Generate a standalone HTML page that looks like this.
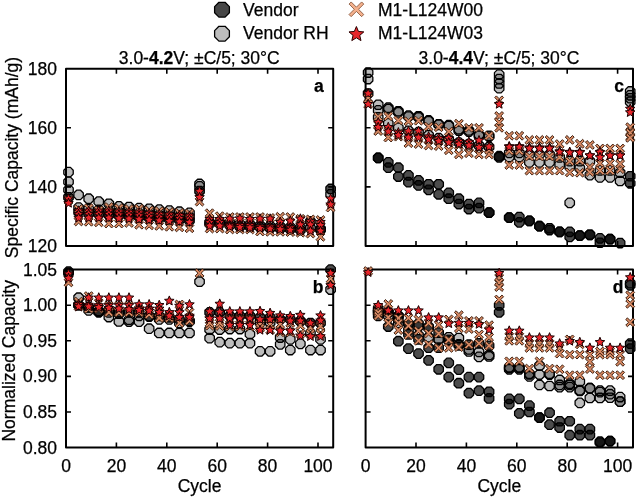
<!DOCTYPE html><html><head><meta charset="utf-8"><style>html,body{margin:0;padding:0;background:#fff;overflow:hidden;width:637px;height:497px;}svg{display:block;filter:blur(0.5px);}</style></head><body>
<svg width="637" height="497" viewBox="0 0 637 497" font-family='"Liberation Sans", sans-serif'>
<rect width="637" height="497" fill="#fff"/>
<rect x="66.00" y="68.70" width="267.20" height="177.30" fill="none" stroke="#000" stroke-width="2" stroke-linejoin="round"/>
<path d="M116.40 68.70V73.70M116.40 246.00V241.00" stroke="#000" stroke-width="1.6"/>
<path d="M166.80 68.70V73.70M166.80 246.00V241.00" stroke="#000" stroke-width="1.6"/>
<path d="M217.20 68.70V73.70M217.20 246.00V241.00" stroke="#000" stroke-width="1.6"/>
<path d="M267.60 68.70V73.70M267.60 246.00V241.00" stroke="#000" stroke-width="1.6"/>
<path d="M318.00 68.70V73.70M318.00 246.00V241.00" stroke="#000" stroke-width="1.6"/>
<path d="M66.00 186.90H71.00M333.20 186.90H328.20" stroke="#000" stroke-width="1.6"/>
<path d="M66.00 127.80H71.00M333.20 127.80H328.20" stroke="#000" stroke-width="1.6"/>
<rect x="365.60" y="68.70" width="267.40" height="177.30" fill="none" stroke="#000" stroke-width="2" stroke-linejoin="round"/>
<path d="M416.00 68.70V73.70M416.00 246.00V241.00" stroke="#000" stroke-width="1.6"/>
<path d="M466.40 68.70V73.70M466.40 246.00V241.00" stroke="#000" stroke-width="1.6"/>
<path d="M516.80 68.70V73.70M516.80 246.00V241.00" stroke="#000" stroke-width="1.6"/>
<path d="M567.20 68.70V73.70M567.20 246.00V241.00" stroke="#000" stroke-width="1.6"/>
<path d="M617.60 68.70V73.70M617.60 246.00V241.00" stroke="#000" stroke-width="1.6"/>
<path d="M365.60 186.90H370.60M633.00 186.90H628.00" stroke="#000" stroke-width="1.6"/>
<path d="M365.60 127.80H370.60M633.00 127.80H628.00" stroke="#000" stroke-width="1.6"/>
<rect x="66.00" y="269.60" width="267.20" height="178.00" fill="none" stroke="#000" stroke-width="2" stroke-linejoin="round"/>
<path d="M116.40 269.60V274.60M116.40 447.60V442.60" stroke="#000" stroke-width="1.6"/>
<path d="M166.80 269.60V274.60M166.80 447.60V442.60" stroke="#000" stroke-width="1.6"/>
<path d="M217.20 269.60V274.60M217.20 447.60V442.60" stroke="#000" stroke-width="1.6"/>
<path d="M267.60 269.60V274.60M267.60 447.60V442.60" stroke="#000" stroke-width="1.6"/>
<path d="M318.00 269.60V274.60M318.00 447.60V442.60" stroke="#000" stroke-width="1.6"/>
<path d="M66.00 412.00H71.00M333.20 412.00H328.20" stroke="#000" stroke-width="1.6"/>
<path d="M66.00 376.40H71.00M333.20 376.40H328.20" stroke="#000" stroke-width="1.6"/>
<path d="M66.00 340.80H71.00M333.20 340.80H328.20" stroke="#000" stroke-width="1.6"/>
<path d="M66.00 305.20H71.00M333.20 305.20H328.20" stroke="#000" stroke-width="1.6"/>
<rect x="365.60" y="269.60" width="267.40" height="178.00" fill="none" stroke="#000" stroke-width="2" stroke-linejoin="round"/>
<path d="M416.00 269.60V274.60M416.00 447.60V442.60" stroke="#000" stroke-width="1.6"/>
<path d="M466.40 269.60V274.60M466.40 447.60V442.60" stroke="#000" stroke-width="1.6"/>
<path d="M516.80 269.60V274.60M516.80 447.60V442.60" stroke="#000" stroke-width="1.6"/>
<path d="M567.20 269.60V274.60M567.20 447.60V442.60" stroke="#000" stroke-width="1.6"/>
<path d="M617.60 269.60V274.60M617.60 447.60V442.60" stroke="#000" stroke-width="1.6"/>
<path d="M365.60 412.00H370.60M633.00 412.00H628.00" stroke="#000" stroke-width="1.6"/>
<path d="M365.60 376.40H370.60M633.00 376.40H628.00" stroke="#000" stroke-width="1.6"/>
<path d="M365.60 340.80H370.60M633.00 340.80H628.00" stroke="#000" stroke-width="1.6"/>
<path d="M365.60 305.20H370.60M633.00 305.20H628.00" stroke="#000" stroke-width="1.6"/>
<polygon points="83.31,196.83 80.55,199.59 76.65,199.59 73.89,196.83 73.89,192.93 76.65,190.17 80.55,190.17 83.31,192.93" fill="rgba(0,0,0,0.26)" stroke="#000" stroke-width="1.30" stroke-linejoin="round"/>
<polygon points="93.39,200.67 90.63,203.43 86.73,203.43 83.97,200.67 83.97,196.77 86.73,194.01 90.63,194.01 93.39,196.77" fill="rgba(0,0,0,0.26)" stroke="#000" stroke-width="1.30" stroke-linejoin="round"/>
<polygon points="103.47,203.63 100.71,206.39 96.81,206.39 94.05,203.63 94.05,199.72 96.81,196.96 100.71,196.96 103.47,199.72" fill="rgba(0,0,0,0.26)" stroke="#000" stroke-width="1.30" stroke-linejoin="round"/>
<polygon points="113.55,205.70 110.79,208.46 106.89,208.46 104.13,205.70 104.13,201.79 106.89,199.03 110.79,199.03 113.55,201.79" fill="rgba(0,0,0,0.26)" stroke="#000" stroke-width="1.30" stroke-linejoin="round"/>
<polygon points="123.63,208.35 120.87,211.11 116.97,211.11 114.21,208.35 114.21,204.45 116.97,201.69 120.87,201.69 123.63,204.45" fill="rgba(0,0,0,0.26)" stroke="#000" stroke-width="1.30" stroke-linejoin="round"/>
<polygon points="133.71,208.95 130.95,211.71 127.05,211.71 124.29,208.95 124.29,205.04 127.05,202.28 130.95,202.28 133.71,205.04" fill="rgba(0,0,0,0.26)" stroke="#000" stroke-width="1.30" stroke-linejoin="round"/>
<polygon points="143.79,210.13 141.03,212.89 137.13,212.89 134.37,210.13 134.37,206.22 137.13,203.46 141.03,203.46 143.79,206.22" fill="rgba(0,0,0,0.26)" stroke="#000" stroke-width="1.30" stroke-linejoin="round"/>
<polygon points="153.87,210.72 151.11,213.48 147.21,213.48 144.45,210.72 144.45,206.82 147.21,204.06 151.11,204.06 153.87,206.82" fill="rgba(0,0,0,0.26)" stroke="#000" stroke-width="1.30" stroke-linejoin="round"/>
<polygon points="163.95,211.61 161.19,214.37 157.29,214.37 154.53,211.61 154.53,207.70 157.29,204.94 161.19,204.94 163.95,207.70" fill="rgba(0,0,0,0.26)" stroke="#000" stroke-width="1.30" stroke-linejoin="round"/>
<polygon points="174.03,212.49 171.27,215.25 167.37,215.25 164.61,212.49 164.61,208.59 167.37,205.83 171.27,205.83 174.03,208.59" fill="rgba(0,0,0,0.26)" stroke="#000" stroke-width="1.30" stroke-linejoin="round"/>
<polygon points="184.11,213.67 181.35,216.43 177.45,216.43 174.69,213.67 174.69,209.77 177.45,207.01 181.35,207.01 184.11,209.77" fill="rgba(0,0,0,0.26)" stroke="#000" stroke-width="1.30" stroke-linejoin="round"/>
<polygon points="194.19,214.86 191.43,217.62 187.53,217.62 184.77,214.86 184.77,210.95 187.53,208.19 191.43,208.19 194.19,210.95" fill="rgba(0,0,0,0.26)" stroke="#000" stroke-width="1.30" stroke-linejoin="round"/>
<polygon points="83.31,209.54 80.55,212.30 76.65,212.30 73.89,209.54 73.89,205.63 76.65,202.87 80.55,202.87 83.31,205.63" fill="rgba(0,0,0,0.26)" stroke="#000" stroke-width="1.30" stroke-linejoin="round"/>
<polygon points="93.39,211.01 90.63,213.77 86.73,213.77 83.97,211.01 83.97,207.11 86.73,204.35 90.63,204.35 93.39,207.11" fill="rgba(0,0,0,0.26)" stroke="#000" stroke-width="1.30" stroke-linejoin="round"/>
<polygon points="103.47,211.90 100.71,214.66 96.81,214.66 94.05,211.90 94.05,208.00 96.81,205.24 100.71,205.24 103.47,208.00" fill="rgba(0,0,0,0.26)" stroke="#000" stroke-width="1.30" stroke-linejoin="round"/>
<polygon points="113.55,213.08 110.79,215.84 106.89,215.84 104.13,213.08 104.13,209.18 106.89,206.42 110.79,206.42 113.55,209.18" fill="rgba(0,0,0,0.26)" stroke="#000" stroke-width="1.30" stroke-linejoin="round"/>
<polygon points="123.63,213.97 120.87,216.73 116.97,216.73 114.21,213.97 114.21,210.07 116.97,207.31 120.87,207.31 123.63,210.07" fill="rgba(0,0,0,0.26)" stroke="#000" stroke-width="1.30" stroke-linejoin="round"/>
<polygon points="133.71,214.56 130.95,217.32 127.05,217.32 124.29,214.56 124.29,210.66 127.05,207.90 130.95,207.90 133.71,210.66" fill="rgba(0,0,0,0.26)" stroke="#000" stroke-width="1.30" stroke-linejoin="round"/>
<polygon points="143.79,215.45 141.03,218.21 137.13,218.21 134.37,215.45 134.37,211.54 137.13,208.78 141.03,208.78 143.79,211.54" fill="rgba(0,0,0,0.26)" stroke="#000" stroke-width="1.30" stroke-linejoin="round"/>
<polygon points="153.87,216.04 151.11,218.80 147.21,218.80 144.45,216.04 144.45,212.13 147.21,209.37 151.11,209.37 153.87,212.13" fill="rgba(0,0,0,0.26)" stroke="#000" stroke-width="1.30" stroke-linejoin="round"/>
<polygon points="163.95,216.92 161.19,219.68 157.29,219.68 154.53,216.92 154.53,213.02 157.29,210.26 161.19,210.26 163.95,213.02" fill="rgba(0,0,0,0.26)" stroke="#000" stroke-width="1.30" stroke-linejoin="round"/>
<polygon points="174.03,217.52 171.27,220.28 167.37,220.28 164.61,217.52 164.61,213.61 167.37,210.85 171.27,210.85 174.03,213.61" fill="rgba(0,0,0,0.26)" stroke="#000" stroke-width="1.30" stroke-linejoin="round"/>
<polygon points="184.11,218.40 181.35,221.16 177.45,221.16 174.69,218.40 174.69,214.50 177.45,211.74 181.35,211.74 184.11,214.50" fill="rgba(0,0,0,0.26)" stroke="#000" stroke-width="1.30" stroke-linejoin="round"/>
<polygon points="194.19,218.99 191.43,221.75 187.53,221.75 184.77,218.99 184.77,215.09 187.53,212.33 191.43,212.33 194.19,215.09" fill="rgba(0,0,0,0.26)" stroke="#000" stroke-width="1.30" stroke-linejoin="round"/>
<polygon points="214.35,224.31 211.59,227.07 207.69,227.07 204.93,224.31 204.93,220.41 207.69,217.65 211.59,217.65 214.35,220.41" fill="rgba(0,0,0,0.26)" stroke="#000" stroke-width="1.30" stroke-linejoin="round"/>
<polygon points="224.43,224.31 221.67,227.07 217.77,227.07 215.01,224.31 215.01,220.41 217.77,217.65 221.67,217.65 224.43,220.41" fill="rgba(0,0,0,0.26)" stroke="#000" stroke-width="1.30" stroke-linejoin="round"/>
<polygon points="234.51,224.90 231.75,227.66 227.85,227.66 225.09,224.90 225.09,221.00 227.85,218.24 231.75,218.24 234.51,221.00" fill="rgba(0,0,0,0.26)" stroke="#000" stroke-width="1.30" stroke-linejoin="round"/>
<polygon points="244.59,225.79 241.83,228.55 237.93,228.55 235.17,225.79 235.17,221.89 237.93,219.13 241.83,219.13 244.59,221.89" fill="rgba(0,0,0,0.26)" stroke="#000" stroke-width="1.30" stroke-linejoin="round"/>
<polygon points="254.67,226.38 251.91,229.14 248.01,229.14 245.25,226.38 245.25,222.48 248.01,219.72 251.91,219.72 254.67,222.48" fill="rgba(0,0,0,0.26)" stroke="#000" stroke-width="1.30" stroke-linejoin="round"/>
<polygon points="264.75,227.27 261.99,230.03 258.09,230.03 255.33,227.27 255.33,223.36 258.09,220.60 261.99,220.60 264.75,223.36" fill="rgba(0,0,0,0.26)" stroke="#000" stroke-width="1.30" stroke-linejoin="round"/>
<polygon points="274.83,227.86 272.07,230.62 268.17,230.62 265.41,227.86 265.41,223.95 268.17,221.19 272.07,221.19 274.83,223.95" fill="rgba(0,0,0,0.26)" stroke="#000" stroke-width="1.30" stroke-linejoin="round"/>
<polygon points="284.91,228.45 282.15,231.21 278.25,231.21 275.49,228.45 275.49,224.55 278.25,221.79 282.15,221.79 284.91,224.55" fill="rgba(0,0,0,0.26)" stroke="#000" stroke-width="1.30" stroke-linejoin="round"/>
<polygon points="294.99,229.04 292.23,231.80 288.33,231.80 285.57,229.04 285.57,225.14 288.33,222.38 292.23,222.38 294.99,225.14" fill="rgba(0,0,0,0.26)" stroke="#000" stroke-width="1.30" stroke-linejoin="round"/>
<polygon points="305.07,229.63 302.31,232.39 298.41,232.39 295.65,229.63 295.65,225.73 298.41,222.97 302.31,222.97 305.07,225.73" fill="rgba(0,0,0,0.26)" stroke="#000" stroke-width="1.30" stroke-linejoin="round"/>
<polygon points="315.15,230.22 312.39,232.98 308.49,232.98 305.73,230.22 305.73,226.32 308.49,223.56 312.39,223.56 315.15,226.32" fill="rgba(0,0,0,0.26)" stroke="#000" stroke-width="1.30" stroke-linejoin="round"/>
<polygon points="325.23,230.81 322.47,233.57 318.57,233.57 315.81,230.81 315.81,226.91 318.57,224.15 322.47,224.15 325.23,226.91" fill="rgba(0,0,0,0.26)" stroke="#000" stroke-width="1.30" stroke-linejoin="round"/>
<polygon points="73.23,174.08 70.47,176.84 66.57,176.84 63.81,174.08 63.81,170.17 66.57,167.41 70.47,167.41 73.23,170.17" fill="rgba(0,0,0,0.26)" stroke="#000" stroke-width="1.30" stroke-linejoin="round"/>
<polygon points="73.23,183.83 70.47,186.59 66.57,186.59 63.81,183.83 63.81,179.92 66.57,177.16 70.47,177.16 73.23,179.92" fill="rgba(0,0,0,0.26)" stroke="#000" stroke-width="1.30" stroke-linejoin="round"/>
<polygon points="73.23,191.81 70.47,194.57 66.57,194.57 63.81,191.81 63.81,187.90 66.57,185.14 70.47,185.14 73.23,187.90" fill="rgba(0,0,0,0.26)" stroke="#000" stroke-width="1.30" stroke-linejoin="round"/>
<polygon points="204.27,185.90 201.51,188.66 197.61,188.66 194.85,185.90 194.85,181.99 197.61,179.23 201.51,179.23 204.27,181.99" fill="rgba(0,0,0,0.26)" stroke="#000" stroke-width="1.30" stroke-linejoin="round"/>
<polygon points="204.27,188.26 201.51,191.02 197.61,191.02 194.85,188.26 194.85,184.36 197.61,181.60 201.51,181.60 204.27,184.36" fill="rgba(0,0,0,0.26)" stroke="#000" stroke-width="1.30" stroke-linejoin="round"/>
<polygon points="335.31,196.24 332.55,199.00 328.65,199.00 325.89,196.24 325.89,192.34 328.65,189.58 332.55,189.58 335.31,192.34" fill="rgba(0,0,0,0.26)" stroke="#000" stroke-width="1.30" stroke-linejoin="round"/>
<polygon points="83.31,213.97 80.55,216.73 76.65,216.73 73.89,213.97 73.89,210.07 76.65,207.31 80.55,207.31 83.31,210.07" fill="rgba(0,0,0,0.70)" stroke="#000" stroke-width="1.30" stroke-linejoin="round"/>
<polygon points="93.39,215.45 90.63,218.21 86.73,218.21 83.97,215.45 83.97,211.54 86.73,208.78 90.63,208.78 93.39,211.54" fill="rgba(0,0,0,0.70)" stroke="#000" stroke-width="1.30" stroke-linejoin="round"/>
<polygon points="103.47,216.04 100.71,218.80 96.81,218.80 94.05,216.04 94.05,212.13 96.81,209.37 100.71,209.37 103.47,212.13" fill="rgba(0,0,0,0.70)" stroke="#000" stroke-width="1.30" stroke-linejoin="round"/>
<polygon points="113.55,216.92 110.79,219.68 106.89,219.68 104.13,216.92 104.13,213.02 106.89,210.26 110.79,210.26 113.55,213.02" fill="rgba(0,0,0,0.70)" stroke="#000" stroke-width="1.30" stroke-linejoin="round"/>
<polygon points="123.63,217.52 120.87,220.28 116.97,220.28 114.21,217.52 114.21,213.61 116.97,210.85 120.87,210.85 123.63,213.61" fill="rgba(0,0,0,0.70)" stroke="#000" stroke-width="1.30" stroke-linejoin="round"/>
<polygon points="133.71,218.40 130.95,221.16 127.05,221.16 124.29,218.40 124.29,214.50 127.05,211.74 130.95,211.74 133.71,214.50" fill="rgba(0,0,0,0.70)" stroke="#000" stroke-width="1.30" stroke-linejoin="round"/>
<polygon points="143.79,218.99 141.03,221.75 137.13,221.75 134.37,218.99 134.37,215.09 137.13,212.33 141.03,212.33 143.79,215.09" fill="rgba(0,0,0,0.70)" stroke="#000" stroke-width="1.30" stroke-linejoin="round"/>
<polygon points="153.87,219.88 151.11,222.64 147.21,222.64 144.45,219.88 144.45,215.98 147.21,213.22 151.11,213.22 153.87,215.98" fill="rgba(0,0,0,0.70)" stroke="#000" stroke-width="1.30" stroke-linejoin="round"/>
<polygon points="163.95,220.47 161.19,223.23 157.29,223.23 154.53,220.47 154.53,216.57 157.29,213.81 161.19,213.81 163.95,216.57" fill="rgba(0,0,0,0.70)" stroke="#000" stroke-width="1.30" stroke-linejoin="round"/>
<polygon points="174.03,221.36 171.27,224.12 167.37,224.12 164.61,221.36 164.61,217.45 167.37,214.69 171.27,214.69 174.03,217.45" fill="rgba(0,0,0,0.70)" stroke="#000" stroke-width="1.30" stroke-linejoin="round"/>
<polygon points="184.11,221.95 181.35,224.71 177.45,224.71 174.69,221.95 174.69,218.04 177.45,215.28 181.35,215.28 184.11,218.04" fill="rgba(0,0,0,0.70)" stroke="#000" stroke-width="1.30" stroke-linejoin="round"/>
<polygon points="194.19,222.54 191.43,225.30 187.53,225.30 184.77,222.54 184.77,218.64 187.53,215.88 191.43,215.88 194.19,218.64" fill="rgba(0,0,0,0.70)" stroke="#000" stroke-width="1.30" stroke-linejoin="round"/>
<polygon points="214.35,225.79 211.59,228.55 207.69,228.55 204.93,225.79 204.93,221.89 207.69,219.13 211.59,219.13 214.35,221.89" fill="rgba(0,0,0,0.70)" stroke="#000" stroke-width="1.30" stroke-linejoin="round"/>
<polygon points="224.43,225.79 221.67,228.55 217.77,228.55 215.01,225.79 215.01,221.89 217.77,219.13 221.67,219.13 224.43,221.89" fill="rgba(0,0,0,0.70)" stroke="#000" stroke-width="1.30" stroke-linejoin="round"/>
<polygon points="234.51,227.27 231.75,230.03 227.85,230.03 225.09,227.27 225.09,223.36 227.85,220.60 231.75,220.60 234.51,223.36" fill="rgba(0,0,0,0.70)" stroke="#000" stroke-width="1.30" stroke-linejoin="round"/>
<polygon points="244.59,228.74 241.83,231.50 237.93,231.50 235.17,228.74 235.17,224.84 237.93,222.08 241.83,222.08 244.59,224.84" fill="rgba(0,0,0,0.70)" stroke="#000" stroke-width="1.30" stroke-linejoin="round"/>
<polygon points="254.67,228.74 251.91,231.50 248.01,231.50 245.25,228.74 245.25,224.84 248.01,222.08 251.91,222.08 254.67,224.84" fill="rgba(0,0,0,0.70)" stroke="#000" stroke-width="1.30" stroke-linejoin="round"/>
<polygon points="264.75,229.34 261.99,232.10 258.09,232.10 255.33,229.34 255.33,225.43 258.09,222.67 261.99,222.67 264.75,225.43" fill="rgba(0,0,0,0.70)" stroke="#000" stroke-width="1.30" stroke-linejoin="round"/>
<polygon points="274.83,230.22 272.07,232.98 268.17,232.98 265.41,230.22 265.41,226.32 268.17,223.56 272.07,223.56 274.83,226.32" fill="rgba(0,0,0,0.70)" stroke="#000" stroke-width="1.30" stroke-linejoin="round"/>
<polygon points="284.91,230.81 282.15,233.57 278.25,233.57 275.49,230.81 275.49,226.91 278.25,224.15 282.15,224.15 284.91,226.91" fill="rgba(0,0,0,0.70)" stroke="#000" stroke-width="1.30" stroke-linejoin="round"/>
<polygon points="294.99,231.40 292.23,234.16 288.33,234.16 285.57,231.40 285.57,227.50 288.33,224.74 292.23,224.74 294.99,227.50" fill="rgba(0,0,0,0.70)" stroke="#000" stroke-width="1.30" stroke-linejoin="round"/>
<polygon points="305.07,231.99 302.31,234.75 298.41,234.75 295.65,231.99 295.65,228.09 298.41,225.33 302.31,225.33 305.07,228.09" fill="rgba(0,0,0,0.70)" stroke="#000" stroke-width="1.30" stroke-linejoin="round"/>
<polygon points="315.15,223.43 312.39,226.19 308.49,226.19 305.73,223.43 305.73,219.52 308.49,216.76 312.39,216.76 315.15,219.52" fill="rgba(0,0,0,0.70)" stroke="#000" stroke-width="1.30" stroke-linejoin="round"/>
<polygon points="325.23,231.70 322.47,234.46 318.57,234.46 315.81,231.70 315.81,227.80 318.57,225.04 322.47,225.04 325.23,227.80" fill="rgba(0,0,0,0.70)" stroke="#000" stroke-width="1.30" stroke-linejoin="round"/>
<polygon points="73.23,199.19 70.47,201.95 66.57,201.95 63.81,199.19 63.81,195.29 66.57,192.53 70.47,192.53 73.23,195.29" fill="rgba(0,0,0,0.70)" stroke="#000" stroke-width="1.30" stroke-linejoin="round"/>
<polygon points="204.27,192.99 201.51,195.75 197.61,195.75 194.85,192.99 194.85,189.09 197.61,186.33 201.51,186.33 204.27,189.09" fill="rgba(0,0,0,0.70)" stroke="#000" stroke-width="1.30" stroke-linejoin="round"/>
<polygon points="335.31,190.92 332.55,193.68 328.65,193.68 325.89,190.92 325.89,187.02 328.65,184.26 332.55,184.26 335.31,187.02" fill="rgba(0,0,0,0.70)" stroke="#000" stroke-width="1.30" stroke-linejoin="round"/>
<polygon points="78.60,210.69 81.39,213.48 83.02,211.86 80.23,209.06 83.02,206.27 81.39,204.64 78.60,207.44 75.81,204.64 74.18,206.27 76.97,209.06 74.18,211.86 75.81,213.48" fill="#d98a64" stroke="#3f2212" stroke-width="1.00" stroke-linejoin="round"/>
<polygon points="88.68,209.80 91.47,212.60 93.10,210.97 90.31,208.18 93.10,205.38 91.47,203.76 88.68,206.55 85.89,203.76 84.26,205.38 87.05,208.18 84.26,210.97 85.89,212.60" fill="#d98a64" stroke="#3f2212" stroke-width="1.00" stroke-linejoin="round"/>
<polygon points="98.76,212.17 101.55,214.96 103.18,213.33 100.39,210.54 103.18,207.75 101.55,206.12 98.76,208.91 95.97,206.12 94.34,207.75 97.13,210.54 94.34,213.33 95.97,214.96" fill="#d98a64" stroke="#3f2212" stroke-width="1.00" stroke-linejoin="round"/>
<polygon points="108.84,208.62 111.63,211.41 113.26,209.79 110.47,206.99 113.26,204.20 111.63,202.57 108.84,205.37 106.05,202.57 104.42,204.20 107.21,206.99 104.42,209.79 106.05,211.41" fill="#d98a64" stroke="#3f2212" stroke-width="1.00" stroke-linejoin="round"/>
<polygon points="118.92,209.80 121.71,212.60 123.34,210.97 120.55,208.18 123.34,205.38 121.71,203.76 118.92,206.55 116.13,203.76 114.50,205.38 117.29,208.18 114.50,210.97 116.13,212.60" fill="#d98a64" stroke="#3f2212" stroke-width="1.00" stroke-linejoin="round"/>
<polygon points="129.00,210.69 131.79,213.48 133.42,211.86 130.63,209.06 133.42,206.27 131.79,204.64 129.00,207.44 126.21,204.64 124.58,206.27 127.37,209.06 124.58,211.86 126.21,213.48" fill="#d98a64" stroke="#3f2212" stroke-width="1.00" stroke-linejoin="round"/>
<polygon points="139.08,210.39 141.87,213.19 143.50,211.56 140.71,208.77 143.50,205.97 141.87,204.35 139.08,207.14 136.29,204.35 134.66,205.97 137.45,208.77 134.66,211.56 136.29,213.19" fill="#d98a64" stroke="#3f2212" stroke-width="1.00" stroke-linejoin="round"/>
<polygon points="149.16,212.17 151.95,214.96 153.58,213.33 150.79,210.54 153.58,207.75 151.95,206.12 149.16,208.91 146.37,206.12 144.74,207.75 147.53,210.54 144.74,213.33 146.37,214.96" fill="#d98a64" stroke="#3f2212" stroke-width="1.00" stroke-linejoin="round"/>
<polygon points="159.24,212.76 162.03,215.55 163.66,213.92 160.87,211.13 163.66,208.34 162.03,206.71 159.24,209.50 156.45,206.71 154.82,208.34 157.61,211.13 154.82,213.92 156.45,215.55" fill="#d98a64" stroke="#3f2212" stroke-width="1.00" stroke-linejoin="round"/>
<polygon points="169.32,213.64 172.11,216.44 173.74,214.81 170.95,212.02 173.74,209.22 172.11,207.60 169.32,210.39 166.53,207.60 164.90,209.22 167.69,212.02 164.90,214.81 166.53,216.44" fill="#d98a64" stroke="#3f2212" stroke-width="1.00" stroke-linejoin="round"/>
<polygon points="179.40,214.53 182.19,217.32 183.82,215.70 181.03,212.90 183.82,210.11 182.19,208.48 179.40,211.28 176.61,208.48 174.98,210.11 177.77,212.90 174.98,215.70 176.61,217.32" fill="#d98a64" stroke="#3f2212" stroke-width="1.00" stroke-linejoin="round"/>
<polygon points="189.48,215.12 192.27,217.91 193.90,216.29 191.11,213.50 193.90,210.70 192.27,209.08 189.48,211.87 186.69,209.08 185.06,210.70 187.85,213.50 185.06,216.29 186.69,217.91" fill="#d98a64" stroke="#3f2212" stroke-width="1.00" stroke-linejoin="round"/>
<polygon points="78.60,223.10 81.39,225.89 83.02,224.27 80.23,221.47 83.02,218.68 81.39,217.05 78.60,219.85 75.81,217.05 74.18,218.68 76.97,221.47 74.18,224.27 75.81,225.89" fill="#d98a64" stroke="#3f2212" stroke-width="1.00" stroke-linejoin="round"/>
<polygon points="88.68,223.40 91.47,226.19 93.10,224.56 90.31,221.77 93.10,218.98 91.47,217.35 88.68,220.14 85.89,217.35 84.26,218.98 87.05,221.77 84.26,224.56 85.89,226.19" fill="#d98a64" stroke="#3f2212" stroke-width="1.00" stroke-linejoin="round"/>
<polygon points="98.76,223.99 101.55,226.78 103.18,225.15 100.39,222.36 103.18,219.57 101.55,217.94 98.76,220.73 95.97,217.94 94.34,219.57 97.13,222.36 94.34,225.15 95.97,226.78" fill="#d98a64" stroke="#3f2212" stroke-width="1.00" stroke-linejoin="round"/>
<polygon points="108.84,225.17 111.63,227.96 113.26,226.34 110.47,223.54 113.26,220.75 111.63,219.12 108.84,221.92 106.05,219.12 104.42,220.75 107.21,223.54 104.42,226.34 106.05,227.96" fill="#d98a64" stroke="#3f2212" stroke-width="1.00" stroke-linejoin="round"/>
<polygon points="118.92,225.17 121.71,227.96 123.34,226.34 120.55,223.54 123.34,220.75 121.71,219.12 118.92,221.92 116.13,219.12 114.50,220.75 117.29,223.54 114.50,226.34 116.13,227.96" fill="#d98a64" stroke="#3f2212" stroke-width="1.00" stroke-linejoin="round"/>
<polygon points="129.00,224.58 131.79,227.37 133.42,225.74 130.63,222.95 133.42,220.16 131.79,218.53 129.00,221.32 126.21,218.53 124.58,220.16 127.37,222.95 124.58,225.74 126.21,227.37" fill="#d98a64" stroke="#3f2212" stroke-width="1.00" stroke-linejoin="round"/>
<polygon points="139.08,226.35 141.87,229.14 143.50,227.52 140.71,224.72 143.50,221.93 141.87,220.30 139.08,223.10 136.29,220.30 134.66,221.93 137.45,224.72 134.66,227.52 136.29,229.14" fill="#d98a64" stroke="#3f2212" stroke-width="1.00" stroke-linejoin="round"/>
<polygon points="149.16,226.94 151.95,229.73 153.58,228.11 150.79,225.31 153.58,222.52 151.95,220.90 149.16,223.69 146.37,220.90 144.74,222.52 147.53,225.31 144.74,228.11 146.37,229.73" fill="#d98a64" stroke="#3f2212" stroke-width="1.00" stroke-linejoin="round"/>
<polygon points="159.24,227.53 162.03,230.33 163.66,228.70 160.87,225.91 163.66,223.11 162.03,221.49 159.24,224.28 156.45,221.49 154.82,223.11 157.61,225.91 154.82,228.70 156.45,230.33" fill="#d98a64" stroke="#3f2212" stroke-width="1.00" stroke-linejoin="round"/>
<polygon points="169.32,228.42 172.11,231.21 173.74,229.59 170.95,226.79 173.74,224.00 172.11,222.37 169.32,225.17 166.53,222.37 164.90,224.00 167.69,226.79 164.90,229.59 166.53,231.21" fill="#d98a64" stroke="#3f2212" stroke-width="1.00" stroke-linejoin="round"/>
<polygon points="179.40,229.01 182.19,231.80 183.82,230.18 181.03,227.38 183.82,224.59 182.19,222.96 179.40,225.76 176.61,222.96 174.98,224.59 177.77,227.38 174.98,230.18 176.61,231.80" fill="#d98a64" stroke="#3f2212" stroke-width="1.00" stroke-linejoin="round"/>
<polygon points="189.48,229.90 192.27,232.69 193.90,231.06 191.11,228.27 193.90,225.48 192.27,223.85 189.48,226.64 186.69,223.85 185.06,225.48 187.85,228.27 185.06,231.06 186.69,232.69" fill="#d98a64" stroke="#3f2212" stroke-width="1.00" stroke-linejoin="round"/>
<polygon points="209.64,214.83 212.43,217.62 214.06,215.99 211.27,213.20 214.06,210.41 212.43,208.78 209.64,211.57 206.85,208.78 205.22,210.41 208.01,213.20 205.22,215.99 206.85,217.62" fill="#d98a64" stroke="#3f2212" stroke-width="1.00" stroke-linejoin="round"/>
<polygon points="219.72,217.78 222.51,220.57 224.14,218.95 221.35,216.15 224.14,213.36 222.51,211.74 219.72,214.53 216.93,211.74 215.30,213.36 218.09,216.15 215.30,218.95 216.93,220.57" fill="#d98a64" stroke="#3f2212" stroke-width="1.00" stroke-linejoin="round"/>
<polygon points="229.80,218.67 232.59,221.46 234.22,219.83 231.43,217.04 234.22,214.25 232.59,212.62 229.80,215.41 227.01,212.62 225.38,214.25 228.17,217.04 225.38,219.83 227.01,221.46" fill="#d98a64" stroke="#3f2212" stroke-width="1.00" stroke-linejoin="round"/>
<polygon points="239.88,218.67 242.67,221.46 244.30,219.83 241.51,217.04 244.30,214.25 242.67,212.62 239.88,215.41 237.09,212.62 235.46,214.25 238.25,217.04 235.46,219.83 237.09,221.46" fill="#d98a64" stroke="#3f2212" stroke-width="1.00" stroke-linejoin="round"/>
<polygon points="249.96,218.67 252.75,221.46 254.38,219.83 251.59,217.04 254.38,214.25 252.75,212.62 249.96,215.41 247.17,212.62 245.54,214.25 248.33,217.04 245.54,219.83 247.17,221.46" fill="#d98a64" stroke="#3f2212" stroke-width="1.00" stroke-linejoin="round"/>
<polygon points="260.04,218.67 262.83,221.46 264.46,219.83 261.67,217.04 264.46,214.25 262.83,212.62 260.04,215.41 257.25,212.62 255.62,214.25 258.41,217.04 255.62,219.83 257.25,221.46" fill="#d98a64" stroke="#3f2212" stroke-width="1.00" stroke-linejoin="round"/>
<polygon points="270.12,219.55 272.91,222.35 274.54,220.72 271.75,217.93 274.54,215.13 272.91,213.51 270.12,216.30 267.33,213.51 265.70,215.13 268.49,217.93 265.70,220.72 267.33,222.35" fill="#d98a64" stroke="#3f2212" stroke-width="1.00" stroke-linejoin="round"/>
<polygon points="280.20,218.37 282.99,221.16 284.62,219.54 281.83,216.75 284.62,213.95 282.99,212.33 280.20,215.12 277.41,212.33 275.78,213.95 278.57,216.75 275.78,219.54 277.41,221.16" fill="#d98a64" stroke="#3f2212" stroke-width="1.00" stroke-linejoin="round"/>
<polygon points="290.28,218.67 293.07,221.46 294.70,219.83 291.91,217.04 294.70,214.25 293.07,212.62 290.28,215.41 287.49,212.62 285.86,214.25 288.65,217.04 285.86,219.83 287.49,221.46" fill="#d98a64" stroke="#3f2212" stroke-width="1.00" stroke-linejoin="round"/>
<polygon points="300.36,220.44 303.15,223.23 304.78,221.61 301.99,218.81 304.78,216.02 303.15,214.39 300.36,217.19 297.57,214.39 295.94,216.02 298.73,218.81 295.94,221.61 297.57,223.23" fill="#d98a64" stroke="#3f2212" stroke-width="1.00" stroke-linejoin="round"/>
<polygon points="310.44,221.03 313.23,223.82 314.86,222.20 312.07,219.41 314.86,216.61 313.23,214.99 310.44,217.78 307.65,214.99 306.02,216.61 308.81,219.41 306.02,222.20 307.65,223.82" fill="#d98a64" stroke="#3f2212" stroke-width="1.00" stroke-linejoin="round"/>
<polygon points="320.52,221.62 323.31,224.42 324.94,222.79 322.15,220.00 324.94,217.20 323.31,215.58 320.52,218.37 317.73,215.58 316.10,217.20 318.89,220.00 316.10,222.79 317.73,224.42" fill="#d98a64" stroke="#3f2212" stroke-width="1.00" stroke-linejoin="round"/>
<polygon points="209.64,230.19 212.43,232.98 214.06,231.36 211.27,228.57 214.06,225.77 212.43,224.15 209.64,226.94 206.85,224.15 205.22,225.77 208.01,228.57 205.22,231.36 206.85,232.98" fill="#d98a64" stroke="#3f2212" stroke-width="1.00" stroke-linejoin="round"/>
<polygon points="219.72,230.19 222.51,232.98 224.14,231.36 221.35,228.57 224.14,225.77 222.51,224.15 219.72,226.94 216.93,224.15 215.30,225.77 218.09,228.57 215.30,231.36 216.93,232.98" fill="#d98a64" stroke="#3f2212" stroke-width="1.00" stroke-linejoin="round"/>
<polygon points="229.80,231.08 232.59,233.87 234.22,232.25 231.43,229.45 234.22,226.66 232.59,225.03 229.80,227.83 227.01,225.03 225.38,226.66 228.17,229.45 225.38,232.25 227.01,233.87" fill="#d98a64" stroke="#3f2212" stroke-width="1.00" stroke-linejoin="round"/>
<polygon points="239.88,231.08 242.67,233.87 244.30,232.25 241.51,229.45 244.30,226.66 242.67,225.03 239.88,227.83 237.09,225.03 235.46,226.66 238.25,229.45 235.46,232.25 237.09,233.87" fill="#d98a64" stroke="#3f2212" stroke-width="1.00" stroke-linejoin="round"/>
<polygon points="249.96,231.08 252.75,233.87 254.38,232.25 251.59,229.45 254.38,226.66 252.75,225.03 249.96,227.83 247.17,225.03 245.54,226.66 248.33,229.45 245.54,232.25 247.17,233.87" fill="#d98a64" stroke="#3f2212" stroke-width="1.00" stroke-linejoin="round"/>
<polygon points="260.04,233.15 262.83,235.94 264.46,234.31 261.67,231.52 264.46,228.73 262.83,227.10 260.04,229.89 257.25,227.10 255.62,228.73 258.41,231.52 255.62,234.31 257.25,235.94" fill="#d98a64" stroke="#3f2212" stroke-width="1.00" stroke-linejoin="round"/>
<polygon points="270.12,233.44 272.91,236.24 274.54,234.61 271.75,231.82 274.54,229.02 272.91,227.40 270.12,230.19 267.33,227.40 265.70,229.02 268.49,231.82 265.70,234.61 267.33,236.24" fill="#d98a64" stroke="#3f2212" stroke-width="1.00" stroke-linejoin="round"/>
<polygon points="280.20,233.44 282.99,236.24 284.62,234.61 281.83,231.82 284.62,229.02 282.99,227.40 280.20,230.19 277.41,227.40 275.78,229.02 278.57,231.82 275.78,234.61 277.41,236.24" fill="#d98a64" stroke="#3f2212" stroke-width="1.00" stroke-linejoin="round"/>
<polygon points="290.28,233.74 293.07,236.53 294.70,234.90 291.91,232.11 294.70,229.32 293.07,227.69 290.28,230.49 287.49,227.69 285.86,229.32 288.65,232.11 285.86,234.90 287.49,236.53" fill="#d98a64" stroke="#3f2212" stroke-width="1.00" stroke-linejoin="round"/>
<polygon points="300.36,234.33 303.15,237.12 304.78,235.50 301.99,232.70 304.78,229.91 303.15,228.28 300.36,231.08 297.57,228.28 295.94,229.91 298.73,232.70 295.94,235.50 297.57,237.12" fill="#d98a64" stroke="#3f2212" stroke-width="1.00" stroke-linejoin="round"/>
<polygon points="310.44,235.22 313.23,238.01 314.86,236.38 312.07,233.59 314.86,230.80 313.23,229.17 310.44,231.96 307.65,229.17 306.02,230.80 308.81,233.59 306.02,236.38 307.65,238.01" fill="#d98a64" stroke="#3f2212" stroke-width="1.00" stroke-linejoin="round"/>
<polygon points="320.52,238.47 323.31,241.26 324.94,239.63 322.15,236.84 324.94,234.05 323.31,232.42 320.52,235.21 317.73,232.42 316.10,234.05 318.89,236.84 316.10,239.63 317.73,241.26" fill="#d98a64" stroke="#3f2212" stroke-width="1.00" stroke-linejoin="round"/>
<polygon points="68.52,201.82 71.31,204.62 72.94,202.99 70.15,200.20 72.94,197.40 71.31,195.78 68.52,198.57 65.73,195.78 64.10,197.40 66.89,200.20 64.10,202.99 65.73,204.62" fill="#d98a64" stroke="#3f2212" stroke-width="1.00" stroke-linejoin="round"/>
<polygon points="199.56,203.30 202.35,206.09 203.98,204.47 201.19,201.68 203.98,198.88 202.35,197.26 199.56,200.05 196.77,197.26 195.14,198.88 197.93,201.68 195.14,204.47 196.77,206.09" fill="#d98a64" stroke="#3f2212" stroke-width="1.00" stroke-linejoin="round"/>
<polygon points="330.60,209.21 333.39,212.00 335.02,210.38 332.23,207.58 335.02,204.79 333.39,203.17 330.60,205.96 327.81,203.17 326.18,204.79 328.97,207.58 326.18,210.38 327.81,212.00" fill="#d98a64" stroke="#3f2212" stroke-width="1.00" stroke-linejoin="round"/>
<polygon points="78.60,205.84 79.92,209.02 83.36,209.29 80.74,211.53 81.54,214.88 78.60,213.09 75.66,214.88 76.46,211.53 73.84,209.29 77.28,209.02" fill="#e8262b" stroke="#1a0000" stroke-width="1.00" stroke-linejoin="miter"/>
<polygon points="88.68,205.84 90.00,209.02 93.44,209.29 90.82,211.53 91.62,214.88 88.68,213.09 85.74,214.88 86.54,211.53 83.92,209.29 87.36,209.02" fill="#e8262b" stroke="#1a0000" stroke-width="1.00" stroke-linejoin="miter"/>
<polygon points="98.76,205.84 100.08,209.02 103.52,209.29 100.90,211.53 101.70,214.88 98.76,213.09 95.82,214.88 96.62,211.53 94.00,209.29 97.44,209.02" fill="#e8262b" stroke="#1a0000" stroke-width="1.00" stroke-linejoin="miter"/>
<polygon points="108.84,205.84 110.16,209.02 113.60,209.29 110.98,211.53 111.78,214.88 108.84,213.09 105.90,214.88 106.70,211.53 104.08,209.29 107.52,209.02" fill="#e8262b" stroke="#1a0000" stroke-width="1.00" stroke-linejoin="miter"/>
<polygon points="118.92,206.72 120.24,209.90 123.68,210.18 121.06,212.42 121.86,215.77 118.92,213.97 115.98,215.77 116.78,212.42 114.16,210.18 117.60,209.90" fill="#e8262b" stroke="#1a0000" stroke-width="1.00" stroke-linejoin="miter"/>
<polygon points="129.00,207.02 130.32,210.20 133.76,210.47 131.14,212.71 131.94,216.06 129.00,214.27 126.06,216.06 126.86,212.71 124.24,210.47 127.68,210.20" fill="#e8262b" stroke="#1a0000" stroke-width="1.00" stroke-linejoin="miter"/>
<polygon points="139.08,207.61 140.40,210.79 143.84,211.06 141.22,213.30 142.02,216.65 139.08,214.86 136.14,216.65 136.94,213.30 134.32,211.06 137.76,210.79" fill="#e8262b" stroke="#1a0000" stroke-width="1.00" stroke-linejoin="miter"/>
<polygon points="149.16,208.50 150.48,211.67 153.92,211.95 151.30,214.19 152.10,217.54 149.16,215.75 146.22,217.54 147.02,214.19 144.40,211.95 147.84,211.67" fill="#e8262b" stroke="#1a0000" stroke-width="1.00" stroke-linejoin="miter"/>
<polygon points="159.24,209.09 160.56,212.27 164.00,212.54 161.38,214.78 162.18,218.13 159.24,216.34 156.30,218.13 157.10,214.78 154.48,212.54 157.92,212.27" fill="#e8262b" stroke="#1a0000" stroke-width="1.00" stroke-linejoin="miter"/>
<polygon points="169.32,209.68 170.64,212.86 174.08,213.13 171.46,215.37 172.26,218.72 169.32,216.93 166.38,218.72 167.18,215.37 164.56,213.13 168.00,212.86" fill="#e8262b" stroke="#1a0000" stroke-width="1.00" stroke-linejoin="miter"/>
<polygon points="179.40,210.27 180.72,213.45 184.16,213.72 181.54,215.96 182.34,219.31 179.40,217.52 176.46,219.31 177.26,215.96 174.64,213.72 178.08,213.45" fill="#e8262b" stroke="#1a0000" stroke-width="1.00" stroke-linejoin="miter"/>
<polygon points="189.48,210.86 190.80,214.04 194.24,214.31 191.62,216.55 192.42,219.90 189.48,218.11 186.54,219.90 187.34,216.55 184.72,214.31 188.16,214.04" fill="#e8262b" stroke="#1a0000" stroke-width="1.00" stroke-linejoin="miter"/>
<polygon points="78.60,209.09 79.92,212.27 83.36,212.54 80.74,214.78 81.54,218.13 78.60,216.34 75.66,218.13 76.46,214.78 73.84,212.54 77.28,212.27" fill="#e8262b" stroke="#1a0000" stroke-width="1.00" stroke-linejoin="miter"/>
<polygon points="88.68,209.09 90.00,212.27 93.44,212.54 90.82,214.78 91.62,218.13 88.68,216.34 85.74,218.13 86.54,214.78 83.92,212.54 87.36,212.27" fill="#e8262b" stroke="#1a0000" stroke-width="1.00" stroke-linejoin="miter"/>
<polygon points="98.76,209.09 100.08,212.27 103.52,212.54 100.90,214.78 101.70,218.13 98.76,216.34 95.82,218.13 96.62,214.78 94.00,212.54 97.44,212.27" fill="#e8262b" stroke="#1a0000" stroke-width="1.00" stroke-linejoin="miter"/>
<polygon points="108.84,209.09 110.16,212.27 113.60,212.54 110.98,214.78 111.78,218.13 108.84,216.34 105.90,218.13 106.70,214.78 104.08,212.54 107.52,212.27" fill="#e8262b" stroke="#1a0000" stroke-width="1.00" stroke-linejoin="miter"/>
<polygon points="118.92,209.68 120.24,212.86 123.68,213.13 121.06,215.37 121.86,218.72 118.92,216.93 115.98,218.72 116.78,215.37 114.16,213.13 117.60,212.86" fill="#e8262b" stroke="#1a0000" stroke-width="1.00" stroke-linejoin="miter"/>
<polygon points="129.00,209.97 130.32,213.15 133.76,213.43 131.14,215.67 131.94,219.02 129.00,217.22 126.06,219.02 126.86,215.67 124.24,213.43 127.68,213.15" fill="#e8262b" stroke="#1a0000" stroke-width="1.00" stroke-linejoin="miter"/>
<polygon points="139.08,210.56 140.40,213.74 143.84,214.02 141.22,216.26 142.02,219.61 139.08,217.81 136.14,219.61 136.94,216.26 134.32,214.02 137.76,213.74" fill="#e8262b" stroke="#1a0000" stroke-width="1.00" stroke-linejoin="miter"/>
<polygon points="149.16,211.45 150.48,214.63 153.92,214.90 151.30,217.15 152.10,220.50 149.16,218.70 146.22,220.50 147.02,217.15 144.40,214.90 147.84,214.63" fill="#e8262b" stroke="#1a0000" stroke-width="1.00" stroke-linejoin="miter"/>
<polygon points="159.24,212.04 160.56,215.22 164.00,215.50 161.38,217.74 162.18,221.09 159.24,219.29 156.30,221.09 157.10,217.74 154.48,215.50 157.92,215.22" fill="#e8262b" stroke="#1a0000" stroke-width="1.00" stroke-linejoin="miter"/>
<polygon points="169.32,212.63 170.64,215.81 174.08,216.09 171.46,218.33 172.26,221.68 169.32,219.88 166.38,221.68 167.18,218.33 164.56,216.09 168.00,215.81" fill="#e8262b" stroke="#1a0000" stroke-width="1.00" stroke-linejoin="miter"/>
<polygon points="179.40,213.22 180.72,216.40 184.16,216.68 181.54,218.92 182.34,222.27 179.40,220.47 176.46,222.27 177.26,218.92 174.64,216.68 178.08,216.40" fill="#e8262b" stroke="#1a0000" stroke-width="1.00" stroke-linejoin="miter"/>
<polygon points="189.48,213.81 190.80,216.99 194.24,217.27 191.62,219.51 192.42,222.86 189.48,221.06 186.54,222.86 187.34,219.51 184.72,217.27 188.16,216.99" fill="#e8262b" stroke="#1a0000" stroke-width="1.00" stroke-linejoin="miter"/>
<polygon points="78.60,212.93 79.92,216.11 83.36,216.38 80.74,218.62 81.54,221.97 78.60,220.18 75.66,221.97 76.46,218.62 73.84,216.38 77.28,216.11" fill="#e8262b" stroke="#1a0000" stroke-width="1.00" stroke-linejoin="miter"/>
<polygon points="88.68,212.93 90.00,216.11 93.44,216.38 90.82,218.62 91.62,221.97 88.68,220.18 85.74,221.97 86.54,218.62 83.92,216.38 87.36,216.11" fill="#e8262b" stroke="#1a0000" stroke-width="1.00" stroke-linejoin="miter"/>
<polygon points="98.76,212.93 100.08,216.11 103.52,216.38 100.90,218.62 101.70,221.97 98.76,220.18 95.82,221.97 96.62,218.62 94.00,216.38 97.44,216.11" fill="#e8262b" stroke="#1a0000" stroke-width="1.00" stroke-linejoin="miter"/>
<polygon points="108.84,212.93 110.16,216.11 113.60,216.38 110.98,218.62 111.78,221.97 108.84,220.18 105.90,221.97 106.70,218.62 104.08,216.38 107.52,216.11" fill="#e8262b" stroke="#1a0000" stroke-width="1.00" stroke-linejoin="miter"/>
<polygon points="118.92,213.52 120.24,216.70 123.68,216.97 121.06,219.21 121.86,222.56 118.92,220.77 115.98,222.56 116.78,219.21 114.16,216.97 117.60,216.70" fill="#e8262b" stroke="#1a0000" stroke-width="1.00" stroke-linejoin="miter"/>
<polygon points="129.00,213.81 130.32,216.99 133.76,217.27 131.14,219.51 131.94,222.86 129.00,221.06 126.06,222.86 126.86,219.51 124.24,217.27 127.68,216.99" fill="#e8262b" stroke="#1a0000" stroke-width="1.00" stroke-linejoin="miter"/>
<polygon points="139.08,214.41 140.40,217.58 143.84,217.86 141.22,220.10 142.02,223.45 139.08,221.66 136.14,223.45 136.94,220.10 134.32,217.86 137.76,217.58" fill="#e8262b" stroke="#1a0000" stroke-width="1.00" stroke-linejoin="miter"/>
<polygon points="149.16,215.00 150.48,218.18 153.92,218.45 151.30,220.69 152.10,224.04 149.16,222.25 146.22,224.04 147.02,220.69 144.40,218.45 147.84,218.18" fill="#e8262b" stroke="#1a0000" stroke-width="1.00" stroke-linejoin="miter"/>
<polygon points="159.24,215.59 160.56,218.77 164.00,219.04 161.38,221.28 162.18,224.63 159.24,222.84 156.30,224.63 157.10,221.28 154.48,219.04 157.92,218.77" fill="#e8262b" stroke="#1a0000" stroke-width="1.00" stroke-linejoin="miter"/>
<polygon points="169.32,216.18 170.64,219.36 174.08,219.63 171.46,221.87 172.26,225.22 169.32,223.43 166.38,225.22 167.18,221.87 164.56,219.63 168.00,219.36" fill="#e8262b" stroke="#1a0000" stroke-width="1.00" stroke-linejoin="miter"/>
<polygon points="179.40,216.77 180.72,219.95 184.16,220.22 181.54,222.46 182.34,225.81 179.40,224.02 176.46,225.81 177.26,222.46 174.64,220.22 178.08,219.95" fill="#e8262b" stroke="#1a0000" stroke-width="1.00" stroke-linejoin="miter"/>
<polygon points="189.48,217.36 190.80,220.54 194.24,220.81 191.62,223.06 192.42,226.41 189.48,224.61 186.54,226.41 187.34,223.06 184.72,220.81 188.16,220.54" fill="#e8262b" stroke="#1a0000" stroke-width="1.00" stroke-linejoin="miter"/>
<polygon points="209.64,214.11 210.96,217.29 214.40,217.56 211.78,219.80 212.58,223.15 209.64,221.36 206.70,223.15 207.50,219.80 204.88,217.56 208.32,217.29" fill="#e8262b" stroke="#1a0000" stroke-width="1.00" stroke-linejoin="miter"/>
<polygon points="219.72,214.11 221.04,217.29 224.48,217.56 221.86,219.80 222.66,223.15 219.72,221.36 216.78,223.15 217.58,219.80 214.96,217.56 218.40,217.29" fill="#e8262b" stroke="#1a0000" stroke-width="1.00" stroke-linejoin="miter"/>
<polygon points="229.80,213.81 231.12,216.99 234.56,217.27 231.94,219.51 232.74,222.86 229.80,221.06 226.86,222.86 227.66,219.51 225.04,217.27 228.48,216.99" fill="#e8262b" stroke="#1a0000" stroke-width="1.00" stroke-linejoin="miter"/>
<polygon points="239.88,213.52 241.20,216.70 244.64,216.97 242.02,219.21 242.82,222.56 239.88,220.77 236.94,222.56 237.74,219.21 235.12,216.97 238.56,216.70" fill="#e8262b" stroke="#1a0000" stroke-width="1.00" stroke-linejoin="miter"/>
<polygon points="249.96,214.11 251.28,217.29 254.72,217.56 252.10,219.80 252.90,223.15 249.96,221.36 247.02,223.15 247.82,219.80 245.20,217.56 248.64,217.29" fill="#e8262b" stroke="#1a0000" stroke-width="1.00" stroke-linejoin="miter"/>
<polygon points="260.04,213.81 261.36,216.99 264.80,217.27 262.18,219.51 262.98,222.86 260.04,221.06 257.10,222.86 257.90,219.51 255.28,217.27 258.72,216.99" fill="#e8262b" stroke="#1a0000" stroke-width="1.00" stroke-linejoin="miter"/>
<polygon points="270.12,213.81 271.44,216.99 274.88,217.27 272.26,219.51 273.06,222.86 270.12,221.06 267.18,222.86 267.98,219.51 265.36,217.27 268.80,216.99" fill="#e8262b" stroke="#1a0000" stroke-width="1.00" stroke-linejoin="miter"/>
<polygon points="280.20,217.06 281.52,220.24 284.96,220.52 282.34,222.76 283.14,226.11 280.20,224.31 277.26,226.11 278.06,222.76 275.44,220.52 278.88,220.24" fill="#e8262b" stroke="#1a0000" stroke-width="1.00" stroke-linejoin="miter"/>
<polygon points="290.28,215.88 291.60,219.06 295.04,219.34 292.42,221.58 293.22,224.93 290.28,223.13 287.34,224.93 288.14,221.58 285.52,219.34 288.96,219.06" fill="#e8262b" stroke="#1a0000" stroke-width="1.00" stroke-linejoin="miter"/>
<polygon points="300.36,213.81 301.68,216.99 305.12,217.27 302.50,219.51 303.30,222.86 300.36,221.06 297.42,222.86 298.22,219.51 295.60,217.27 299.04,216.99" fill="#e8262b" stroke="#1a0000" stroke-width="1.00" stroke-linejoin="miter"/>
<polygon points="310.44,216.47 311.76,219.65 315.20,219.93 312.58,222.17 313.38,225.52 310.44,223.72 307.50,225.52 308.30,222.17 305.68,219.93 309.12,219.65" fill="#e8262b" stroke="#1a0000" stroke-width="1.00" stroke-linejoin="miter"/>
<polygon points="320.52,217.06 321.84,220.24 325.28,220.52 322.66,222.76 323.46,226.11 320.52,224.31 317.58,226.11 318.38,222.76 315.76,220.52 319.20,220.24" fill="#e8262b" stroke="#1a0000" stroke-width="1.00" stroke-linejoin="miter"/>
<polygon points="209.64,217.36 210.96,220.54 214.40,220.81 211.78,223.06 212.58,226.41 209.64,224.61 206.70,226.41 207.50,223.06 204.88,220.81 208.32,220.54" fill="#e8262b" stroke="#1a0000" stroke-width="1.00" stroke-linejoin="miter"/>
<polygon points="219.72,217.36 221.04,220.54 224.48,220.81 221.86,223.06 222.66,226.41 219.72,224.61 216.78,226.41 217.58,223.06 214.96,220.81 218.40,220.54" fill="#e8262b" stroke="#1a0000" stroke-width="1.00" stroke-linejoin="miter"/>
<polygon points="229.80,220.31 231.12,223.49 234.56,223.77 231.94,226.01 232.74,229.36 229.80,227.56 226.86,229.36 227.66,226.01 225.04,223.77 228.48,223.49" fill="#e8262b" stroke="#1a0000" stroke-width="1.00" stroke-linejoin="miter"/>
<polygon points="239.88,220.31 241.20,223.49 244.64,223.77 242.02,226.01 242.82,229.36 239.88,227.56 236.94,229.36 237.74,226.01 235.12,223.77 238.56,223.49" fill="#e8262b" stroke="#1a0000" stroke-width="1.00" stroke-linejoin="miter"/>
<polygon points="249.96,220.31 251.28,223.49 254.72,223.77 252.10,226.01 252.90,229.36 249.96,227.56 247.02,229.36 247.82,226.01 245.20,223.77 248.64,223.49" fill="#e8262b" stroke="#1a0000" stroke-width="1.00" stroke-linejoin="miter"/>
<polygon points="260.04,221.79 261.36,224.97 264.80,225.25 262.18,227.49 262.98,230.84 260.04,229.04 257.10,230.84 257.90,227.49 255.28,225.25 258.72,224.97" fill="#e8262b" stroke="#1a0000" stroke-width="1.00" stroke-linejoin="miter"/>
<polygon points="270.12,221.79 271.44,224.97 274.88,225.25 272.26,227.49 273.06,230.84 270.12,229.04 267.18,230.84 267.98,227.49 265.36,225.25 268.80,224.97" fill="#e8262b" stroke="#1a0000" stroke-width="1.00" stroke-linejoin="miter"/>
<polygon points="280.20,221.79 281.52,224.97 284.96,225.25 282.34,227.49 283.14,230.84 280.20,229.04 277.26,230.84 278.06,227.49 275.44,225.25 278.88,224.97" fill="#e8262b" stroke="#1a0000" stroke-width="1.00" stroke-linejoin="miter"/>
<polygon points="290.28,222.68 291.60,225.86 295.04,226.13 292.42,228.37 293.22,231.72 290.28,229.93 287.34,231.72 288.14,228.37 285.52,226.13 288.96,225.86" fill="#e8262b" stroke="#1a0000" stroke-width="1.00" stroke-linejoin="miter"/>
<polygon points="300.36,219.72 301.68,222.90 305.12,223.18 302.50,225.42 303.30,228.77 300.36,226.97 297.42,228.77 298.22,225.42 295.60,223.18 299.04,222.90" fill="#e8262b" stroke="#1a0000" stroke-width="1.00" stroke-linejoin="miter"/>
<polygon points="310.44,219.72 311.76,222.90 315.20,223.18 312.58,225.42 313.38,228.77 310.44,226.97 307.50,228.77 308.30,225.42 305.68,223.18 309.12,222.90" fill="#e8262b" stroke="#1a0000" stroke-width="1.00" stroke-linejoin="miter"/>
<polygon points="320.52,220.31 321.84,223.49 325.28,223.77 322.66,226.01 323.46,229.36 320.52,227.56 317.58,229.36 318.38,226.01 315.76,223.77 319.20,223.49" fill="#e8262b" stroke="#1a0000" stroke-width="1.00" stroke-linejoin="miter"/>
<polygon points="209.64,220.91 210.96,224.09 214.40,224.36 211.78,226.60 212.58,229.95 209.64,228.16 206.70,229.95 207.50,226.60 204.88,224.36 208.32,224.09" fill="#e8262b" stroke="#1a0000" stroke-width="1.00" stroke-linejoin="miter"/>
<polygon points="219.72,220.91 221.04,224.09 224.48,224.36 221.86,226.60 222.66,229.95 219.72,228.16 216.78,229.95 217.58,226.60 214.96,224.36 218.40,224.09" fill="#e8262b" stroke="#1a0000" stroke-width="1.00" stroke-linejoin="miter"/>
<polygon points="229.80,221.79 231.12,224.97 234.56,225.25 231.94,227.49 232.74,230.84 229.80,229.04 226.86,230.84 227.66,227.49 225.04,225.25 228.48,224.97" fill="#e8262b" stroke="#1a0000" stroke-width="1.00" stroke-linejoin="miter"/>
<polygon points="239.88,222.38 241.20,225.56 244.64,225.84 242.02,228.08 242.82,231.43 239.88,229.63 236.94,231.43 237.74,228.08 235.12,225.84 238.56,225.56" fill="#e8262b" stroke="#1a0000" stroke-width="1.00" stroke-linejoin="miter"/>
<polygon points="249.96,222.68 251.28,225.86 254.72,226.13 252.10,228.37 252.90,231.72 249.96,229.93 247.02,231.72 247.82,228.37 245.20,226.13 248.64,225.86" fill="#e8262b" stroke="#1a0000" stroke-width="1.00" stroke-linejoin="miter"/>
<polygon points="260.04,223.27 261.36,226.45 264.80,226.72 262.18,228.97 262.98,232.32 260.04,230.52 257.10,232.32 257.90,228.97 255.28,226.72 258.72,226.45" fill="#e8262b" stroke="#1a0000" stroke-width="1.00" stroke-linejoin="miter"/>
<polygon points="270.12,223.86 271.44,227.04 274.88,227.32 272.26,229.56 273.06,232.91 270.12,231.11 267.18,232.91 267.98,229.56 265.36,227.32 268.80,227.04" fill="#e8262b" stroke="#1a0000" stroke-width="1.00" stroke-linejoin="miter"/>
<polygon points="280.20,224.45 281.52,227.63 284.96,227.91 282.34,230.15 283.14,233.50 280.20,231.70 277.26,233.50 278.06,230.15 275.44,227.91 278.88,227.63" fill="#e8262b" stroke="#1a0000" stroke-width="1.00" stroke-linejoin="miter"/>
<polygon points="290.28,225.04 291.60,228.22 295.04,228.50 292.42,230.74 293.22,234.09 290.28,232.29 287.34,234.09 288.14,230.74 285.52,228.50 288.96,228.22" fill="#e8262b" stroke="#1a0000" stroke-width="1.00" stroke-linejoin="miter"/>
<polygon points="300.36,225.93 301.68,229.11 305.12,229.38 302.50,231.62 303.30,234.97 300.36,233.18 297.42,234.97 298.22,231.62 295.60,229.38 299.04,229.11" fill="#e8262b" stroke="#1a0000" stroke-width="1.00" stroke-linejoin="miter"/>
<polygon points="310.44,225.93 311.76,229.11 315.20,229.38 312.58,231.62 313.38,234.97 310.44,233.18 307.50,234.97 308.30,231.62 305.68,229.38 309.12,229.11" fill="#e8262b" stroke="#1a0000" stroke-width="1.00" stroke-linejoin="miter"/>
<polygon points="320.52,225.93 321.84,229.11 325.28,229.38 322.66,231.62 323.46,234.97 320.52,233.18 317.58,234.97 318.38,231.62 315.76,229.38 319.20,229.11" fill="#e8262b" stroke="#1a0000" stroke-width="1.00" stroke-linejoin="miter"/>
<polygon points="68.52,193.72 69.84,196.90 73.28,197.17 70.66,199.42 71.46,202.77 68.52,200.97 65.58,202.77 66.38,199.42 63.76,197.17 67.20,196.90" fill="#e8262b" stroke="#1a0000" stroke-width="1.00" stroke-linejoin="miter"/>
<polygon points="68.52,198.15 69.84,201.33 73.28,201.61 70.66,203.85 71.46,207.20 68.52,205.40 65.58,207.20 66.38,203.85 63.76,201.61 67.20,201.33" fill="#e8262b" stroke="#1a0000" stroke-width="1.00" stroke-linejoin="miter"/>
<polygon points="199.56,186.33 200.88,189.51 204.32,189.79 201.70,192.03 202.50,195.38 199.56,193.58 196.62,195.38 197.42,192.03 194.80,189.79 198.24,189.51" fill="#e8262b" stroke="#1a0000" stroke-width="1.00" stroke-linejoin="miter"/>
<polygon points="199.56,192.24 200.88,195.42 204.32,195.70 201.70,197.94 202.50,201.29 199.56,199.49 196.62,201.29 197.42,197.94 194.80,195.70 198.24,195.42" fill="#e8262b" stroke="#1a0000" stroke-width="1.00" stroke-linejoin="miter"/>
<polygon points="330.60,193.72 331.92,196.90 335.36,197.17 332.74,199.42 333.54,202.77 330.60,200.97 327.66,202.77 328.46,199.42 325.84,197.17 329.28,196.90" fill="#e8262b" stroke="#1a0000" stroke-width="1.00" stroke-linejoin="miter"/>
<polygon points="330.60,199.63 331.92,202.81 335.36,203.08 332.74,205.33 333.54,208.68 330.60,206.88 327.66,208.68 328.46,205.33 325.84,203.08 329.28,202.81" fill="#e8262b" stroke="#1a0000" stroke-width="1.00" stroke-linejoin="miter"/>
<polygon points="382.91,106.70 380.15,109.46 376.25,109.46 373.49,106.70 373.49,102.80 376.25,100.04 380.15,100.04 382.91,102.80" fill="rgba(0,0,0,0.26)" stroke="#000" stroke-width="1.30" stroke-linejoin="round"/>
<polygon points="392.99,109.66 390.23,112.42 386.33,112.42 383.57,109.66 383.57,105.75 386.33,102.99 390.23,102.99 392.99,105.75" fill="rgba(0,0,0,0.26)" stroke="#000" stroke-width="1.30" stroke-linejoin="round"/>
<polygon points="403.07,113.20 400.31,115.96 396.41,115.96 393.65,113.20 393.65,109.30 396.41,106.54 400.31,106.54 403.07,109.30" fill="rgba(0,0,0,0.26)" stroke="#000" stroke-width="1.30" stroke-linejoin="round"/>
<polygon points="413.15,117.64 410.39,120.40 406.49,120.40 403.73,117.64 403.73,113.73 406.49,110.97 410.39,110.97 413.15,113.73" fill="rgba(0,0,0,0.26)" stroke="#000" stroke-width="1.30" stroke-linejoin="round"/>
<polygon points="423.23,118.23 420.47,120.99 416.57,120.99 413.81,118.23 413.81,114.32 416.57,111.56 420.47,111.56 423.23,114.32" fill="rgba(0,0,0,0.26)" stroke="#000" stroke-width="1.30" stroke-linejoin="round"/>
<polygon points="433.31,122.36 430.55,125.12 426.65,125.12 423.89,122.36 423.89,118.46 426.65,115.70 430.55,115.70 433.31,118.46" fill="rgba(0,0,0,0.26)" stroke="#000" stroke-width="1.30" stroke-linejoin="round"/>
<polygon points="443.39,126.21 440.63,128.97 436.73,128.97 433.97,126.21 433.97,122.30 436.73,119.54 440.63,119.54 443.39,122.30" fill="rgba(0,0,0,0.26)" stroke="#000" stroke-width="1.30" stroke-linejoin="round"/>
<polygon points="453.47,127.09 450.71,129.85 446.81,129.85 444.05,127.09 444.05,123.19 446.81,120.43 450.71,120.43 453.47,123.19" fill="rgba(0,0,0,0.26)" stroke="#000" stroke-width="1.30" stroke-linejoin="round"/>
<polygon points="463.55,131.23 460.79,133.99 456.89,133.99 454.13,131.23 454.13,127.33 456.89,124.57 460.79,124.57 463.55,127.33" fill="rgba(0,0,0,0.26)" stroke="#000" stroke-width="1.30" stroke-linejoin="round"/>
<polygon points="473.63,132.41 470.87,135.17 466.97,135.17 464.21,132.41 464.21,128.51 466.97,125.75 470.87,125.75 473.63,128.51" fill="rgba(0,0,0,0.26)" stroke="#000" stroke-width="1.30" stroke-linejoin="round"/>
<polygon points="483.71,136.55 480.95,139.31 477.05,139.31 474.29,136.55 474.29,132.64 477.05,129.88 480.95,129.88 483.71,132.64" fill="rgba(0,0,0,0.26)" stroke="#000" stroke-width="1.30" stroke-linejoin="round"/>
<polygon points="493.79,137.73 491.03,140.49 487.13,140.49 484.37,137.73 484.37,133.83 487.13,131.07 491.03,131.07 493.79,133.83" fill="rgba(0,0,0,0.26)" stroke="#000" stroke-width="1.30" stroke-linejoin="round"/>
<polygon points="382.91,112.32 380.15,115.08 376.25,115.08 373.49,112.32 373.49,108.41 376.25,105.65 380.15,105.65 382.91,108.41" fill="rgba(0,0,0,0.26)" stroke="#000" stroke-width="1.30" stroke-linejoin="round"/>
<polygon points="392.99,111.14 390.23,113.90 386.33,113.90 383.57,111.14 383.57,107.23 386.33,104.47 390.23,104.47 392.99,107.23" fill="rgba(0,0,0,0.26)" stroke="#000" stroke-width="1.30" stroke-linejoin="round"/>
<polygon points="403.07,114.39 400.31,117.15 396.41,117.15 393.65,114.39 393.65,110.48 396.41,107.72 400.31,107.72 403.07,110.48" fill="rgba(0,0,0,0.26)" stroke="#000" stroke-width="1.30" stroke-linejoin="round"/>
<polygon points="413.15,118.52 410.39,121.28 406.49,121.28 403.73,118.52 403.73,114.62 406.49,111.86 410.39,111.86 413.15,114.62" fill="rgba(0,0,0,0.26)" stroke="#000" stroke-width="1.30" stroke-linejoin="round"/>
<polygon points="423.23,119.41 420.47,122.17 416.57,122.17 413.81,119.41 413.81,115.51 416.57,112.75 420.47,112.75 423.23,115.51" fill="rgba(0,0,0,0.26)" stroke="#000" stroke-width="1.30" stroke-linejoin="round"/>
<polygon points="433.31,123.25 430.55,126.01 426.65,126.01 423.89,123.25 423.89,119.35 426.65,116.59 430.55,116.59 433.31,119.35" fill="rgba(0,0,0,0.26)" stroke="#000" stroke-width="1.30" stroke-linejoin="round"/>
<polygon points="443.39,126.80 440.63,129.56 436.73,129.56 433.97,126.80 433.97,122.89 436.73,120.13 440.63,120.13 443.39,122.89" fill="rgba(0,0,0,0.26)" stroke="#000" stroke-width="1.30" stroke-linejoin="round"/>
<polygon points="453.47,127.98 450.71,130.74 446.81,130.74 444.05,127.98 444.05,124.08 446.81,121.32 450.71,121.32 453.47,124.08" fill="rgba(0,0,0,0.26)" stroke="#000" stroke-width="1.30" stroke-linejoin="round"/>
<polygon points="463.55,132.71 460.79,135.47 456.89,135.47 454.13,132.71 454.13,128.80 456.89,126.04 460.79,126.04 463.55,128.80" fill="rgba(0,0,0,0.26)" stroke="#000" stroke-width="1.30" stroke-linejoin="round"/>
<polygon points="473.63,133.59 470.87,136.35 466.97,136.35 464.21,133.59 464.21,129.69 466.97,126.93 470.87,126.93 473.63,129.69" fill="rgba(0,0,0,0.26)" stroke="#000" stroke-width="1.30" stroke-linejoin="round"/>
<polygon points="483.71,137.73 480.95,140.49 477.05,140.49 474.29,137.73 474.29,133.83 477.05,131.07 480.95,131.07 483.71,133.83" fill="rgba(0,0,0,0.26)" stroke="#000" stroke-width="1.30" stroke-linejoin="round"/>
<polygon points="493.79,138.62 491.03,141.38 487.13,141.38 484.37,138.62 484.37,134.71 487.13,131.95 491.03,131.95 493.79,134.71" fill="rgba(0,0,0,0.26)" stroke="#000" stroke-width="1.30" stroke-linejoin="round"/>
<polygon points="382.91,119.41 380.15,122.17 376.25,122.17 373.49,119.41 373.49,115.51 376.25,112.75 380.15,112.75 382.91,115.51" fill="rgba(0,0,0,0.26)" stroke="#000" stroke-width="1.30" stroke-linejoin="round"/>
<polygon points="392.99,125.32 390.23,128.08 386.33,128.08 383.57,125.32 383.57,121.42 386.33,118.66 390.23,118.66 392.99,121.42" fill="rgba(0,0,0,0.26)" stroke="#000" stroke-width="1.30" stroke-linejoin="round"/>
<polygon points="403.07,129.75 400.31,132.51 396.41,132.51 393.65,129.75 393.65,125.85 396.41,123.09 400.31,123.09 403.07,125.85" fill="rgba(0,0,0,0.26)" stroke="#000" stroke-width="1.30" stroke-linejoin="round"/>
<polygon points="413.15,132.71 410.39,135.47 406.49,135.47 403.73,132.71 403.73,128.80 406.49,126.04 410.39,126.04 413.15,128.80" fill="rgba(0,0,0,0.26)" stroke="#000" stroke-width="1.30" stroke-linejoin="round"/>
<polygon points="423.23,134.18 420.47,136.94 416.57,136.94 413.81,134.18 413.81,130.28 416.57,127.52 420.47,127.52 423.23,130.28" fill="rgba(0,0,0,0.26)" stroke="#000" stroke-width="1.30" stroke-linejoin="round"/>
<polygon points="433.31,137.14 430.55,139.90 426.65,139.90 423.89,137.14 423.89,133.24 426.65,130.48 430.55,130.48 433.31,133.24" fill="rgba(0,0,0,0.26)" stroke="#000" stroke-width="1.30" stroke-linejoin="round"/>
<polygon points="443.39,140.09 440.63,142.85 436.73,142.85 433.97,140.09 433.97,136.19 436.73,133.43 440.63,133.43 443.39,136.19" fill="rgba(0,0,0,0.26)" stroke="#000" stroke-width="1.30" stroke-linejoin="round"/>
<polygon points="453.47,141.57 450.71,144.33 446.81,144.33 444.05,141.57 444.05,137.67 446.81,134.91 450.71,134.91 453.47,137.67" fill="rgba(0,0,0,0.26)" stroke="#000" stroke-width="1.30" stroke-linejoin="round"/>
<polygon points="463.55,144.53 460.79,147.29 456.89,147.29 454.13,144.53 454.13,140.62 456.89,137.86 460.79,137.86 463.55,140.62" fill="rgba(0,0,0,0.26)" stroke="#000" stroke-width="1.30" stroke-linejoin="round"/>
<polygon points="473.63,146.00 470.87,148.76 466.97,148.76 464.21,146.00 464.21,142.10 466.97,139.34 470.87,139.34 473.63,142.10" fill="rgba(0,0,0,0.26)" stroke="#000" stroke-width="1.30" stroke-linejoin="round"/>
<polygon points="483.71,147.48 480.95,150.24 477.05,150.24 474.29,147.48 474.29,143.58 477.05,140.82 480.95,140.82 483.71,143.58" fill="rgba(0,0,0,0.26)" stroke="#000" stroke-width="1.30" stroke-linejoin="round"/>
<polygon points="493.79,148.96 491.03,151.72 487.13,151.72 484.37,148.96 484.37,145.06 487.13,142.30 491.03,142.30 493.79,145.06" fill="rgba(0,0,0,0.26)" stroke="#000" stroke-width="1.30" stroke-linejoin="round"/>
<polygon points="513.95,154.87 511.19,157.63 507.29,157.63 504.53,154.87 504.53,150.97 507.29,148.21 511.19,148.21 513.95,150.97" fill="rgba(0,0,0,0.26)" stroke="#000" stroke-width="1.30" stroke-linejoin="round"/>
<polygon points="524.03,154.87 521.27,157.63 517.37,157.63 514.61,154.87 514.61,150.97 517.37,148.21 521.27,148.21 524.03,150.97" fill="rgba(0,0,0,0.26)" stroke="#000" stroke-width="1.30" stroke-linejoin="round"/>
<polygon points="534.11,156.35 531.35,159.11 527.45,159.11 524.69,156.35 524.69,152.44 527.45,149.68 531.35,149.68 534.11,152.44" fill="rgba(0,0,0,0.26)" stroke="#000" stroke-width="1.30" stroke-linejoin="round"/>
<polygon points="544.19,156.35 541.43,159.11 537.53,159.11 534.77,156.35 534.77,152.44 537.53,149.68 541.43,149.68 544.19,152.44" fill="rgba(0,0,0,0.26)" stroke="#000" stroke-width="1.30" stroke-linejoin="round"/>
<polygon points="554.27,156.35 551.51,159.11 547.61,159.11 544.85,156.35 544.85,152.44 547.61,149.68 551.51,149.68 554.27,152.44" fill="rgba(0,0,0,0.26)" stroke="#000" stroke-width="1.30" stroke-linejoin="round"/>
<polygon points="564.35,159.30 561.59,162.06 557.69,162.06 554.93,159.30 554.93,155.40 557.69,152.64 561.59,152.64 564.35,155.40" fill="rgba(0,0,0,0.26)" stroke="#000" stroke-width="1.30" stroke-linejoin="round"/>
<polygon points="574.43,163.14 571.67,165.90 567.77,165.90 565.01,163.14 565.01,159.24 567.77,156.48 571.67,156.48 574.43,159.24" fill="rgba(0,0,0,0.26)" stroke="#000" stroke-width="1.30" stroke-linejoin="round"/>
<polygon points="584.51,163.14 581.75,165.90 577.85,165.90 575.09,163.14 575.09,159.24 577.85,156.48 581.75,156.48 584.51,159.24" fill="rgba(0,0,0,0.26)" stroke="#000" stroke-width="1.30" stroke-linejoin="round"/>
<polygon points="594.59,163.14 591.83,165.90 587.93,165.90 585.17,163.14 585.17,159.24 587.93,156.48 591.83,156.48 594.59,159.24" fill="rgba(0,0,0,0.26)" stroke="#000" stroke-width="1.30" stroke-linejoin="round"/>
<polygon points="604.67,172.30 601.91,175.06 598.01,175.06 595.25,172.30 595.25,168.40 598.01,165.64 601.91,165.64 604.67,168.40" fill="rgba(0,0,0,0.26)" stroke="#000" stroke-width="1.30" stroke-linejoin="round"/>
<polygon points="614.75,172.30 611.99,175.06 608.09,175.06 605.33,172.30 605.33,168.40 608.09,165.64 611.99,165.64 614.75,168.40" fill="rgba(0,0,0,0.26)" stroke="#000" stroke-width="1.30" stroke-linejoin="round"/>
<polygon points="624.83,174.67 622.07,177.43 618.17,177.43 615.41,174.67 615.41,170.76 618.17,168.00 622.07,168.00 624.83,170.76" fill="rgba(0,0,0,0.26)" stroke="#000" stroke-width="1.30" stroke-linejoin="round"/>
<polygon points="513.95,159.01 511.19,161.77 507.29,161.77 504.53,159.01 504.53,155.10 507.29,152.34 511.19,152.34 513.95,155.10" fill="rgba(0,0,0,0.26)" stroke="#000" stroke-width="1.30" stroke-linejoin="round"/>
<polygon points="524.03,159.01 521.27,161.77 517.37,161.77 514.61,159.01 514.61,155.10 517.37,152.34 521.27,152.34 524.03,155.10" fill="rgba(0,0,0,0.26)" stroke="#000" stroke-width="1.30" stroke-linejoin="round"/>
<polygon points="534.11,164.33 531.35,167.09 527.45,167.09 524.69,164.33 524.69,160.42 527.45,157.66 531.35,157.66 534.11,160.42" fill="rgba(0,0,0,0.26)" stroke="#000" stroke-width="1.30" stroke-linejoin="round"/>
<polygon points="544.19,164.33 541.43,167.09 537.53,167.09 534.77,164.33 534.77,160.42 537.53,157.66 541.43,157.66 544.19,160.42" fill="rgba(0,0,0,0.26)" stroke="#000" stroke-width="1.30" stroke-linejoin="round"/>
<polygon points="554.27,164.33 551.51,167.09 547.61,167.09 544.85,164.33 544.85,160.42 547.61,157.66 551.51,157.66 554.27,160.42" fill="rgba(0,0,0,0.26)" stroke="#000" stroke-width="1.30" stroke-linejoin="round"/>
<polygon points="564.35,166.69 561.59,169.45 557.69,169.45 554.93,166.69 554.93,162.79 557.69,160.03 561.59,160.03 564.35,162.79" fill="rgba(0,0,0,0.26)" stroke="#000" stroke-width="1.30" stroke-linejoin="round"/>
<polygon points="574.43,168.46 571.67,171.22 567.77,171.22 565.01,168.46 565.01,164.56 567.77,161.80 571.67,161.80 574.43,164.56" fill="rgba(0,0,0,0.26)" stroke="#000" stroke-width="1.30" stroke-linejoin="round"/>
<polygon points="584.51,170.24 581.75,173.00 577.85,173.00 575.09,170.24 575.09,166.33 577.85,163.57 581.75,163.57 584.51,166.33" fill="rgba(0,0,0,0.26)" stroke="#000" stroke-width="1.30" stroke-linejoin="round"/>
<polygon points="594.59,177.03 591.83,179.79 587.93,179.79 585.17,177.03 585.17,173.13 587.93,170.37 591.83,170.37 594.59,173.13" fill="rgba(0,0,0,0.26)" stroke="#000" stroke-width="1.30" stroke-linejoin="round"/>
<polygon points="604.67,179.40 601.91,182.16 598.01,182.16 595.25,179.40 595.25,175.49 598.01,172.73 601.91,172.73 604.67,175.49" fill="rgba(0,0,0,0.26)" stroke="#000" stroke-width="1.30" stroke-linejoin="round"/>
<polygon points="614.75,179.40 611.99,182.16 608.09,182.16 605.33,179.40 605.33,175.49 608.09,172.73 611.99,172.73 614.75,175.49" fill="rgba(0,0,0,0.26)" stroke="#000" stroke-width="1.30" stroke-linejoin="round"/>
<polygon points="624.83,182.94 622.07,185.70 618.17,185.70 615.41,182.94 615.41,179.04 618.17,176.28 622.07,176.28 624.83,179.04" fill="rgba(0,0,0,0.26)" stroke="#000" stroke-width="1.30" stroke-linejoin="round"/>
<polygon points="574.43,204.81 571.67,207.57 567.77,207.57 565.01,204.81 565.01,200.91 567.77,198.15 571.67,198.15 574.43,200.91" fill="rgba(0,0,0,0.26)" stroke="#000" stroke-width="1.30" stroke-linejoin="round"/>
<polygon points="372.83,74.49 370.07,77.25 366.17,77.25 363.41,74.49 363.41,70.59 366.17,67.83 370.07,67.83 372.83,70.59" fill="rgba(0,0,0,0.26)" stroke="#000" stroke-width="1.30" stroke-linejoin="round"/>
<polygon points="372.83,80.99 370.07,83.75 366.17,83.75 363.41,80.99 363.41,77.09 366.17,74.33 370.07,74.33 372.83,77.09" fill="rgba(0,0,0,0.26)" stroke="#000" stroke-width="1.30" stroke-linejoin="round"/>
<polygon points="503.87,76.56 501.11,79.32 497.21,79.32 494.45,76.56 494.45,72.66 497.21,69.90 501.11,69.90 503.87,72.66" fill="rgba(0,0,0,0.26)" stroke="#000" stroke-width="1.30" stroke-linejoin="round"/>
<polygon points="503.87,80.99 501.11,83.75 497.21,83.75 494.45,80.99 494.45,77.09 497.21,74.33 501.11,74.33 503.87,77.09" fill="rgba(0,0,0,0.26)" stroke="#000" stroke-width="1.30" stroke-linejoin="round"/>
<polygon points="503.87,85.43 501.11,88.19 497.21,88.19 494.45,85.43 494.45,81.52 497.21,78.76 501.11,78.76 503.87,81.52" fill="rgba(0,0,0,0.26)" stroke="#000" stroke-width="1.30" stroke-linejoin="round"/>
<polygon points="503.87,90.15 501.11,92.91 497.21,92.91 494.45,90.15 494.45,86.25 497.21,83.49 501.11,83.49 503.87,86.25" fill="rgba(0,0,0,0.26)" stroke="#000" stroke-width="1.30" stroke-linejoin="round"/>
<polygon points="634.91,93.41 632.15,96.17 628.25,96.17 625.49,93.41 625.49,89.50 628.25,86.74 632.15,86.74 634.91,89.50" fill="rgba(0,0,0,0.26)" stroke="#000" stroke-width="1.30" stroke-linejoin="round"/>
<polygon points="634.91,97.25 632.15,100.01 628.25,100.01 625.49,97.25 625.49,93.34 628.25,90.58 632.15,90.58 634.91,93.34" fill="rgba(0,0,0,0.26)" stroke="#000" stroke-width="1.30" stroke-linejoin="round"/>
<polygon points="634.91,100.20 632.15,102.96 628.25,102.96 625.49,100.20 625.49,96.30 628.25,93.54 632.15,93.54 634.91,96.30" fill="rgba(0,0,0,0.26)" stroke="#000" stroke-width="1.30" stroke-linejoin="round"/>
<polygon points="634.91,103.75 632.15,106.51 628.25,106.51 625.49,103.75 625.49,99.84 628.25,97.08 632.15,97.08 634.91,99.84" fill="rgba(0,0,0,0.26)" stroke="#000" stroke-width="1.30" stroke-linejoin="round"/>
<polygon points="382.91,159.89 380.15,162.65 376.25,162.65 373.49,159.89 373.49,155.99 376.25,153.23 380.15,153.23 382.91,155.99" fill="rgba(0,0,0,0.70)" stroke="#000" stroke-width="1.30" stroke-linejoin="round"/>
<polygon points="392.99,164.33 390.23,167.09 386.33,167.09 383.57,164.33 383.57,160.42 386.33,157.66 390.23,157.66 392.99,160.42" fill="rgba(0,0,0,0.70)" stroke="#000" stroke-width="1.30" stroke-linejoin="round"/>
<polygon points="403.07,169.64 400.31,172.40 396.41,172.40 393.65,169.64 393.65,165.74 396.41,162.98 400.31,162.98 403.07,165.74" fill="rgba(0,0,0,0.70)" stroke="#000" stroke-width="1.30" stroke-linejoin="round"/>
<polygon points="413.15,177.33 410.39,180.09 406.49,180.09 403.73,177.33 403.73,173.42 406.49,170.66 410.39,170.66 413.15,173.42" fill="rgba(0,0,0,0.70)" stroke="#000" stroke-width="1.30" stroke-linejoin="round"/>
<polygon points="423.23,182.35 420.47,185.11 416.57,185.11 413.81,182.35 413.81,178.45 416.57,175.69 420.47,175.69 423.23,178.45" fill="rgba(0,0,0,0.70)" stroke="#000" stroke-width="1.30" stroke-linejoin="round"/>
<polygon points="433.31,186.19 430.55,188.95 426.65,188.95 423.89,186.19 423.89,182.29 426.65,179.53 430.55,179.53 433.31,182.29" fill="rgba(0,0,0,0.70)" stroke="#000" stroke-width="1.30" stroke-linejoin="round"/>
<polygon points="443.39,186.19 440.63,188.95 436.73,188.95 433.97,186.19 433.97,182.29 436.73,179.53 440.63,179.53 443.39,182.29" fill="rgba(0,0,0,0.70)" stroke="#000" stroke-width="1.30" stroke-linejoin="round"/>
<polygon points="453.47,194.76 450.71,197.52 446.81,197.52 444.05,194.76 444.05,190.86 446.81,188.10 450.71,188.10 453.47,190.86" fill="rgba(0,0,0,0.70)" stroke="#000" stroke-width="1.30" stroke-linejoin="round"/>
<polygon points="463.55,200.67 460.79,203.43 456.89,203.43 454.13,200.67 454.13,196.77 456.89,194.01 460.79,194.01 463.55,196.77" fill="rgba(0,0,0,0.70)" stroke="#000" stroke-width="1.30" stroke-linejoin="round"/>
<polygon points="473.63,205.99 470.87,208.75 466.97,208.75 464.21,205.99 464.21,202.09 466.97,199.33 470.87,199.33 473.63,202.09" fill="rgba(0,0,0,0.70)" stroke="#000" stroke-width="1.30" stroke-linejoin="round"/>
<polygon points="483.71,204.81 480.95,207.57 477.05,207.57 474.29,204.81 474.29,200.91 477.05,198.15 480.95,198.15 483.71,200.91" fill="rgba(0,0,0,0.70)" stroke="#000" stroke-width="1.30" stroke-linejoin="round"/>
<polygon points="493.79,214.56 491.03,217.32 487.13,217.32 484.37,214.56 484.37,210.66 487.13,207.90 491.03,207.90 493.79,210.66" fill="rgba(0,0,0,0.70)" stroke="#000" stroke-width="1.30" stroke-linejoin="round"/>
<polygon points="382.91,159.89 380.15,162.65 376.25,162.65 373.49,159.89 373.49,155.99 376.25,153.23 380.15,153.23 382.91,155.99" fill="rgba(0,0,0,0.70)" stroke="#000" stroke-width="1.30" stroke-linejoin="round"/>
<polygon points="392.99,169.64 390.23,172.40 386.33,172.40 383.57,169.64 383.57,165.74 386.33,162.98 390.23,162.98 392.99,165.74" fill="rgba(0,0,0,0.70)" stroke="#000" stroke-width="1.30" stroke-linejoin="round"/>
<polygon points="403.07,178.51 400.31,181.27 396.41,181.27 393.65,178.51 393.65,174.61 396.41,171.85 400.31,171.85 403.07,174.61" fill="rgba(0,0,0,0.70)" stroke="#000" stroke-width="1.30" stroke-linejoin="round"/>
<polygon points="413.15,184.12 410.39,186.88 406.49,186.88 403.73,184.12 403.73,180.22 406.49,177.46 410.39,177.46 413.15,180.22" fill="rgba(0,0,0,0.70)" stroke="#000" stroke-width="1.30" stroke-linejoin="round"/>
<polygon points="423.23,187.37 420.47,190.13 416.57,190.13 413.81,187.37 413.81,183.47 416.57,180.71 420.47,180.71 423.23,183.47" fill="rgba(0,0,0,0.70)" stroke="#000" stroke-width="1.30" stroke-linejoin="round"/>
<polygon points="433.31,191.81 430.55,194.57 426.65,194.57 423.89,191.81 423.89,187.90 426.65,185.14 430.55,185.14 433.31,187.90" fill="rgba(0,0,0,0.70)" stroke="#000" stroke-width="1.30" stroke-linejoin="round"/>
<polygon points="443.39,196.24 440.63,199.00 436.73,199.00 433.97,196.24 433.97,192.34 436.73,189.58 440.63,189.58 443.39,192.34" fill="rgba(0,0,0,0.70)" stroke="#000" stroke-width="1.30" stroke-linejoin="round"/>
<polygon points="453.47,200.67 450.71,203.43 446.81,203.43 444.05,200.67 444.05,196.77 446.81,194.01 450.71,194.01 453.47,196.77" fill="rgba(0,0,0,0.70)" stroke="#000" stroke-width="1.30" stroke-linejoin="round"/>
<polygon points="463.55,205.99 460.79,208.75 456.89,208.75 454.13,205.99 454.13,202.09 456.89,199.33 460.79,199.33 463.55,202.09" fill="rgba(0,0,0,0.70)" stroke="#000" stroke-width="1.30" stroke-linejoin="round"/>
<polygon points="473.63,211.01 470.87,213.77 466.97,213.77 464.21,211.01 464.21,207.11 466.97,204.35 470.87,204.35 473.63,207.11" fill="rgba(0,0,0,0.70)" stroke="#000" stroke-width="1.30" stroke-linejoin="round"/>
<polygon points="483.71,210.13 480.95,212.89 477.05,212.89 474.29,210.13 474.29,206.22 477.05,203.46 480.95,203.46 483.71,206.22" fill="rgba(0,0,0,0.70)" stroke="#000" stroke-width="1.30" stroke-linejoin="round"/>
<polygon points="493.79,214.56 491.03,217.32 487.13,217.32 484.37,214.56 484.37,210.66 487.13,207.90 491.03,207.90 493.79,210.66" fill="rgba(0,0,0,0.70)" stroke="#000" stroke-width="1.30" stroke-linejoin="round"/>
<polygon points="513.95,219.58 511.19,222.34 507.29,222.34 504.53,219.58 504.53,215.68 507.29,212.92 511.19,212.92 513.95,215.68" fill="rgba(0,0,0,0.70)" stroke="#000" stroke-width="1.30" stroke-linejoin="round"/>
<polygon points="524.03,218.99 521.27,221.75 517.37,221.75 514.61,218.99 514.61,215.09 517.37,212.33 521.27,212.33 524.03,215.09" fill="rgba(0,0,0,0.70)" stroke="#000" stroke-width="1.30" stroke-linejoin="round"/>
<polygon points="534.11,222.83 531.35,225.59 527.45,225.59 524.69,222.83 524.69,218.93 527.45,216.17 531.35,216.17 534.11,218.93" fill="rgba(0,0,0,0.70)" stroke="#000" stroke-width="1.30" stroke-linejoin="round"/>
<polygon points="544.19,228.15 541.43,230.91 537.53,230.91 534.77,228.15 534.77,224.25 537.53,221.49 541.43,221.49 544.19,224.25" fill="rgba(0,0,0,0.70)" stroke="#000" stroke-width="1.30" stroke-linejoin="round"/>
<polygon points="554.27,230.22 551.51,232.98 547.61,232.98 544.85,230.22 544.85,226.32 547.61,223.56 551.51,223.56 554.27,226.32" fill="rgba(0,0,0,0.70)" stroke="#000" stroke-width="1.30" stroke-linejoin="round"/>
<polygon points="564.35,233.77 561.59,236.53 557.69,236.53 554.93,233.77 554.93,229.86 557.69,227.10 561.59,227.10 564.35,229.86" fill="rgba(0,0,0,0.70)" stroke="#000" stroke-width="1.30" stroke-linejoin="round"/>
<polygon points="574.43,233.77 571.67,236.53 567.77,236.53 565.01,233.77 565.01,229.86 567.77,227.10 571.67,227.10 574.43,229.86" fill="rgba(0,0,0,0.70)" stroke="#000" stroke-width="1.30" stroke-linejoin="round"/>
<polygon points="584.51,237.61 581.75,240.37 577.85,240.37 575.09,237.61 575.09,233.71 577.85,230.95 581.75,230.95 584.51,233.71" fill="rgba(0,0,0,0.70)" stroke="#000" stroke-width="1.30" stroke-linejoin="round"/>
<polygon points="594.59,236.72 591.83,239.48 587.93,239.48 585.17,236.72 585.17,232.82 587.93,230.06 591.83,230.06 594.59,232.82" fill="rgba(0,0,0,0.70)" stroke="#000" stroke-width="1.30" stroke-linejoin="round"/>
<polygon points="604.67,240.27 601.91,243.03 598.01,243.03 595.25,240.27 595.25,236.37 598.01,233.61 601.91,233.61 604.67,236.37" fill="rgba(0,0,0,0.70)" stroke="#000" stroke-width="1.30" stroke-linejoin="round"/>
<polygon points="614.75,241.16 611.99,243.92 608.09,243.92 605.33,241.16 605.33,237.25 608.09,234.49 611.99,234.49 614.75,237.25" fill="rgba(0,0,0,0.70)" stroke="#000" stroke-width="1.30" stroke-linejoin="round"/>
<polygon points="624.83,245.00 622.07,247.76 618.17,247.76 615.41,245.00 615.41,241.09 618.17,238.33 622.07,238.33 624.83,241.09" fill="rgba(0,0,0,0.70)" stroke="#000" stroke-width="1.30" stroke-linejoin="round"/>
<polygon points="513.95,219.58 511.19,222.34 507.29,222.34 504.53,219.58 504.53,215.68 507.29,212.92 511.19,212.92 513.95,215.68" fill="rgba(0,0,0,0.70)" stroke="#000" stroke-width="1.30" stroke-linejoin="round"/>
<polygon points="524.03,224.31 521.27,227.07 517.37,227.07 514.61,224.31 514.61,220.41 517.37,217.65 521.27,217.65 524.03,220.41" fill="rgba(0,0,0,0.70)" stroke="#000" stroke-width="1.30" stroke-linejoin="round"/>
<polygon points="534.11,222.83 531.35,225.59 527.45,225.59 524.69,222.83 524.69,218.93 527.45,216.17 531.35,216.17 534.11,218.93" fill="rgba(0,0,0,0.70)" stroke="#000" stroke-width="1.30" stroke-linejoin="round"/>
<polygon points="544.19,228.15 541.43,230.91 537.53,230.91 534.77,228.15 534.77,224.25 537.53,221.49 541.43,221.49 544.19,224.25" fill="rgba(0,0,0,0.70)" stroke="#000" stroke-width="1.30" stroke-linejoin="round"/>
<polygon points="554.27,231.99 551.51,234.75 547.61,234.75 544.85,231.99 544.85,228.09 547.61,225.33 551.51,225.33 554.27,228.09" fill="rgba(0,0,0,0.70)" stroke="#000" stroke-width="1.30" stroke-linejoin="round"/>
<polygon points="564.35,233.77 561.59,236.53 557.69,236.53 554.93,233.77 554.93,229.86 557.69,227.10 561.59,227.10 564.35,229.86" fill="rgba(0,0,0,0.70)" stroke="#000" stroke-width="1.30" stroke-linejoin="round"/>
<polygon points="574.43,238.79 571.67,241.55 567.77,241.55 565.01,238.79 565.01,234.89 567.77,232.13 571.67,232.13 574.43,234.89" fill="rgba(0,0,0,0.70)" stroke="#000" stroke-width="1.30" stroke-linejoin="round"/>
<polygon points="584.51,237.61 581.75,240.37 577.85,240.37 575.09,237.61 575.09,233.71 577.85,230.95 581.75,230.95 584.51,233.71" fill="rgba(0,0,0,0.70)" stroke="#000" stroke-width="1.30" stroke-linejoin="round"/>
<polygon points="594.59,236.72 591.83,239.48 587.93,239.48 585.17,236.72 585.17,232.82 587.93,230.06 591.83,230.06 594.59,232.82" fill="rgba(0,0,0,0.70)" stroke="#000" stroke-width="1.30" stroke-linejoin="round"/>
<polygon points="604.67,244.70 601.91,247.46 598.01,247.46 595.25,244.70 595.25,240.80 598.01,238.04 601.91,238.04 604.67,240.80" fill="rgba(0,0,0,0.70)" stroke="#000" stroke-width="1.30" stroke-linejoin="round"/>
<polygon points="614.75,241.16 611.99,243.92 608.09,243.92 605.33,241.16 605.33,237.25 608.09,234.49 611.99,234.49 614.75,237.25" fill="rgba(0,0,0,0.70)" stroke="#000" stroke-width="1.30" stroke-linejoin="round"/>
<polygon points="372.83,95.47 370.07,98.23 366.17,98.23 363.41,95.47 363.41,91.57 366.17,88.81 370.07,88.81 372.83,91.57" fill="rgba(0,0,0,0.70)" stroke="#000" stroke-width="1.30" stroke-linejoin="round"/>
<polygon points="503.87,159.30 501.11,162.06 497.21,162.06 494.45,159.30 494.45,155.40 497.21,152.64 501.11,152.64 503.87,155.40" fill="rgba(0,0,0,0.70)" stroke="#000" stroke-width="1.30" stroke-linejoin="round"/>
<polygon points="503.87,158.12 501.11,160.88 497.21,160.88 494.45,158.12 494.45,154.22 497.21,151.46 501.11,151.46 503.87,154.22" fill="rgba(0,0,0,0.70)" stroke="#000" stroke-width="1.30" stroke-linejoin="round"/>
<polygon points="634.91,178.21 632.15,180.97 628.25,180.97 625.49,178.21 625.49,174.31 628.25,171.55 632.15,171.55 634.91,174.31" fill="rgba(0,0,0,0.70)" stroke="#000" stroke-width="1.30" stroke-linejoin="round"/>
<polygon points="634.91,185.31 632.15,188.07 628.25,188.07 625.49,185.31 625.49,181.40 628.25,178.64 632.15,178.64 634.91,181.40" fill="rgba(0,0,0,0.70)" stroke="#000" stroke-width="1.30" stroke-linejoin="round"/>
<polygon points="378.20,118.49 380.99,121.29 382.62,119.66 379.83,116.87 382.62,114.07 380.99,112.45 378.20,115.24 375.41,112.45 373.78,114.07 376.57,116.87 373.78,119.66 375.41,121.29" fill="#d98a64" stroke="#3f2212" stroke-width="1.00" stroke-linejoin="round"/>
<polygon points="388.28,117.90 391.07,120.69 392.70,119.07 389.91,116.28 392.70,113.48 391.07,111.86 388.28,114.65 385.49,111.86 383.86,113.48 386.65,116.28 383.86,119.07 385.49,120.69" fill="#d98a64" stroke="#3f2212" stroke-width="1.00" stroke-linejoin="round"/>
<polygon points="398.36,122.04 401.15,124.83 402.78,123.21 399.99,120.41 402.78,117.62 401.15,115.99 398.36,118.79 395.57,115.99 393.94,117.62 396.73,120.41 393.94,123.21 395.57,124.83" fill="#d98a64" stroke="#3f2212" stroke-width="1.00" stroke-linejoin="round"/>
<polygon points="408.44,122.93 411.23,125.72 412.86,124.09 410.07,121.30 412.86,118.51 411.23,116.88 408.44,119.67 405.65,116.88 404.02,118.51 406.81,121.30 404.02,124.09 405.65,125.72" fill="#d98a64" stroke="#3f2212" stroke-width="1.00" stroke-linejoin="round"/>
<polygon points="418.52,122.33 421.31,125.13 422.94,123.50 420.15,120.71 422.94,117.91 421.31,116.29 418.52,119.08 415.73,116.29 414.10,117.91 416.89,120.71 414.10,123.50 415.73,125.13" fill="#d98a64" stroke="#3f2212" stroke-width="1.00" stroke-linejoin="round"/>
<polygon points="428.60,128.24 431.39,131.04 433.02,129.41 430.23,126.62 433.02,123.82 431.39,122.20 428.60,124.99 425.81,122.20 424.18,123.82 426.97,126.62 424.18,129.41 425.81,131.04" fill="#d98a64" stroke="#3f2212" stroke-width="1.00" stroke-linejoin="round"/>
<polygon points="438.68,128.84 441.47,131.63 443.10,130.00 440.31,127.21 443.10,124.42 441.47,122.79 438.68,125.58 435.89,122.79 434.26,124.42 437.05,127.21 434.26,130.00 435.89,131.63" fill="#d98a64" stroke="#3f2212" stroke-width="1.00" stroke-linejoin="round"/>
<polygon points="448.76,133.27 451.55,136.06 453.18,134.43 450.39,131.64 453.18,128.85 451.55,127.22 448.76,130.02 445.97,127.22 444.34,128.85 447.13,131.64 444.34,134.43 445.97,136.06" fill="#d98a64" stroke="#3f2212" stroke-width="1.00" stroke-linejoin="round"/>
<polygon points="458.84,125.29 461.63,128.08 463.26,126.46 460.47,123.66 463.26,120.87 461.63,119.24 458.84,122.04 456.05,119.24 454.42,120.87 457.21,123.66 454.42,126.46 456.05,128.08" fill="#d98a64" stroke="#3f2212" stroke-width="1.00" stroke-linejoin="round"/>
<polygon points="468.92,129.43 471.71,132.22 473.34,130.59 470.55,127.80 473.34,125.01 471.71,123.38 468.92,126.17 466.13,123.38 464.50,125.01 467.29,127.80 464.50,130.59 466.13,132.22" fill="#d98a64" stroke="#3f2212" stroke-width="1.00" stroke-linejoin="round"/>
<polygon points="479.00,129.43 481.79,132.22 483.42,130.59 480.63,127.80 483.42,125.01 481.79,123.38 479.00,126.17 476.21,123.38 474.58,125.01 477.37,127.80 474.58,130.59 476.21,132.22" fill="#d98a64" stroke="#3f2212" stroke-width="1.00" stroke-linejoin="round"/>
<polygon points="489.08,137.40 491.87,140.20 493.50,138.57 490.71,135.78 493.50,132.99 491.87,131.36 489.08,134.15 486.29,131.36 484.66,132.99 487.45,135.78 484.66,138.57 486.29,140.20" fill="#d98a64" stroke="#3f2212" stroke-width="1.00" stroke-linejoin="round"/>
<polygon points="378.20,132.68 380.99,135.47 382.62,133.84 379.83,131.05 382.62,128.26 380.99,126.63 378.20,129.42 375.41,126.63 373.78,128.26 376.57,131.05 373.78,133.84 375.41,135.47" fill="#d98a64" stroke="#3f2212" stroke-width="1.00" stroke-linejoin="round"/>
<polygon points="388.28,139.18 391.07,141.97 392.70,140.34 389.91,137.55 392.70,134.76 391.07,133.13 388.28,135.93 385.49,133.13 383.86,134.76 386.65,137.55 383.86,140.34 385.49,141.97" fill="#d98a64" stroke="#3f2212" stroke-width="1.00" stroke-linejoin="round"/>
<polygon points="398.36,138.29 401.15,141.08 402.78,139.46 399.99,136.66 402.78,133.87 401.15,132.25 398.36,135.04 395.57,132.25 393.94,133.87 396.73,136.66 393.94,139.46 395.57,141.08" fill="#d98a64" stroke="#3f2212" stroke-width="1.00" stroke-linejoin="round"/>
<polygon points="408.44,144.79 411.23,147.59 412.86,145.96 410.07,143.17 412.86,140.37 411.23,138.75 408.44,141.54 405.65,138.75 404.02,140.37 406.81,143.17 404.02,145.96 405.65,147.59" fill="#d98a64" stroke="#3f2212" stroke-width="1.00" stroke-linejoin="round"/>
<polygon points="418.52,145.68 421.31,148.47 422.94,146.85 420.15,144.05 422.94,141.26 421.31,139.63 418.52,142.43 415.73,139.63 414.10,141.26 416.89,144.05 414.10,146.85 415.73,148.47" fill="#d98a64" stroke="#3f2212" stroke-width="1.00" stroke-linejoin="round"/>
<polygon points="428.60,147.16 431.39,149.95 433.02,148.32 430.23,145.53 433.02,142.74 431.39,141.11 428.60,143.90 425.81,141.11 424.18,142.74 426.97,145.53 424.18,148.32 425.81,149.95" fill="#d98a64" stroke="#3f2212" stroke-width="1.00" stroke-linejoin="round"/>
<polygon points="438.68,147.75 441.47,150.54 443.10,148.91 440.31,146.12 443.10,143.33 441.47,141.70 438.68,144.49 435.89,141.70 434.26,143.33 437.05,146.12 434.26,148.91 435.89,150.54" fill="#d98a64" stroke="#3f2212" stroke-width="1.00" stroke-linejoin="round"/>
<polygon points="448.76,151.88 451.55,154.68 453.18,153.05 450.39,150.26 453.18,147.46 451.55,145.84 448.76,148.63 445.97,145.84 444.34,147.46 447.13,150.26 444.34,153.05 445.97,154.68" fill="#d98a64" stroke="#3f2212" stroke-width="1.00" stroke-linejoin="round"/>
<polygon points="458.84,156.02 461.63,158.81 463.26,157.19 460.47,154.39 463.26,151.60 461.63,149.98 458.84,152.77 456.05,149.98 454.42,151.60 457.21,154.39 454.42,157.19 456.05,158.81" fill="#d98a64" stroke="#3f2212" stroke-width="1.00" stroke-linejoin="round"/>
<polygon points="468.92,154.84 471.71,157.63 473.34,156.01 470.55,153.21 473.34,150.42 471.71,148.79 468.92,151.59 466.13,148.79 464.50,150.42 467.29,153.21 464.50,156.01 466.13,157.63" fill="#d98a64" stroke="#3f2212" stroke-width="1.00" stroke-linejoin="round"/>
<polygon points="479.00,156.02 481.79,158.81 483.42,157.19 480.63,154.39 483.42,151.60 481.79,149.98 479.00,152.77 476.21,149.98 474.58,151.60 477.37,154.39 474.58,157.19 476.21,158.81" fill="#d98a64" stroke="#3f2212" stroke-width="1.00" stroke-linejoin="round"/>
<polygon points="489.08,156.02 491.87,158.81 493.50,157.19 490.71,154.39 493.50,151.60 491.87,149.98 489.08,152.77 486.29,149.98 484.66,151.60 487.45,154.39 484.66,157.19 486.29,158.81" fill="#d98a64" stroke="#3f2212" stroke-width="1.00" stroke-linejoin="round"/>
<polygon points="378.20,126.47 380.99,129.26 382.62,127.64 379.83,124.84 382.62,122.05 380.99,120.43 378.20,123.22 375.41,120.43 373.78,122.05 376.57,124.84 373.78,127.64 375.41,129.26" fill="#d98a64" stroke="#3f2212" stroke-width="1.00" stroke-linejoin="round"/>
<polygon points="388.28,132.38 391.07,135.17 392.70,133.55 389.91,130.75 392.70,127.96 391.07,126.34 388.28,129.13 385.49,126.34 383.86,127.96 386.65,130.75 383.86,133.55 385.49,135.17" fill="#d98a64" stroke="#3f2212" stroke-width="1.00" stroke-linejoin="round"/>
<polygon points="398.36,135.34 401.15,138.13 402.78,136.50 399.99,133.71 402.78,130.92 401.15,129.29 398.36,132.08 395.57,129.29 393.94,130.92 396.73,133.71 393.94,136.50 395.57,138.13" fill="#d98a64" stroke="#3f2212" stroke-width="1.00" stroke-linejoin="round"/>
<polygon points="408.44,136.81 411.23,139.61 412.86,137.98 410.07,135.19 412.86,132.39 411.23,130.77 408.44,133.56 405.65,130.77 404.02,132.39 406.81,135.19 404.02,137.98 405.65,139.61" fill="#d98a64" stroke="#3f2212" stroke-width="1.00" stroke-linejoin="round"/>
<polygon points="418.52,138.29 421.31,141.08 422.94,139.46 420.15,136.66 422.94,133.87 421.31,132.25 418.52,135.04 415.73,132.25 414.10,133.87 416.89,136.66 414.10,139.46 415.73,141.08" fill="#d98a64" stroke="#3f2212" stroke-width="1.00" stroke-linejoin="round"/>
<polygon points="428.60,141.25 431.39,144.04 433.02,142.41 430.23,139.62 433.02,136.83 431.39,135.20 428.60,137.99 425.81,135.20 424.18,136.83 426.97,139.62 424.18,142.41 425.81,144.04" fill="#d98a64" stroke="#3f2212" stroke-width="1.00" stroke-linejoin="round"/>
<polygon points="438.68,142.72 441.47,145.52 443.10,143.89 440.31,141.10 443.10,138.30 441.47,136.68 438.68,139.47 435.89,136.68 434.26,138.30 437.05,141.10 434.26,143.89 435.89,145.52" fill="#d98a64" stroke="#3f2212" stroke-width="1.00" stroke-linejoin="round"/>
<polygon points="448.76,144.20 451.55,146.99 453.18,145.37 450.39,142.57 453.18,139.78 451.55,138.16 448.76,140.95 445.97,138.16 444.34,139.78 447.13,142.57 444.34,145.37 445.97,146.99" fill="#d98a64" stroke="#3f2212" stroke-width="1.00" stroke-linejoin="round"/>
<polygon points="458.84,147.16 461.63,149.95 463.26,148.32 460.47,145.53 463.26,142.74 461.63,141.11 458.84,143.90 456.05,141.11 454.42,142.74 457.21,145.53 454.42,148.32 456.05,149.95" fill="#d98a64" stroke="#3f2212" stroke-width="1.00" stroke-linejoin="round"/>
<polygon points="468.92,148.63 471.71,151.43 473.34,149.80 470.55,147.01 473.34,144.21 471.71,142.59 468.92,145.38 466.13,142.59 464.50,144.21 467.29,147.01 464.50,149.80 466.13,151.43" fill="#d98a64" stroke="#3f2212" stroke-width="1.00" stroke-linejoin="round"/>
<polygon points="479.00,150.11 481.79,152.90 483.42,151.28 480.63,148.48 483.42,145.69 481.79,144.07 479.00,146.86 476.21,144.07 474.58,145.69 477.37,148.48 474.58,151.28 476.21,152.90" fill="#d98a64" stroke="#3f2212" stroke-width="1.00" stroke-linejoin="round"/>
<polygon points="489.08,151.59 491.87,154.38 493.50,152.76 490.71,149.96 493.50,147.17 491.87,145.54 489.08,148.34 486.29,145.54 484.66,147.17 487.45,149.96 484.66,152.76 486.29,154.38" fill="#d98a64" stroke="#3f2212" stroke-width="1.00" stroke-linejoin="round"/>
<polygon points="509.24,137.40 512.03,140.20 513.66,138.57 510.87,135.78 513.66,132.99 512.03,131.36 509.24,134.15 506.45,131.36 504.82,132.99 507.61,135.78 504.82,138.57 506.45,140.20" fill="#d98a64" stroke="#3f2212" stroke-width="1.00" stroke-linejoin="round"/>
<polygon points="519.32,137.40 522.11,140.20 523.74,138.57 520.95,135.78 523.74,132.99 522.11,131.36 519.32,134.15 516.53,131.36 514.90,132.99 517.69,135.78 514.90,138.57 516.53,140.20" fill="#d98a64" stroke="#3f2212" stroke-width="1.00" stroke-linejoin="round"/>
<polygon points="529.40,141.54 532.19,144.33 533.82,142.71 531.03,139.92 533.82,137.12 532.19,135.50 529.40,138.29 526.61,135.50 524.98,137.12 527.77,139.92 524.98,142.71 526.61,144.33" fill="#d98a64" stroke="#3f2212" stroke-width="1.00" stroke-linejoin="round"/>
<polygon points="539.48,141.54 542.27,144.33 543.90,142.71 541.11,139.92 543.90,137.12 542.27,135.50 539.48,138.29 536.69,135.50 535.06,137.12 537.85,139.92 535.06,142.71 536.69,144.33" fill="#d98a64" stroke="#3f2212" stroke-width="1.00" stroke-linejoin="round"/>
<polygon points="549.56,141.54 552.35,144.33 553.98,142.71 551.19,139.92 553.98,137.12 552.35,135.50 549.56,138.29 546.77,135.50 545.14,137.12 547.93,139.92 545.14,142.71 546.77,144.33" fill="#d98a64" stroke="#3f2212" stroke-width="1.00" stroke-linejoin="round"/>
<polygon points="559.64,145.68 562.43,148.47 564.06,146.85 561.27,144.05 564.06,141.26 562.43,139.63 559.64,142.43 556.85,139.63 555.22,141.26 558.01,144.05 555.22,146.85 556.85,148.47" fill="#d98a64" stroke="#3f2212" stroke-width="1.00" stroke-linejoin="round"/>
<polygon points="569.72,141.54 572.51,144.33 574.14,142.71 571.35,139.92 574.14,137.12 572.51,135.50 569.72,138.29 566.93,135.50 565.30,137.12 568.09,139.92 565.30,142.71 566.93,144.33" fill="#d98a64" stroke="#3f2212" stroke-width="1.00" stroke-linejoin="round"/>
<polygon points="579.80,145.38 582.59,148.18 584.22,146.55 581.43,143.76 584.22,140.96 582.59,139.34 579.80,142.13 577.01,139.34 575.38,140.96 578.17,143.76 575.38,146.55 577.01,148.18" fill="#d98a64" stroke="#3f2212" stroke-width="1.00" stroke-linejoin="round"/>
<polygon points="589.88,146.57 592.67,149.36 594.30,147.73 591.51,144.94 594.30,142.15 592.67,140.52 589.88,143.31 587.09,140.52 585.46,142.15 588.25,144.94 585.46,147.73 587.09,149.36" fill="#d98a64" stroke="#3f2212" stroke-width="1.00" stroke-linejoin="round"/>
<polygon points="599.96,150.11 602.75,152.90 604.38,151.28 601.59,148.48 604.38,145.69 602.75,144.07 599.96,146.86 597.17,144.07 595.54,145.69 598.33,148.48 595.54,151.28 597.17,152.90" fill="#d98a64" stroke="#3f2212" stroke-width="1.00" stroke-linejoin="round"/>
<polygon points="610.04,150.11 612.83,152.90 614.46,151.28 611.67,148.48 614.46,145.69 612.83,144.07 610.04,146.86 607.25,144.07 605.62,145.69 608.41,148.48 605.62,151.28 607.25,152.90" fill="#d98a64" stroke="#3f2212" stroke-width="1.00" stroke-linejoin="round"/>
<polygon points="620.12,150.11 622.91,152.90 624.54,151.28 621.75,148.48 624.54,145.69 622.91,144.07 620.12,146.86 617.33,144.07 615.70,145.69 618.49,148.48 615.70,151.28 617.33,152.90" fill="#d98a64" stroke="#3f2212" stroke-width="1.00" stroke-linejoin="round"/>
<polygon points="509.24,152.48 512.03,155.27 513.66,153.64 510.87,150.85 513.66,148.06 512.03,146.43 509.24,149.22 506.45,146.43 504.82,148.06 507.61,150.85 504.82,153.64 506.45,155.27" fill="#d98a64" stroke="#3f2212" stroke-width="1.00" stroke-linejoin="round"/>
<polygon points="519.32,152.48 522.11,155.27 523.74,153.64 520.95,150.85 523.74,148.06 522.11,146.43 519.32,149.22 516.53,146.43 514.90,148.06 517.69,150.85 514.90,153.64 516.53,155.27" fill="#d98a64" stroke="#3f2212" stroke-width="1.00" stroke-linejoin="round"/>
<polygon points="529.40,158.09 532.19,160.88 533.82,159.26 531.03,156.46 533.82,153.67 532.19,152.04 529.40,154.84 526.61,152.04 524.98,153.67 527.77,156.46 524.98,159.26 526.61,160.88" fill="#d98a64" stroke="#3f2212" stroke-width="1.00" stroke-linejoin="round"/>
<polygon points="539.48,158.09 542.27,160.88 543.90,159.26 541.11,156.46 543.90,153.67 542.27,152.04 539.48,154.84 536.69,152.04 535.06,153.67 537.85,156.46 535.06,159.26 536.69,160.88" fill="#d98a64" stroke="#3f2212" stroke-width="1.00" stroke-linejoin="round"/>
<polygon points="549.56,158.09 552.35,160.88 553.98,159.26 551.19,156.46 553.98,153.67 552.35,152.04 549.56,154.84 546.77,152.04 545.14,153.67 547.93,156.46 545.14,159.26 546.77,160.88" fill="#d98a64" stroke="#3f2212" stroke-width="1.00" stroke-linejoin="round"/>
<polygon points="559.64,158.98 562.43,161.77 564.06,160.14 561.27,157.35 564.06,154.56 562.43,152.93 559.64,155.72 556.85,152.93 555.22,154.56 558.01,157.35 555.22,160.14 556.85,161.77" fill="#d98a64" stroke="#3f2212" stroke-width="1.00" stroke-linejoin="round"/>
<polygon points="569.72,162.82 572.51,165.61 574.14,163.98 571.35,161.19 574.14,158.40 572.51,156.77 569.72,159.57 566.93,156.77 565.30,158.40 568.09,161.19 565.30,163.98 566.93,165.61" fill="#d98a64" stroke="#3f2212" stroke-width="1.00" stroke-linejoin="round"/>
<polygon points="579.80,162.23 582.59,165.02 584.22,163.39 581.43,160.60 584.22,157.81 582.59,156.18 579.80,158.97 577.01,156.18 575.38,157.81 578.17,160.60 575.38,163.39 577.01,165.02" fill="#d98a64" stroke="#3f2212" stroke-width="1.00" stroke-linejoin="round"/>
<polygon points="589.88,168.73 592.67,171.52 594.30,169.89 591.51,167.10 594.30,164.31 592.67,162.68 589.88,165.48 587.09,162.68 585.46,164.31 588.25,167.10 585.46,169.89 587.09,171.52" fill="#d98a64" stroke="#3f2212" stroke-width="1.00" stroke-linejoin="round"/>
<polygon points="599.96,164.89 602.75,167.68 604.38,166.05 601.59,163.26 604.38,160.47 602.75,158.84 599.96,161.63 597.17,158.84 595.54,160.47 598.33,163.26 595.54,166.05 597.17,167.68" fill="#d98a64" stroke="#3f2212" stroke-width="1.00" stroke-linejoin="round"/>
<polygon points="610.04,164.89 612.83,167.68 614.46,166.05 611.67,163.26 614.46,160.47 612.83,158.84 610.04,161.63 607.25,158.84 605.62,160.47 608.41,163.26 605.62,166.05 607.25,167.68" fill="#d98a64" stroke="#3f2212" stroke-width="1.00" stroke-linejoin="round"/>
<polygon points="620.12,170.80 622.91,173.59 624.54,171.96 621.75,169.17 624.54,166.38 622.91,164.75 620.12,167.54 617.33,164.75 615.70,166.38 618.49,169.17 615.70,171.96 617.33,173.59" fill="#d98a64" stroke="#3f2212" stroke-width="1.00" stroke-linejoin="round"/>
<polygon points="509.24,166.66 512.03,169.45 513.66,167.83 510.87,165.03 513.66,162.24 512.03,160.61 509.24,163.41 506.45,160.61 504.82,162.24 507.61,165.03 504.82,167.83 506.45,169.45" fill="#d98a64" stroke="#3f2212" stroke-width="1.00" stroke-linejoin="round"/>
<polygon points="519.32,166.66 522.11,169.45 523.74,167.83 520.95,165.03 523.74,162.24 522.11,160.61 519.32,163.41 516.53,160.61 514.90,162.24 517.69,165.03 514.90,167.83 516.53,169.45" fill="#d98a64" stroke="#3f2212" stroke-width="1.00" stroke-linejoin="round"/>
<polygon points="529.40,172.27 532.19,175.07 533.82,173.44 531.03,170.65 533.82,167.85 532.19,166.23 529.40,169.02 526.61,166.23 524.98,167.85 527.77,170.65 524.98,173.44 526.61,175.07" fill="#d98a64" stroke="#3f2212" stroke-width="1.00" stroke-linejoin="round"/>
<polygon points="539.48,172.27 542.27,175.07 543.90,173.44 541.11,170.65 543.90,167.85 542.27,166.23 539.48,169.02 536.69,166.23 535.06,167.85 537.85,170.65 535.06,173.44 536.69,175.07" fill="#d98a64" stroke="#3f2212" stroke-width="1.00" stroke-linejoin="round"/>
<polygon points="549.56,172.27 552.35,175.07 553.98,173.44 551.19,170.65 553.98,167.85 552.35,166.23 549.56,169.02 546.77,166.23 545.14,167.85 547.93,170.65 545.14,173.44 546.77,175.07" fill="#d98a64" stroke="#3f2212" stroke-width="1.00" stroke-linejoin="round"/>
<polygon points="559.64,172.27 562.43,175.07 564.06,173.44 561.27,170.65 564.06,167.85 562.43,166.23 559.64,169.02 556.85,166.23 555.22,167.85 558.01,170.65 555.22,173.44 556.85,175.07" fill="#d98a64" stroke="#3f2212" stroke-width="1.00" stroke-linejoin="round"/>
<polygon points="569.72,174.05 572.51,176.84 574.14,175.21 571.35,172.42 574.14,169.63 572.51,168.00 569.72,170.79 566.93,168.00 565.30,169.63 568.09,172.42 565.30,175.21 566.93,176.84" fill="#d98a64" stroke="#3f2212" stroke-width="1.00" stroke-linejoin="round"/>
<polygon points="579.80,174.34 582.59,177.14 584.22,175.51 581.43,172.72 584.22,169.92 582.59,168.30 579.80,171.09 577.01,168.30 575.38,169.92 578.17,172.72 575.38,175.51 577.01,177.14" fill="#d98a64" stroke="#3f2212" stroke-width="1.00" stroke-linejoin="round"/>
<polygon points="589.88,173.75 592.67,176.54 594.30,174.92 591.51,172.12 594.30,169.33 592.67,167.71 589.88,170.50 587.09,167.71 585.46,169.33 588.25,172.12 585.46,174.92 587.09,176.54" fill="#d98a64" stroke="#3f2212" stroke-width="1.00" stroke-linejoin="round"/>
<polygon points="599.96,172.27 602.75,175.07 604.38,173.44 601.59,170.65 604.38,167.85 602.75,166.23 599.96,169.02 597.17,166.23 595.54,167.85 598.33,170.65 595.54,173.44 597.17,175.07" fill="#d98a64" stroke="#3f2212" stroke-width="1.00" stroke-linejoin="round"/>
<polygon points="610.04,172.27 612.83,175.07 614.46,173.44 611.67,170.65 614.46,167.85 612.83,166.23 610.04,169.02 607.25,166.23 605.62,167.85 608.41,170.65 605.62,173.44 607.25,175.07" fill="#d98a64" stroke="#3f2212" stroke-width="1.00" stroke-linejoin="round"/>
<polygon points="620.12,165.48 622.91,168.27 624.54,166.64 621.75,163.85 624.54,161.06 622.91,159.43 620.12,162.22 617.33,159.43 615.70,161.06 618.49,163.85 615.70,166.64 617.33,168.27" fill="#d98a64" stroke="#3f2212" stroke-width="1.00" stroke-linejoin="round"/>
<polygon points="368.12,99.88 370.91,102.67 372.54,101.04 369.75,98.25 372.54,95.46 370.91,93.83 368.12,96.62 365.33,93.83 363.70,95.46 366.49,98.25 363.70,101.04 365.33,102.67" fill="#d98a64" stroke="#3f2212" stroke-width="1.00" stroke-linejoin="round"/>
<polygon points="368.12,105.79 370.91,108.58 372.54,106.95 369.75,104.16 372.54,101.37 370.91,99.74 368.12,102.53 365.33,99.74 363.70,101.37 366.49,104.16 363.70,106.95 365.33,108.58" fill="#d98a64" stroke="#3f2212" stroke-width="1.00" stroke-linejoin="round"/>
<polygon points="499.16,101.94 501.95,104.74 503.58,103.11 500.79,100.32 503.58,97.53 501.95,95.90 499.16,98.69 496.37,95.90 494.74,97.53 497.53,100.32 494.74,103.11 496.37,104.74" fill="#d98a64" stroke="#3f2212" stroke-width="1.00" stroke-linejoin="round"/>
<polygon points="499.16,117.61 501.95,120.40 503.58,118.77 500.79,115.98 503.58,113.19 501.95,111.56 499.16,114.35 496.37,111.56 494.74,113.19 497.53,115.98 494.74,118.77 496.37,120.40" fill="#d98a64" stroke="#3f2212" stroke-width="1.00" stroke-linejoin="round"/>
<polygon points="499.16,124.11 501.95,126.90 503.58,125.27 500.79,122.48 503.58,119.69 501.95,118.06 499.16,120.85 496.37,118.06 494.74,119.69 497.53,122.48 494.74,125.27 496.37,126.90" fill="#d98a64" stroke="#3f2212" stroke-width="1.00" stroke-linejoin="round"/>
<polygon points="499.16,129.43 501.95,132.22 503.58,130.59 500.79,127.80 503.58,125.01 501.95,123.38 499.16,126.17 496.37,123.38 494.74,125.01 497.53,127.80 494.74,130.59 496.37,132.22" fill="#d98a64" stroke="#3f2212" stroke-width="1.00" stroke-linejoin="round"/>
<polygon points="630.20,128.84 632.99,131.63 634.62,130.00 631.83,127.21 634.62,124.42 632.99,122.79 630.20,125.58 627.41,122.79 625.78,124.42 628.57,127.21 625.78,130.00 627.41,131.63" fill="#d98a64" stroke="#3f2212" stroke-width="1.00" stroke-linejoin="round"/>
<polygon points="630.20,133.56 632.99,136.36 634.62,134.73 631.83,131.94 634.62,129.14 632.99,127.52 630.20,130.31 627.41,127.52 625.78,129.14 628.57,131.94 625.78,134.73 627.41,136.36" fill="#d98a64" stroke="#3f2212" stroke-width="1.00" stroke-linejoin="round"/>
<polygon points="630.20,138.29 632.99,141.08 634.62,139.46 631.83,136.66 634.62,133.87 632.99,132.25 630.20,135.04 627.41,132.25 625.78,133.87 628.57,136.66 625.78,139.46 627.41,141.08" fill="#d98a64" stroke="#3f2212" stroke-width="1.00" stroke-linejoin="round"/>
<polygon points="630.20,134.45 632.99,137.24 634.62,135.62 631.83,132.82 634.62,130.03 632.99,128.40 630.20,131.20 627.41,128.40 625.78,130.03 628.57,132.82 625.78,135.62 627.41,137.24" fill="#d98a64" stroke="#3f2212" stroke-width="1.00" stroke-linejoin="round"/>
<polygon points="630.20,139.47 632.99,142.27 634.62,140.64 631.83,137.85 634.62,135.05 632.99,133.43 630.20,136.22 627.41,133.43 625.78,135.05 628.57,137.85 625.78,140.64 627.41,142.27" fill="#d98a64" stroke="#3f2212" stroke-width="1.00" stroke-linejoin="round"/>
<polygon points="378.20,117.48 379.52,120.66 382.96,120.94 380.34,123.18 381.14,126.53 378.20,124.73 375.26,126.53 376.06,123.18 373.44,120.94 376.88,120.66" fill="#e8262b" stroke="#1a0000" stroke-width="1.00" stroke-linejoin="miter"/>
<polygon points="388.28,122.21 389.60,125.39 393.04,125.66 390.42,127.90 391.22,131.25 388.28,129.46 385.34,131.25 386.14,127.90 383.52,125.66 386.96,125.39" fill="#e8262b" stroke="#1a0000" stroke-width="1.00" stroke-linejoin="miter"/>
<polygon points="398.36,127.53 399.68,130.71 403.12,130.98 400.50,133.22 401.30,136.57 398.36,134.78 395.42,136.57 396.22,133.22 393.60,130.98 397.04,130.71" fill="#e8262b" stroke="#1a0000" stroke-width="1.00" stroke-linejoin="miter"/>
<polygon points="408.44,126.05 409.76,129.23 413.20,129.51 410.58,131.75 411.38,135.10 408.44,133.30 405.50,135.10 406.30,131.75 403.68,129.51 407.12,129.23" fill="#e8262b" stroke="#1a0000" stroke-width="1.00" stroke-linejoin="miter"/>
<polygon points="418.52,126.05 419.84,129.23 423.28,129.51 420.66,131.75 421.46,135.10 418.52,133.30 415.58,135.10 416.38,131.75 413.76,129.51 417.20,129.23" fill="#e8262b" stroke="#1a0000" stroke-width="1.00" stroke-linejoin="miter"/>
<polygon points="428.60,131.66 429.92,134.84 433.36,135.12 430.74,137.36 431.54,140.71 428.60,138.91 425.66,140.71 426.46,137.36 423.84,135.12 427.28,134.84" fill="#e8262b" stroke="#1a0000" stroke-width="1.00" stroke-linejoin="miter"/>
<polygon points="438.68,133.14 440.00,136.32 443.44,136.60 440.82,138.84 441.62,142.19 438.68,140.39 435.74,142.19 436.54,138.84 433.92,136.60 437.36,136.32" fill="#e8262b" stroke="#1a0000" stroke-width="1.00" stroke-linejoin="miter"/>
<polygon points="448.76,133.14 450.08,136.32 453.52,136.60 450.90,138.84 451.70,142.19 448.76,140.39 445.82,142.19 446.62,138.84 444.00,136.60 447.44,136.32" fill="#e8262b" stroke="#1a0000" stroke-width="1.00" stroke-linejoin="miter"/>
<polygon points="458.84,136.10 460.16,139.28 463.60,139.55 460.98,141.79 461.78,145.14 458.84,143.35 455.90,145.14 456.70,141.79 454.08,139.55 457.52,139.28" fill="#e8262b" stroke="#1a0000" stroke-width="1.00" stroke-linejoin="miter"/>
<polygon points="468.92,136.98 470.24,140.16 473.68,140.44 471.06,142.68 471.86,146.03 468.92,144.23 465.98,146.03 466.78,142.68 464.16,140.44 467.60,140.16" fill="#e8262b" stroke="#1a0000" stroke-width="1.00" stroke-linejoin="miter"/>
<polygon points="479.00,135.51 480.32,138.69 483.76,138.96 481.14,141.20 481.94,144.55 479.00,142.76 476.06,144.55 476.86,141.20 474.24,138.96 477.68,138.69" fill="#e8262b" stroke="#1a0000" stroke-width="1.00" stroke-linejoin="miter"/>
<polygon points="489.08,141.71 490.40,144.89 493.84,145.17 491.22,147.41 492.02,150.76 489.08,148.96 486.14,150.76 486.94,147.41 484.32,145.17 487.76,144.89" fill="#e8262b" stroke="#1a0000" stroke-width="1.00" stroke-linejoin="miter"/>
<polygon points="378.20,122.21 379.52,125.39 382.96,125.66 380.34,127.90 381.14,131.25 378.20,129.46 375.26,131.25 376.06,127.90 373.44,125.66 376.88,125.39" fill="#e8262b" stroke="#1a0000" stroke-width="1.00" stroke-linejoin="miter"/>
<polygon points="388.28,126.64 389.60,129.82 393.04,130.10 390.42,132.34 391.22,135.69 388.28,133.89 385.34,135.69 386.14,132.34 383.52,130.10 386.96,129.82" fill="#e8262b" stroke="#1a0000" stroke-width="1.00" stroke-linejoin="miter"/>
<polygon points="398.36,130.19 399.68,133.37 403.12,133.64 400.50,135.88 401.30,139.23 398.36,137.44 395.42,139.23 396.22,135.88 393.60,133.64 397.04,133.37" fill="#e8262b" stroke="#1a0000" stroke-width="1.00" stroke-linejoin="miter"/>
<polygon points="408.44,132.55 409.76,135.73 413.20,136.01 410.58,138.25 411.38,141.60 408.44,139.80 405.50,141.60 406.30,138.25 403.68,136.01 407.12,135.73" fill="#e8262b" stroke="#1a0000" stroke-width="1.00" stroke-linejoin="miter"/>
<polygon points="418.52,132.55 419.84,135.73 423.28,136.01 420.66,138.25 421.46,141.60 418.52,139.80 415.58,141.60 416.38,138.25 413.76,136.01 417.20,135.73" fill="#e8262b" stroke="#1a0000" stroke-width="1.00" stroke-linejoin="miter"/>
<polygon points="428.60,134.62 429.92,137.80 433.36,138.07 430.74,140.32 431.54,143.67 428.60,141.87 425.66,143.67 426.46,140.32 423.84,138.07 427.28,137.80" fill="#e8262b" stroke="#1a0000" stroke-width="1.00" stroke-linejoin="miter"/>
<polygon points="438.68,136.10 440.00,139.28 443.44,139.55 440.82,141.79 441.62,145.14 438.68,143.35 435.74,145.14 436.54,141.79 433.92,139.55 437.36,139.28" fill="#e8262b" stroke="#1a0000" stroke-width="1.00" stroke-linejoin="miter"/>
<polygon points="448.76,137.57 450.08,140.75 453.52,141.03 450.90,143.27 451.70,146.62 448.76,144.82 445.82,146.62 446.62,143.27 444.00,141.03 447.44,140.75" fill="#e8262b" stroke="#1a0000" stroke-width="1.00" stroke-linejoin="miter"/>
<polygon points="458.84,139.05 460.16,142.23 463.60,142.51 460.98,144.75 461.78,148.10 458.84,146.30 455.90,148.10 456.70,144.75 454.08,142.51 457.52,142.23" fill="#e8262b" stroke="#1a0000" stroke-width="1.00" stroke-linejoin="miter"/>
<polygon points="468.92,140.53 470.24,143.71 473.68,143.98 471.06,146.23 471.86,149.58 468.92,147.78 465.98,149.58 466.78,146.23 464.16,143.98 467.60,143.71" fill="#e8262b" stroke="#1a0000" stroke-width="1.00" stroke-linejoin="miter"/>
<polygon points="479.00,142.30 480.32,145.48 483.76,145.76 481.14,148.00 481.94,151.35 479.00,149.55 476.06,151.35 476.86,148.00 474.24,145.76 477.68,145.48" fill="#e8262b" stroke="#1a0000" stroke-width="1.00" stroke-linejoin="miter"/>
<polygon points="489.08,141.71 490.40,144.89 493.84,145.17 491.22,147.41 492.02,150.76 489.08,148.96 486.14,150.76 486.94,147.41 484.32,145.17 487.76,144.89" fill="#e8262b" stroke="#1a0000" stroke-width="1.00" stroke-linejoin="miter"/>
<polygon points="509.24,141.42 510.56,144.60 514.00,144.87 511.38,147.11 512.18,150.46 509.24,148.67 506.30,150.46 507.10,147.11 504.48,144.87 507.92,144.60" fill="#e8262b" stroke="#1a0000" stroke-width="1.00" stroke-linejoin="miter"/>
<polygon points="519.32,141.42 520.64,144.60 524.08,144.87 521.46,147.11 522.26,150.46 519.32,148.67 516.38,150.46 517.18,147.11 514.56,144.87 518.00,144.60" fill="#e8262b" stroke="#1a0000" stroke-width="1.00" stroke-linejoin="miter"/>
<polygon points="529.40,142.60 530.72,145.78 534.16,146.05 531.54,148.29 532.34,151.64 529.40,149.85 526.46,151.64 527.26,148.29 524.64,146.05 528.08,145.78" fill="#e8262b" stroke="#1a0000" stroke-width="1.00" stroke-linejoin="miter"/>
<polygon points="539.48,142.60 540.80,145.78 544.24,146.05 541.62,148.29 542.42,151.64 539.48,149.85 536.54,151.64 537.34,148.29 534.72,146.05 538.16,145.78" fill="#e8262b" stroke="#1a0000" stroke-width="1.00" stroke-linejoin="miter"/>
<polygon points="549.56,142.60 550.88,145.78 554.32,146.05 551.70,148.29 552.50,151.64 549.56,149.85 546.62,151.64 547.42,148.29 544.80,146.05 548.24,145.78" fill="#e8262b" stroke="#1a0000" stroke-width="1.00" stroke-linejoin="miter"/>
<polygon points="559.64,146.44 560.96,149.62 564.40,149.89 561.78,152.14 562.58,155.49 559.64,153.69 556.70,155.49 557.50,152.14 554.88,149.89 558.32,149.62" fill="#e8262b" stroke="#1a0000" stroke-width="1.00" stroke-linejoin="miter"/>
<polygon points="569.72,147.03 571.04,150.21 574.48,150.49 571.86,152.73 572.66,156.08 569.72,154.28 566.78,156.08 567.58,152.73 564.96,150.49 568.40,150.21" fill="#e8262b" stroke="#1a0000" stroke-width="1.00" stroke-linejoin="miter"/>
<polygon points="579.80,147.03 581.12,150.21 584.56,150.49 581.94,152.73 582.74,156.08 579.80,154.28 576.86,156.08 577.66,152.73 575.04,150.49 578.48,150.21" fill="#e8262b" stroke="#1a0000" stroke-width="1.00" stroke-linejoin="miter"/>
<polygon points="589.88,150.58 591.20,153.76 594.64,154.03 592.02,156.27 592.82,159.62 589.88,157.83 586.94,159.62 587.74,156.27 585.12,154.03 588.56,153.76" fill="#e8262b" stroke="#1a0000" stroke-width="1.00" stroke-linejoin="miter"/>
<polygon points="599.96,147.03 601.28,150.21 604.72,150.49 602.10,152.73 602.90,156.08 599.96,154.28 597.02,156.08 597.82,152.73 595.20,150.49 598.64,150.21" fill="#e8262b" stroke="#1a0000" stroke-width="1.00" stroke-linejoin="miter"/>
<polygon points="610.04,150.58 611.36,153.76 614.80,154.03 612.18,156.27 612.98,159.62 610.04,157.83 607.10,159.62 607.90,156.27 605.28,154.03 608.72,153.76" fill="#e8262b" stroke="#1a0000" stroke-width="1.00" stroke-linejoin="miter"/>
<polygon points="620.12,150.58 621.44,153.76 624.88,154.03 622.26,156.27 623.06,159.62 620.12,157.83 617.18,159.62 617.98,156.27 615.36,154.03 618.80,153.76" fill="#e8262b" stroke="#1a0000" stroke-width="1.00" stroke-linejoin="miter"/>
<polygon points="509.24,142.01 510.56,145.19 514.00,145.46 511.38,147.70 512.18,151.05 509.24,149.26 506.30,151.05 507.10,147.70 504.48,145.46 507.92,145.19" fill="#e8262b" stroke="#1a0000" stroke-width="1.00" stroke-linejoin="miter"/>
<polygon points="519.32,142.01 520.64,145.19 524.08,145.46 521.46,147.70 522.26,151.05 519.32,149.26 516.38,151.05 517.18,147.70 514.56,145.46 518.00,145.19" fill="#e8262b" stroke="#1a0000" stroke-width="1.00" stroke-linejoin="miter"/>
<polygon points="529.40,143.48 530.72,146.66 534.16,146.94 531.54,149.18 532.34,152.53 529.40,150.73 526.46,152.53 527.26,149.18 524.64,146.94 528.08,146.66" fill="#e8262b" stroke="#1a0000" stroke-width="1.00" stroke-linejoin="miter"/>
<polygon points="539.48,143.48 540.80,146.66 544.24,146.94 541.62,149.18 542.42,152.53 539.48,150.73 536.54,152.53 537.34,149.18 534.72,146.94 538.16,146.66" fill="#e8262b" stroke="#1a0000" stroke-width="1.00" stroke-linejoin="miter"/>
<polygon points="549.56,143.48 550.88,146.66 554.32,146.94 551.70,149.18 552.50,152.53 549.56,150.73 546.62,152.53 547.42,149.18 544.80,146.94 548.24,146.66" fill="#e8262b" stroke="#1a0000" stroke-width="1.00" stroke-linejoin="miter"/>
<polygon points="559.64,147.03 560.96,150.21 564.40,150.49 561.78,152.73 562.58,156.08 559.64,154.28 556.70,156.08 557.50,152.73 554.88,150.49 558.32,150.21" fill="#e8262b" stroke="#1a0000" stroke-width="1.00" stroke-linejoin="miter"/>
<polygon points="569.72,147.62 571.04,150.80 574.48,151.08 571.86,153.32 572.66,156.67 569.72,154.87 566.78,156.67 567.58,153.32 564.96,151.08 568.40,150.80" fill="#e8262b" stroke="#1a0000" stroke-width="1.00" stroke-linejoin="miter"/>
<polygon points="579.80,147.62 581.12,150.80 584.56,151.08 581.94,153.32 582.74,156.67 579.80,154.87 576.86,156.67 577.66,153.32 575.04,151.08 578.48,150.80" fill="#e8262b" stroke="#1a0000" stroke-width="1.00" stroke-linejoin="miter"/>
<polygon points="589.88,150.58 591.20,153.76 594.64,154.03 592.02,156.27 592.82,159.62 589.88,157.83 586.94,159.62 587.74,156.27 585.12,154.03 588.56,153.76" fill="#e8262b" stroke="#1a0000" stroke-width="1.00" stroke-linejoin="miter"/>
<polygon points="599.96,152.35 601.28,155.53 604.72,155.80 602.10,158.05 602.90,161.40 599.96,159.60 597.02,161.40 597.82,158.05 595.20,155.80 598.64,155.53" fill="#e8262b" stroke="#1a0000" stroke-width="1.00" stroke-linejoin="miter"/>
<polygon points="610.04,150.58 611.36,153.76 614.80,154.03 612.18,156.27 612.98,159.62 610.04,157.83 607.10,159.62 607.90,156.27 605.28,154.03 608.72,153.76" fill="#e8262b" stroke="#1a0000" stroke-width="1.00" stroke-linejoin="miter"/>
<polygon points="620.12,150.58 621.44,153.76 624.88,154.03 622.26,156.27 623.06,159.62 620.12,157.83 617.18,159.62 617.98,156.27 615.36,154.03 618.80,153.76" fill="#e8262b" stroke="#1a0000" stroke-width="1.00" stroke-linejoin="miter"/>
<polygon points="368.12,88.52 369.44,91.70 372.88,91.98 370.26,94.22 371.06,97.57 368.12,95.77 365.18,97.57 365.98,94.22 363.36,91.98 366.80,91.70" fill="#e8262b" stroke="#1a0000" stroke-width="1.00" stroke-linejoin="miter"/>
<polygon points="368.12,99.16 369.44,102.34 372.88,102.61 370.26,104.86 371.06,108.21 368.12,106.41 365.18,108.21 365.98,104.86 363.36,102.61 366.80,102.34" fill="#e8262b" stroke="#1a0000" stroke-width="1.00" stroke-linejoin="miter"/>
<polygon points="499.16,99.16 500.48,102.34 503.92,102.61 501.30,104.86 502.10,108.21 499.16,106.41 496.22,108.21 497.02,104.86 494.40,102.61 497.84,102.34" fill="#e8262b" stroke="#1a0000" stroke-width="1.00" stroke-linejoin="miter"/>
<polygon points="630.20,103.89 631.52,107.07 634.96,107.34 632.34,109.58 633.14,112.93 630.20,111.14 627.26,112.93 628.06,109.58 625.44,107.34 628.88,107.07" fill="#e8262b" stroke="#1a0000" stroke-width="1.00" stroke-linejoin="miter"/>
<polygon points="630.20,107.43 631.52,110.61 634.96,110.89 632.34,113.13 633.14,116.48 630.20,114.68 627.26,116.48 628.06,113.13 625.44,110.89 628.88,110.61" fill="#e8262b" stroke="#1a0000" stroke-width="1.00" stroke-linejoin="miter"/>
<polygon points="83.31,299.68 80.55,302.44 76.65,302.44 73.89,299.68 73.89,295.77 76.65,293.01 80.55,293.01 83.31,295.77" fill="rgba(0,0,0,0.26)" stroke="#000" stroke-width="1.30" stroke-linejoin="round"/>
<polygon points="93.39,312.35 90.63,315.11 86.73,315.11 83.97,312.35 83.97,308.45 86.73,305.69 90.63,305.69 93.39,308.45" fill="rgba(0,0,0,0.26)" stroke="#000" stroke-width="1.30" stroke-linejoin="round"/>
<polygon points="103.47,312.85 100.71,315.61 96.81,315.61 94.05,312.85 94.05,308.94 96.81,306.18 100.71,306.18 103.47,308.94" fill="rgba(0,0,0,0.26)" stroke="#000" stroke-width="1.30" stroke-linejoin="round"/>
<polygon points="113.55,318.97 110.79,321.73 106.89,321.73 104.13,318.97 104.13,315.07 106.89,312.31 110.79,312.31 113.55,315.07" fill="rgba(0,0,0,0.26)" stroke="#000" stroke-width="1.30" stroke-linejoin="round"/>
<polygon points="123.63,323.46 120.87,326.22 116.97,326.22 114.21,323.46 114.21,319.55 116.97,316.79 120.87,316.79 123.63,319.55" fill="rgba(0,0,0,0.26)" stroke="#000" stroke-width="1.30" stroke-linejoin="round"/>
<polygon points="133.71,321.75 130.95,324.51 127.05,324.51 124.29,321.75 124.29,317.84 127.05,315.08 130.95,315.08 133.71,317.84" fill="rgba(0,0,0,0.26)" stroke="#000" stroke-width="1.30" stroke-linejoin="round"/>
<polygon points="143.79,323.53 141.03,326.29 137.13,326.29 134.37,323.53 134.37,319.62 137.13,316.86 141.03,316.86 143.79,319.62" fill="rgba(0,0,0,0.26)" stroke="#000" stroke-width="1.30" stroke-linejoin="round"/>
<polygon points="153.87,330.65 151.11,333.41 147.21,333.41 144.45,330.65 144.45,326.74 147.21,323.98 151.11,323.98 153.87,326.74" fill="rgba(0,0,0,0.26)" stroke="#000" stroke-width="1.30" stroke-linejoin="round"/>
<polygon points="163.95,334.92 161.19,337.68 157.29,337.68 154.53,334.92 154.53,331.02 157.29,328.26 161.19,328.26 163.95,331.02" fill="rgba(0,0,0,0.26)" stroke="#000" stroke-width="1.30" stroke-linejoin="round"/>
<polygon points="174.03,334.92 171.27,337.68 167.37,337.68 164.61,334.92 164.61,331.02 167.37,328.26 171.27,328.26 174.03,331.02" fill="rgba(0,0,0,0.26)" stroke="#000" stroke-width="1.30" stroke-linejoin="round"/>
<polygon points="184.11,334.92 181.35,337.68 177.45,337.68 174.69,334.92 174.69,331.02 177.45,328.26 181.35,328.26 184.11,331.02" fill="rgba(0,0,0,0.26)" stroke="#000" stroke-width="1.30" stroke-linejoin="round"/>
<polygon points="194.19,334.92 191.43,337.68 187.53,337.68 184.77,334.92 184.77,331.02 187.53,328.26 191.43,328.26 194.19,331.02" fill="rgba(0,0,0,0.26)" stroke="#000" stroke-width="1.30" stroke-linejoin="round"/>
<polygon points="83.31,307.15 80.55,309.91 76.65,309.91 73.89,307.15 73.89,303.25 76.65,300.49 80.55,300.49 83.31,303.25" fill="rgba(0,0,0,0.26)" stroke="#000" stroke-width="1.30" stroke-linejoin="round"/>
<polygon points="93.39,309.29 90.63,312.05 86.73,312.05 83.97,309.29 83.97,305.38 86.73,302.62 90.63,302.62 93.39,305.38" fill="rgba(0,0,0,0.26)" stroke="#000" stroke-width="1.30" stroke-linejoin="round"/>
<polygon points="103.47,313.99 100.71,316.75 96.81,316.75 94.05,313.99 94.05,310.08 96.81,307.32 100.71,307.32 103.47,310.08" fill="rgba(0,0,0,0.26)" stroke="#000" stroke-width="1.30" stroke-linejoin="round"/>
<polygon points="113.55,314.27 110.79,317.03 106.89,317.03 104.13,314.27 104.13,310.37 106.89,307.61 110.79,307.61 113.55,310.37" fill="rgba(0,0,0,0.26)" stroke="#000" stroke-width="1.30" stroke-linejoin="round"/>
<polygon points="123.63,315.70 120.87,318.46 116.97,318.46 114.21,315.70 114.21,311.79 116.97,309.03 120.87,309.03 123.63,311.79" fill="rgba(0,0,0,0.26)" stroke="#000" stroke-width="1.30" stroke-linejoin="round"/>
<polygon points="133.71,323.53 130.95,326.29 127.05,326.29 124.29,323.53 124.29,319.62 127.05,316.86 130.95,316.86 133.71,319.62" fill="rgba(0,0,0,0.26)" stroke="#000" stroke-width="1.30" stroke-linejoin="round"/>
<polygon points="143.79,317.83 141.03,320.59 137.13,320.59 134.37,317.83 134.37,313.93 137.13,311.17 141.03,311.17 143.79,313.93" fill="rgba(0,0,0,0.26)" stroke="#000" stroke-width="1.30" stroke-linejoin="round"/>
<polygon points="153.87,318.54 151.11,321.30 147.21,321.30 144.45,318.54 144.45,314.64 147.21,311.88 151.11,311.88 153.87,314.64" fill="rgba(0,0,0,0.26)" stroke="#000" stroke-width="1.30" stroke-linejoin="round"/>
<polygon points="163.95,321.39 161.19,324.15 157.29,324.15 154.53,321.39 154.53,317.49 157.29,314.73 161.19,314.73 163.95,317.49" fill="rgba(0,0,0,0.26)" stroke="#000" stroke-width="1.30" stroke-linejoin="round"/>
<polygon points="174.03,321.39 171.27,324.15 167.37,324.15 164.61,321.39 164.61,317.49 167.37,314.73 171.27,314.73 174.03,317.49" fill="rgba(0,0,0,0.26)" stroke="#000" stroke-width="1.30" stroke-linejoin="round"/>
<polygon points="184.11,324.95 181.35,327.71 177.45,327.71 174.69,324.95 174.69,321.05 177.45,318.29 181.35,318.29 184.11,321.05" fill="rgba(0,0,0,0.26)" stroke="#000" stroke-width="1.30" stroke-linejoin="round"/>
<polygon points="194.19,323.53 191.43,326.29 187.53,326.29 184.77,323.53 184.77,319.62 187.53,316.86 191.43,316.86 194.19,319.62" fill="rgba(0,0,0,0.26)" stroke="#000" stroke-width="1.30" stroke-linejoin="round"/>
<polygon points="214.35,331.50 211.59,334.26 207.69,334.26 204.93,331.50 204.93,327.60 207.69,324.84 211.59,324.84 214.35,327.60" fill="rgba(0,0,0,0.26)" stroke="#000" stroke-width="1.30" stroke-linejoin="round"/>
<polygon points="224.43,331.50 221.67,334.26 217.77,334.26 215.01,331.50 215.01,327.60 217.77,324.84 221.67,324.84 224.43,327.60" fill="rgba(0,0,0,0.26)" stroke="#000" stroke-width="1.30" stroke-linejoin="round"/>
<polygon points="234.51,331.00 231.75,333.76 227.85,333.76 225.09,331.00 225.09,327.10 227.85,324.34 231.75,324.34 234.51,327.10" fill="rgba(0,0,0,0.26)" stroke="#000" stroke-width="1.30" stroke-linejoin="round"/>
<polygon points="244.59,331.00 241.83,333.76 237.93,333.76 235.17,331.00 235.17,327.10 237.93,324.34 241.83,324.34 244.59,327.10" fill="rgba(0,0,0,0.26)" stroke="#000" stroke-width="1.30" stroke-linejoin="round"/>
<polygon points="254.67,336.13 251.91,338.89 248.01,338.89 245.25,336.13 245.25,332.23 248.01,329.47 251.91,329.47 254.67,332.23" fill="rgba(0,0,0,0.26)" stroke="#000" stroke-width="1.30" stroke-linejoin="round"/>
<polygon points="264.75,324.45 261.99,327.21 258.09,327.21 255.33,324.45 255.33,320.55 258.09,317.79 261.99,317.79 264.75,320.55" fill="rgba(0,0,0,0.26)" stroke="#000" stroke-width="1.30" stroke-linejoin="round"/>
<polygon points="274.83,324.45 272.07,327.21 268.17,327.21 265.41,324.45 265.41,320.55 268.17,317.79 272.07,317.79 274.83,320.55" fill="rgba(0,0,0,0.26)" stroke="#000" stroke-width="1.30" stroke-linejoin="round"/>
<polygon points="284.91,339.48 282.15,342.24 278.25,342.24 275.49,339.48 275.49,335.57 278.25,332.81 282.15,332.81 284.91,335.57" fill="rgba(0,0,0,0.26)" stroke="#000" stroke-width="1.30" stroke-linejoin="round"/>
<polygon points="294.99,341.40 292.23,344.16 288.33,344.16 285.57,341.40 285.57,337.50 288.33,334.74 292.23,334.74 294.99,337.50" fill="rgba(0,0,0,0.26)" stroke="#000" stroke-width="1.30" stroke-linejoin="round"/>
<polygon points="305.07,323.24 302.31,326.00 298.41,326.00 295.65,323.24 295.65,319.34 298.41,316.58 302.31,316.58 305.07,319.34" fill="rgba(0,0,0,0.26)" stroke="#000" stroke-width="1.30" stroke-linejoin="round"/>
<polygon points="315.15,335.63 312.39,338.39 308.49,338.39 305.73,335.63 305.73,331.73 308.49,328.97 312.39,328.97 315.15,331.73" fill="rgba(0,0,0,0.26)" stroke="#000" stroke-width="1.30" stroke-linejoin="round"/>
<polygon points="325.23,341.40 322.47,344.16 318.57,344.16 315.81,341.40 315.81,337.50 318.57,334.74 322.47,334.74 325.23,337.50" fill="rgba(0,0,0,0.26)" stroke="#000" stroke-width="1.30" stroke-linejoin="round"/>
<polygon points="214.35,340.12 211.59,342.88 207.69,342.88 204.93,340.12 204.93,336.21 207.69,333.45 211.59,333.45 214.35,336.21" fill="rgba(0,0,0,0.26)" stroke="#000" stroke-width="1.30" stroke-linejoin="round"/>
<polygon points="224.43,344.10 221.67,346.86 217.77,346.86 215.01,344.10 215.01,340.20 217.77,337.44 221.67,337.44 224.43,340.20" fill="rgba(0,0,0,0.26)" stroke="#000" stroke-width="1.30" stroke-linejoin="round"/>
<polygon points="234.51,345.10 231.75,347.86 227.85,347.86 225.09,345.10 225.09,341.20 227.85,338.44 231.75,338.44 234.51,341.20" fill="rgba(0,0,0,0.26)" stroke="#000" stroke-width="1.30" stroke-linejoin="round"/>
<polygon points="244.59,345.10 241.83,347.86 237.93,347.86 235.17,345.10 235.17,341.20 237.93,338.44 241.83,338.44 244.59,341.20" fill="rgba(0,0,0,0.26)" stroke="#000" stroke-width="1.30" stroke-linejoin="round"/>
<polygon points="254.67,345.10 251.91,347.86 248.01,347.86 245.25,345.10 245.25,341.20 248.01,338.44 251.91,338.44 254.67,341.20" fill="rgba(0,0,0,0.26)" stroke="#000" stroke-width="1.30" stroke-linejoin="round"/>
<polygon points="264.75,353.29 261.99,356.05 258.09,356.05 255.33,353.29 255.33,349.39 258.09,346.63 261.99,346.63 264.75,349.39" fill="rgba(0,0,0,0.26)" stroke="#000" stroke-width="1.30" stroke-linejoin="round"/>
<polygon points="274.83,353.29 272.07,356.05 268.17,356.05 265.41,353.29 265.41,349.39 268.17,346.63 272.07,346.63 274.83,349.39" fill="rgba(0,0,0,0.26)" stroke="#000" stroke-width="1.30" stroke-linejoin="round"/>
<polygon points="284.91,346.31 282.15,349.07 278.25,349.07 275.49,346.31 275.49,342.41 278.25,339.65 282.15,339.65 284.91,342.41" fill="rgba(0,0,0,0.26)" stroke="#000" stroke-width="1.30" stroke-linejoin="round"/>
<polygon points="294.99,352.01 292.23,354.77 288.33,354.77 285.57,352.01 285.57,348.10 288.33,345.34 292.23,345.34 294.99,348.10" fill="rgba(0,0,0,0.26)" stroke="#000" stroke-width="1.30" stroke-linejoin="round"/>
<polygon points="305.07,345.81 302.31,348.57 298.41,348.57 295.65,345.81 295.65,341.91 298.41,339.15 302.31,339.15 305.07,341.91" fill="rgba(0,0,0,0.26)" stroke="#000" stroke-width="1.30" stroke-linejoin="round"/>
<polygon points="315.15,352.01 312.39,354.77 308.49,354.77 305.73,352.01 305.73,348.10 308.49,345.34 312.39,345.34 315.15,348.10" fill="rgba(0,0,0,0.26)" stroke="#000" stroke-width="1.30" stroke-linejoin="round"/>
<polygon points="325.23,352.01 322.47,354.77 318.57,354.77 315.81,352.01 315.81,348.10 318.57,345.34 322.47,345.34 325.23,348.10" fill="rgba(0,0,0,0.26)" stroke="#000" stroke-width="1.30" stroke-linejoin="round"/>
<polygon points="73.23,275.11 70.47,277.87 66.57,277.87 63.81,275.11 63.81,271.21 66.57,268.45 70.47,268.45 73.23,271.21" fill="rgba(0,0,0,0.26)" stroke="#000" stroke-width="1.30" stroke-linejoin="round"/>
<polygon points="204.27,283.66 201.51,286.42 197.61,286.42 194.85,283.66 194.85,279.75 197.61,276.99 201.51,276.99 204.27,279.75" fill="rgba(0,0,0,0.26)" stroke="#000" stroke-width="1.30" stroke-linejoin="round"/>
<polygon points="335.31,291.49 332.55,294.25 328.65,294.25 325.89,291.49 325.89,287.58 328.65,284.82 332.55,284.82 335.31,287.58" fill="rgba(0,0,0,0.26)" stroke="#000" stroke-width="1.30" stroke-linejoin="round"/>
<polygon points="83.31,307.15 80.55,309.91 76.65,309.91 73.89,307.15 73.89,303.25 76.65,300.49 80.55,300.49 83.31,303.25" fill="rgba(0,0,0,0.70)" stroke="#000" stroke-width="1.30" stroke-linejoin="round"/>
<polygon points="93.39,309.29 90.63,312.05 86.73,312.05 83.97,309.29 83.97,305.38 86.73,302.62 90.63,302.62 93.39,305.38" fill="rgba(0,0,0,0.70)" stroke="#000" stroke-width="1.30" stroke-linejoin="round"/>
<polygon points="103.47,313.99 100.71,316.75 96.81,316.75 94.05,313.99 94.05,310.08 96.81,307.32 100.71,307.32 103.47,310.08" fill="rgba(0,0,0,0.70)" stroke="#000" stroke-width="1.30" stroke-linejoin="round"/>
<polygon points="113.55,312.14 110.79,314.90 106.89,314.90 104.13,312.14 104.13,308.23 106.89,305.47 110.79,305.47 113.55,308.23" fill="rgba(0,0,0,0.70)" stroke="#000" stroke-width="1.30" stroke-linejoin="round"/>
<polygon points="123.63,314.27 120.87,317.03 116.97,317.03 114.21,314.27 114.21,310.37 116.97,307.61 120.87,307.61 123.63,310.37" fill="rgba(0,0,0,0.70)" stroke="#000" stroke-width="1.30" stroke-linejoin="round"/>
<polygon points="133.71,314.27 130.95,317.03 127.05,317.03 124.29,314.27 124.29,310.37 127.05,307.61 130.95,307.61 133.71,310.37" fill="rgba(0,0,0,0.70)" stroke="#000" stroke-width="1.30" stroke-linejoin="round"/>
<polygon points="143.79,314.27 141.03,317.03 137.13,317.03 134.37,314.27 134.37,310.37 137.13,307.61 141.03,307.61 143.79,310.37" fill="rgba(0,0,0,0.70)" stroke="#000" stroke-width="1.30" stroke-linejoin="round"/>
<polygon points="153.87,317.83 151.11,320.59 147.21,320.59 144.45,317.83 144.45,313.93 147.21,311.17 151.11,311.17 153.87,313.93" fill="rgba(0,0,0,0.70)" stroke="#000" stroke-width="1.30" stroke-linejoin="round"/>
<polygon points="163.95,317.83 161.19,320.59 157.29,320.59 154.53,317.83 154.53,313.93 157.29,311.17 161.19,311.17 163.95,313.93" fill="rgba(0,0,0,0.70)" stroke="#000" stroke-width="1.30" stroke-linejoin="round"/>
<polygon points="174.03,319.26 171.27,322.02 167.37,322.02 164.61,319.26 164.61,315.35 167.37,312.59 171.27,312.59 174.03,315.35" fill="rgba(0,0,0,0.70)" stroke="#000" stroke-width="1.30" stroke-linejoin="round"/>
<polygon points="184.11,321.39 181.35,324.15 177.45,324.15 174.69,321.39 174.69,317.49 177.45,314.73 181.35,314.73 184.11,317.49" fill="rgba(0,0,0,0.70)" stroke="#000" stroke-width="1.30" stroke-linejoin="round"/>
<polygon points="194.19,322.82 191.43,325.58 187.53,325.58 184.77,322.82 184.77,318.91 187.53,316.15 191.43,316.15 194.19,318.91" fill="rgba(0,0,0,0.70)" stroke="#000" stroke-width="1.30" stroke-linejoin="round"/>
<polygon points="214.35,314.27 211.59,317.03 207.69,317.03 204.93,314.27 204.93,310.37 207.69,307.61 211.59,307.61 214.35,310.37" fill="rgba(0,0,0,0.70)" stroke="#000" stroke-width="1.30" stroke-linejoin="round"/>
<polygon points="224.43,314.27 221.67,317.03 217.77,317.03 215.01,314.27 215.01,310.37 217.77,307.61 221.67,307.61 224.43,310.37" fill="rgba(0,0,0,0.70)" stroke="#000" stroke-width="1.30" stroke-linejoin="round"/>
<polygon points="234.51,317.83 231.75,320.59 227.85,320.59 225.09,317.83 225.09,313.93 227.85,311.17 231.75,311.17 234.51,313.93" fill="rgba(0,0,0,0.70)" stroke="#000" stroke-width="1.30" stroke-linejoin="round"/>
<polygon points="244.59,317.83 241.83,320.59 237.93,320.59 235.17,317.83 235.17,313.93 237.93,311.17 241.83,311.17 244.59,313.93" fill="rgba(0,0,0,0.70)" stroke="#000" stroke-width="1.30" stroke-linejoin="round"/>
<polygon points="254.67,317.83 251.91,320.59 248.01,320.59 245.25,317.83 245.25,313.93 248.01,311.17 251.91,311.17 254.67,313.93" fill="rgba(0,0,0,0.70)" stroke="#000" stroke-width="1.30" stroke-linejoin="round"/>
<polygon points="264.75,319.26 261.99,322.02 258.09,322.02 255.33,319.26 255.33,315.35 258.09,312.59 261.99,312.59 264.75,315.35" fill="rgba(0,0,0,0.70)" stroke="#000" stroke-width="1.30" stroke-linejoin="round"/>
<polygon points="274.83,319.26 272.07,322.02 268.17,322.02 265.41,319.26 265.41,315.35 268.17,312.59 272.07,312.59 274.83,315.35" fill="rgba(0,0,0,0.70)" stroke="#000" stroke-width="1.30" stroke-linejoin="round"/>
<polygon points="284.91,321.39 282.15,324.15 278.25,324.15 275.49,321.39 275.49,317.49 278.25,314.73 282.15,314.73 284.91,317.49" fill="rgba(0,0,0,0.70)" stroke="#000" stroke-width="1.30" stroke-linejoin="round"/>
<polygon points="294.99,321.39 292.23,324.15 288.33,324.15 285.57,321.39 285.57,317.49 288.33,314.73 292.23,314.73 294.99,317.49" fill="rgba(0,0,0,0.70)" stroke="#000" stroke-width="1.30" stroke-linejoin="round"/>
<polygon points="305.07,322.82 302.31,325.58 298.41,325.58 295.65,322.82 295.65,318.91 298.41,316.15 302.31,316.15 305.07,318.91" fill="rgba(0,0,0,0.70)" stroke="#000" stroke-width="1.30" stroke-linejoin="round"/>
<polygon points="315.15,324.95 312.39,327.71 308.49,327.71 305.73,324.95 305.73,321.05 308.49,318.29 312.39,318.29 315.15,321.05" fill="rgba(0,0,0,0.70)" stroke="#000" stroke-width="1.30" stroke-linejoin="round"/>
<polygon points="325.23,324.95 322.47,327.71 318.57,327.71 315.81,324.95 315.81,321.05 318.57,318.29 322.47,318.29 325.23,321.05" fill="rgba(0,0,0,0.70)" stroke="#000" stroke-width="1.30" stroke-linejoin="round"/>
<polygon points="73.23,273.69 70.47,276.45 66.57,276.45 63.81,273.69 63.81,269.78 66.57,267.02 70.47,267.02 73.23,269.78" fill="rgba(0,0,0,0.70)" stroke="#000" stroke-width="1.30" stroke-linejoin="round"/>
<polygon points="335.31,271.55 332.55,274.31 328.65,274.31 325.89,271.55 325.89,267.65 328.65,264.89 332.55,264.89 335.31,267.65" fill="rgba(0,0,0,0.70)" stroke="#000" stroke-width="1.30" stroke-linejoin="round"/>
<polygon points="78.60,303.27 81.39,306.06 83.02,304.43 80.23,301.64 83.02,298.85 81.39,297.22 78.60,300.01 75.81,297.22 74.18,298.85 76.97,301.64 74.18,304.43 75.81,306.06" fill="#d98a64" stroke="#3f2212" stroke-width="1.00" stroke-linejoin="round"/>
<polygon points="88.68,297.71 91.47,300.51 93.10,298.88 90.31,296.09 93.10,293.29 91.47,291.67 88.68,294.46 85.89,291.67 84.26,293.29 87.05,296.09 84.26,298.88 85.89,300.51" fill="#d98a64" stroke="#3f2212" stroke-width="1.00" stroke-linejoin="round"/>
<polygon points="98.76,304.69 101.55,307.48 103.18,305.86 100.39,303.06 103.18,300.27 101.55,298.64 98.76,301.44 95.97,298.64 94.34,300.27 97.13,303.06 94.34,305.86 95.97,307.48" fill="#d98a64" stroke="#3f2212" stroke-width="1.00" stroke-linejoin="round"/>
<polygon points="108.84,307.54 111.63,310.33 113.26,308.71 110.47,305.91 113.26,303.12 111.63,301.49 108.84,304.29 106.05,301.49 104.42,303.12 107.21,305.91 104.42,308.71 106.05,310.33" fill="#d98a64" stroke="#3f2212" stroke-width="1.00" stroke-linejoin="round"/>
<polygon points="118.92,307.54 121.71,310.33 123.34,308.71 120.55,305.91 123.34,303.12 121.71,301.49 118.92,304.29 116.13,301.49 114.50,303.12 117.29,305.91 114.50,308.71 116.13,310.33" fill="#d98a64" stroke="#3f2212" stroke-width="1.00" stroke-linejoin="round"/>
<polygon points="129.00,307.54 131.79,310.33 133.42,308.71 130.63,305.91 133.42,303.12 131.79,301.49 129.00,304.29 126.21,301.49 124.58,303.12 127.37,305.91 124.58,308.71 126.21,310.33" fill="#d98a64" stroke="#3f2212" stroke-width="1.00" stroke-linejoin="round"/>
<polygon points="139.08,311.10 141.87,313.89 143.50,312.27 140.71,309.47 143.50,306.68 141.87,305.05 139.08,307.85 136.29,305.05 134.66,306.68 137.45,309.47 134.66,312.27 136.29,313.89" fill="#d98a64" stroke="#3f2212" stroke-width="1.00" stroke-linejoin="round"/>
<polygon points="149.16,313.95 151.95,316.74 153.58,315.11 150.79,312.32 153.58,309.53 151.95,307.90 149.16,310.69 146.37,307.90 144.74,309.53 147.53,312.32 144.74,315.11 146.37,316.74" fill="#d98a64" stroke="#3f2212" stroke-width="1.00" stroke-linejoin="round"/>
<polygon points="159.24,313.95 162.03,316.74 163.66,315.11 160.87,312.32 163.66,309.53 162.03,307.90 159.24,310.69 156.45,307.90 154.82,309.53 157.61,312.32 154.82,315.11 156.45,316.74" fill="#d98a64" stroke="#3f2212" stroke-width="1.00" stroke-linejoin="round"/>
<polygon points="169.32,317.51 172.11,320.30 173.74,318.67 170.95,315.88 173.74,313.09 172.11,311.46 169.32,314.25 166.53,311.46 164.90,313.09 167.69,315.88 164.90,318.67 166.53,320.30" fill="#d98a64" stroke="#3f2212" stroke-width="1.00" stroke-linejoin="round"/>
<polygon points="179.40,306.11 182.19,308.91 183.82,307.28 181.03,304.49 183.82,301.69 182.19,300.07 179.40,302.86 176.61,300.07 174.98,301.69 177.77,304.49 174.98,307.28 176.61,308.91" fill="#d98a64" stroke="#3f2212" stroke-width="1.00" stroke-linejoin="round"/>
<polygon points="189.48,313.95 192.27,316.74 193.90,315.11 191.11,312.32 193.90,309.53 192.27,307.90 189.48,310.69 186.69,307.90 185.06,309.53 187.85,312.32 185.06,315.11 186.69,316.74" fill="#d98a64" stroke="#3f2212" stroke-width="1.00" stroke-linejoin="round"/>
<polygon points="78.60,308.25 81.39,311.04 83.02,309.42 80.23,306.62 83.02,303.83 81.39,302.20 78.60,305.00 75.81,302.20 74.18,303.83 76.97,306.62 74.18,309.42 75.81,311.04" fill="#d98a64" stroke="#3f2212" stroke-width="1.00" stroke-linejoin="round"/>
<polygon points="88.68,310.39 91.47,313.18 93.10,311.55 90.31,308.76 93.10,305.97 91.47,304.34 88.68,307.13 85.89,304.34 84.26,305.97 87.05,308.76 84.26,311.55 85.89,313.18" fill="#d98a64" stroke="#3f2212" stroke-width="1.00" stroke-linejoin="round"/>
<polygon points="98.76,310.39 101.55,313.18 103.18,311.55 100.39,308.76 103.18,305.97 101.55,304.34 98.76,307.13 95.97,304.34 94.34,305.97 97.13,308.76 94.34,311.55 95.97,313.18" fill="#d98a64" stroke="#3f2212" stroke-width="1.00" stroke-linejoin="round"/>
<polygon points="108.84,313.95 111.63,316.74 113.26,315.11 110.47,312.32 113.26,309.53 111.63,307.90 108.84,310.69 106.05,307.90 104.42,309.53 107.21,312.32 104.42,315.11 106.05,316.74" fill="#d98a64" stroke="#3f2212" stroke-width="1.00" stroke-linejoin="round"/>
<polygon points="118.92,313.95 121.71,316.74 123.34,315.11 120.55,312.32 123.34,309.53 121.71,307.90 118.92,310.69 116.13,307.90 114.50,309.53 117.29,312.32 114.50,315.11 116.13,316.74" fill="#d98a64" stroke="#3f2212" stroke-width="1.00" stroke-linejoin="round"/>
<polygon points="129.00,313.95 131.79,316.74 133.42,315.11 130.63,312.32 133.42,309.53 131.79,307.90 129.00,310.69 126.21,307.90 124.58,309.53 127.37,312.32 124.58,315.11 126.21,316.74" fill="#d98a64" stroke="#3f2212" stroke-width="1.00" stroke-linejoin="round"/>
<polygon points="139.08,313.95 141.87,316.74 143.50,315.11 140.71,312.32 143.50,309.53 141.87,307.90 139.08,310.69 136.29,307.90 134.66,309.53 137.45,312.32 134.66,315.11 136.29,316.74" fill="#d98a64" stroke="#3f2212" stroke-width="1.00" stroke-linejoin="round"/>
<polygon points="149.16,316.08 151.95,318.88 153.58,317.25 150.79,314.46 153.58,311.66 151.95,310.04 149.16,312.83 146.37,310.04 144.74,311.66 147.53,314.46 144.74,317.25 146.37,318.88" fill="#d98a64" stroke="#3f2212" stroke-width="1.00" stroke-linejoin="round"/>
<polygon points="159.24,319.64 162.03,322.44 163.66,320.81 160.87,318.02 163.66,315.22 162.03,313.60 159.24,316.39 156.45,313.60 154.82,315.22 157.61,318.02 154.82,320.81 156.45,322.44" fill="#d98a64" stroke="#3f2212" stroke-width="1.00" stroke-linejoin="round"/>
<polygon points="169.32,319.64 172.11,322.44 173.74,320.81 170.95,318.02 173.74,315.22 172.11,313.60 169.32,316.39 166.53,313.60 164.90,315.22 167.69,318.02 164.90,320.81 166.53,322.44" fill="#d98a64" stroke="#3f2212" stroke-width="1.00" stroke-linejoin="round"/>
<polygon points="179.40,324.63 182.19,327.42 183.82,325.79 181.03,323.00 183.82,320.21 182.19,318.58 179.40,321.37 176.61,318.58 174.98,320.21 177.77,323.00 174.98,325.79 176.61,327.42" fill="#d98a64" stroke="#3f2212" stroke-width="1.00" stroke-linejoin="round"/>
<polygon points="189.48,322.49 192.27,325.28 193.90,323.66 191.11,320.86 193.90,318.07 192.27,316.44 189.48,319.24 186.69,316.44 185.06,318.07 187.85,320.86 185.06,323.66 186.69,325.28" fill="#d98a64" stroke="#3f2212" stroke-width="1.00" stroke-linejoin="round"/>
<polygon points="209.64,327.19 212.43,329.98 214.06,328.36 211.27,325.56 214.06,322.77 212.43,321.14 209.64,323.94 206.85,321.14 205.22,322.77 208.01,325.56 205.22,328.36 206.85,329.98" fill="#d98a64" stroke="#3f2212" stroke-width="1.00" stroke-linejoin="round"/>
<polygon points="219.72,327.69 222.51,330.48 224.14,328.85 221.35,326.06 224.14,323.27 222.51,321.64 219.72,324.44 216.93,321.64 215.30,323.27 218.09,326.06 215.30,328.85 216.93,330.48" fill="#d98a64" stroke="#3f2212" stroke-width="1.00" stroke-linejoin="round"/>
<polygon points="229.80,320.71 232.59,323.50 234.22,321.88 231.43,319.08 234.22,316.29 232.59,314.66 229.80,317.46 227.01,314.66 225.38,316.29 228.17,319.08 225.38,321.88 227.01,323.50" fill="#d98a64" stroke="#3f2212" stroke-width="1.00" stroke-linejoin="round"/>
<polygon points="239.88,320.71 242.67,323.50 244.30,321.88 241.51,319.08 244.30,316.29 242.67,314.66 239.88,317.46 237.09,314.66 235.46,316.29 238.25,319.08 235.46,321.88 237.09,323.50" fill="#d98a64" stroke="#3f2212" stroke-width="1.00" stroke-linejoin="round"/>
<polygon points="249.96,320.71 252.75,323.50 254.38,321.88 251.59,319.08 254.38,316.29 252.75,314.66 249.96,317.46 247.17,314.66 245.54,316.29 248.33,319.08 245.54,321.88 247.17,323.50" fill="#d98a64" stroke="#3f2212" stroke-width="1.00" stroke-linejoin="round"/>
<polygon points="260.04,326.05 262.83,328.84 264.46,327.22 261.67,324.42 264.46,321.63 262.83,320.00 260.04,322.80 257.25,320.00 255.62,321.63 258.41,324.42 255.62,327.22 257.25,328.84" fill="#d98a64" stroke="#3f2212" stroke-width="1.00" stroke-linejoin="round"/>
<polygon points="270.12,326.05 272.91,328.84 274.54,327.22 271.75,324.42 274.54,321.63 272.91,320.00 270.12,322.80 267.33,320.00 265.70,321.63 268.49,324.42 265.70,327.22 267.33,328.84" fill="#d98a64" stroke="#3f2212" stroke-width="1.00" stroke-linejoin="round"/>
<polygon points="280.20,326.05 282.99,328.84 284.62,327.22 281.83,324.42 284.62,321.63 282.99,320.00 280.20,322.80 277.41,320.00 275.78,321.63 278.57,324.42 275.78,327.22 277.41,328.84" fill="#d98a64" stroke="#3f2212" stroke-width="1.00" stroke-linejoin="round"/>
<polygon points="290.28,324.63 293.07,327.42 294.70,325.79 291.91,323.00 294.70,320.21 293.07,318.58 290.28,321.37 287.49,318.58 285.86,320.21 288.65,323.00 285.86,325.79 287.49,327.42" fill="#d98a64" stroke="#3f2212" stroke-width="1.00" stroke-linejoin="round"/>
<polygon points="300.36,327.33 303.15,330.13 304.78,328.50 301.99,325.71 304.78,322.91 303.15,321.29 300.36,324.08 297.57,321.29 295.94,322.91 298.73,325.71 295.94,328.50 297.57,330.13" fill="#d98a64" stroke="#3f2212" stroke-width="1.00" stroke-linejoin="round"/>
<polygon points="310.44,329.18 313.23,331.98 314.86,330.35 312.07,327.56 314.86,324.76 313.23,323.14 310.44,325.93 307.65,323.14 306.02,324.76 308.81,327.56 306.02,330.35 307.65,331.98" fill="#d98a64" stroke="#3f2212" stroke-width="1.00" stroke-linejoin="round"/>
<polygon points="320.52,327.90 323.31,330.69 324.94,329.07 322.15,326.28 324.94,323.48 323.31,321.86 320.52,324.65 317.73,321.86 316.10,323.48 318.89,326.28 316.10,329.07 317.73,330.69" fill="#d98a64" stroke="#3f2212" stroke-width="1.00" stroke-linejoin="round"/>
<polygon points="209.64,324.63 212.43,327.42 214.06,325.79 211.27,323.00 214.06,320.21 212.43,318.58 209.64,321.37 206.85,318.58 205.22,320.21 208.01,323.00 205.22,325.79 206.85,327.42" fill="#d98a64" stroke="#3f2212" stroke-width="1.00" stroke-linejoin="round"/>
<polygon points="219.72,324.63 222.51,327.42 224.14,325.79 221.35,323.00 224.14,320.21 222.51,318.58 219.72,321.37 216.93,318.58 215.30,320.21 218.09,323.00 215.30,325.79 216.93,327.42" fill="#d98a64" stroke="#3f2212" stroke-width="1.00" stroke-linejoin="round"/>
<polygon points="229.80,328.19 232.59,330.98 234.22,329.35 231.43,326.56 234.22,323.77 232.59,322.14 229.80,324.93 227.01,322.14 225.38,323.77 228.17,326.56 225.38,329.35 227.01,330.98" fill="#d98a64" stroke="#3f2212" stroke-width="1.00" stroke-linejoin="round"/>
<polygon points="239.88,328.19 242.67,330.98 244.30,329.35 241.51,326.56 244.30,323.77 242.67,322.14 239.88,324.93 237.09,322.14 235.46,323.77 238.25,326.56 235.46,329.35 237.09,330.98" fill="#d98a64" stroke="#3f2212" stroke-width="1.00" stroke-linejoin="round"/>
<polygon points="249.96,328.19 252.75,330.98 254.38,329.35 251.59,326.56 254.38,323.77 252.75,322.14 249.96,324.93 247.17,322.14 245.54,323.77 248.33,326.56 245.54,329.35 247.17,330.98" fill="#d98a64" stroke="#3f2212" stroke-width="1.00" stroke-linejoin="round"/>
<polygon points="260.04,329.61 262.83,332.40 264.46,330.78 261.67,327.98 264.46,325.19 262.83,323.56 260.04,326.36 257.25,323.56 255.62,325.19 258.41,327.98 255.62,330.78 257.25,332.40" fill="#d98a64" stroke="#3f2212" stroke-width="1.00" stroke-linejoin="round"/>
<polygon points="270.12,331.75 272.91,334.54 274.54,332.91 271.75,330.12 274.54,327.33 272.91,325.70 270.12,328.49 267.33,325.70 265.70,327.33 268.49,330.12 265.70,332.91 267.33,334.54" fill="#d98a64" stroke="#3f2212" stroke-width="1.00" stroke-linejoin="round"/>
<polygon points="280.20,333.88 282.99,336.68 284.62,335.05 281.83,332.26 284.62,329.46 282.99,327.84 280.20,330.63 277.41,327.84 275.78,329.46 278.57,332.26 275.78,335.05 277.41,336.68" fill="#d98a64" stroke="#3f2212" stroke-width="1.00" stroke-linejoin="round"/>
<polygon points="290.28,333.88 293.07,336.68 294.70,335.05 291.91,332.26 294.70,329.46 293.07,327.84 290.28,330.63 287.49,327.84 285.86,329.46 288.65,332.26 285.86,335.05 287.49,336.68" fill="#d98a64" stroke="#3f2212" stroke-width="1.00" stroke-linejoin="round"/>
<polygon points="300.36,335.31 303.15,338.10 304.78,336.47 301.99,333.68 304.78,330.89 303.15,329.26 300.36,332.05 297.57,329.26 295.94,330.89 298.73,333.68 295.94,336.47 297.57,338.10" fill="#d98a64" stroke="#3f2212" stroke-width="1.00" stroke-linejoin="round"/>
<polygon points="310.44,335.31 313.23,338.10 314.86,336.47 312.07,333.68 314.86,330.89 313.23,329.26 310.44,332.05 307.65,329.26 306.02,330.89 308.81,333.68 306.02,336.47 307.65,338.10" fill="#d98a64" stroke="#3f2212" stroke-width="1.00" stroke-linejoin="round"/>
<polygon points="320.52,335.31 323.31,338.10 324.94,336.47 322.15,333.68 324.94,330.89 323.31,329.26 320.52,332.05 317.73,329.26 316.10,330.89 318.89,333.68 316.10,336.47 317.73,338.10" fill="#d98a64" stroke="#3f2212" stroke-width="1.00" stroke-linejoin="round"/>
<polygon points="68.52,284.04 71.31,286.84 72.94,285.21 70.15,282.42 72.94,279.62 71.31,278.00 68.52,280.79 65.73,278.00 64.10,279.62 66.89,282.42 64.10,285.21 65.73,286.84" fill="#d98a64" stroke="#3f2212" stroke-width="1.00" stroke-linejoin="round"/>
<polygon points="199.56,274.79 202.35,277.58 203.98,275.95 201.19,273.16 203.98,270.37 202.35,268.74 199.56,271.53 196.77,268.74 195.14,270.37 197.93,273.16 195.14,275.95 196.77,277.58" fill="#d98a64" stroke="#3f2212" stroke-width="1.00" stroke-linejoin="round"/>
<polygon points="330.60,280.48 333.39,283.28 335.02,281.65 332.23,278.86 335.02,276.06 333.39,274.44 330.60,277.23 327.81,274.44 326.18,276.06 328.97,278.86 326.18,281.65 327.81,283.28" fill="#d98a64" stroke="#3f2212" stroke-width="1.00" stroke-linejoin="round"/>
<polygon points="78.60,299.84 79.92,303.02 83.36,303.30 80.74,305.54 81.54,308.89 78.60,307.09 75.66,308.89 76.46,305.54 73.84,303.30 77.28,303.02" fill="#e8262b" stroke="#1a0000" stroke-width="1.00" stroke-linejoin="miter"/>
<polygon points="88.68,292.72 90.00,295.90 93.44,296.18 90.82,298.42 91.62,301.77 88.68,299.97 85.74,301.77 86.54,298.42 83.92,296.18 87.36,295.90" fill="#e8262b" stroke="#1a0000" stroke-width="1.00" stroke-linejoin="miter"/>
<polygon points="98.76,292.72 100.08,295.90 103.52,296.18 100.90,298.42 101.70,301.77 98.76,299.97 95.82,301.77 96.62,298.42 94.00,296.18 97.44,295.90" fill="#e8262b" stroke="#1a0000" stroke-width="1.00" stroke-linejoin="miter"/>
<polygon points="108.84,292.72 110.16,295.90 113.60,296.18 110.98,298.42 111.78,301.77 108.84,299.97 105.90,301.77 106.70,298.42 104.08,296.18 107.52,295.90" fill="#e8262b" stroke="#1a0000" stroke-width="1.00" stroke-linejoin="miter"/>
<polygon points="118.92,292.72 120.24,295.90 123.68,296.18 121.06,298.42 121.86,301.77 118.92,299.97 115.98,301.77 116.78,298.42 114.16,296.18 117.60,295.90" fill="#e8262b" stroke="#1a0000" stroke-width="1.00" stroke-linejoin="miter"/>
<polygon points="129.00,292.72 130.32,295.90 133.76,296.18 131.14,298.42 131.94,301.77 129.00,299.97 126.06,301.77 126.86,298.42 124.24,296.18 127.68,295.90" fill="#e8262b" stroke="#1a0000" stroke-width="1.00" stroke-linejoin="miter"/>
<polygon points="139.08,299.49 140.40,302.67 143.84,302.94 141.22,305.18 142.02,308.53 139.08,306.74 136.14,308.53 136.94,305.18 134.32,302.94 137.76,302.67" fill="#e8262b" stroke="#1a0000" stroke-width="1.00" stroke-linejoin="miter"/>
<polygon points="149.16,299.49 150.48,302.67 153.92,302.94 151.30,305.18 152.10,308.53 149.16,306.74 146.22,308.53 147.02,305.18 144.40,302.94 147.84,302.67" fill="#e8262b" stroke="#1a0000" stroke-width="1.00" stroke-linejoin="miter"/>
<polygon points="159.24,300.20 160.56,303.38 164.00,303.65 161.38,305.90 162.18,309.25 159.24,307.45 156.30,309.25 157.10,305.90 154.48,303.65 157.92,303.38" fill="#e8262b" stroke="#1a0000" stroke-width="1.00" stroke-linejoin="miter"/>
<polygon points="169.32,295.93 170.64,299.11 174.08,299.38 171.46,301.62 172.26,304.97 169.32,303.18 166.38,304.97 167.18,301.62 164.56,299.38 168.00,299.11" fill="#e8262b" stroke="#1a0000" stroke-width="1.00" stroke-linejoin="miter"/>
<polygon points="179.40,300.91 180.72,304.09 184.16,304.37 181.54,306.61 182.34,309.96 179.40,308.16 176.46,309.96 177.26,306.61 174.64,304.37 178.08,304.09" fill="#e8262b" stroke="#1a0000" stroke-width="1.00" stroke-linejoin="miter"/>
<polygon points="189.48,299.49 190.80,302.67 194.24,302.94 191.62,305.18 192.42,308.53 189.48,306.74 186.54,308.53 187.34,305.18 184.72,302.94 188.16,302.67" fill="#e8262b" stroke="#1a0000" stroke-width="1.00" stroke-linejoin="miter"/>
<polygon points="78.60,299.35 79.92,302.53 83.36,302.80 80.74,305.04 81.54,308.39 78.60,306.60 75.66,308.39 76.46,305.04 73.84,302.80 77.28,302.53" fill="#e8262b" stroke="#1a0000" stroke-width="1.00" stroke-linejoin="miter"/>
<polygon points="88.68,299.92 90.00,303.09 93.44,303.37 90.82,305.61 91.62,308.96 88.68,307.17 85.74,308.96 86.54,305.61 83.92,303.37 87.36,303.09" fill="#e8262b" stroke="#1a0000" stroke-width="1.00" stroke-linejoin="miter"/>
<polygon points="98.76,300.41 100.08,303.59 103.52,303.87 100.90,306.11 101.70,309.46 98.76,307.66 95.82,309.46 96.62,306.11 94.00,303.87 97.44,303.59" fill="#e8262b" stroke="#1a0000" stroke-width="1.00" stroke-linejoin="miter"/>
<polygon points="108.84,300.41 110.16,303.59 113.60,303.87 110.98,306.11 111.78,309.46 108.84,307.66 105.90,309.46 106.70,306.11 104.08,303.87 107.52,303.59" fill="#e8262b" stroke="#1a0000" stroke-width="1.00" stroke-linejoin="miter"/>
<polygon points="118.92,300.41 120.24,303.59 123.68,303.87 121.06,306.11 121.86,309.46 118.92,307.66 115.98,309.46 116.78,306.11 114.16,303.87 117.60,303.59" fill="#e8262b" stroke="#1a0000" stroke-width="1.00" stroke-linejoin="miter"/>
<polygon points="129.00,300.41 130.32,303.59 133.76,303.87 131.14,306.11 131.94,309.46 129.00,307.66 126.06,309.46 126.86,306.11 124.24,303.87 127.68,303.59" fill="#e8262b" stroke="#1a0000" stroke-width="1.00" stroke-linejoin="miter"/>
<polygon points="139.08,303.76 140.40,306.94 143.84,307.21 141.22,309.46 142.02,312.81 139.08,311.01 136.14,312.81 136.94,309.46 134.32,307.21 137.76,306.94" fill="#e8262b" stroke="#1a0000" stroke-width="1.00" stroke-linejoin="miter"/>
<polygon points="149.16,303.76 150.48,306.94 153.92,307.21 151.30,309.46 152.10,312.81 149.16,311.01 146.22,312.81 147.02,309.46 144.40,307.21 147.84,306.94" fill="#e8262b" stroke="#1a0000" stroke-width="1.00" stroke-linejoin="miter"/>
<polygon points="159.24,303.76 160.56,306.94 164.00,307.21 161.38,309.46 162.18,312.81 159.24,311.01 156.30,312.81 157.10,309.46 154.48,307.21 157.92,306.94" fill="#e8262b" stroke="#1a0000" stroke-width="1.00" stroke-linejoin="miter"/>
<polygon points="169.32,307.32 170.64,310.50 174.08,310.77 171.46,313.02 172.26,316.37 169.32,314.57 166.38,316.37 167.18,313.02 164.56,310.77 168.00,310.50" fill="#e8262b" stroke="#1a0000" stroke-width="1.00" stroke-linejoin="miter"/>
<polygon points="179.40,307.32 180.72,310.50 184.16,310.77 181.54,313.02 182.34,316.37 179.40,314.57 176.46,316.37 177.26,313.02 174.64,310.77 178.08,310.50" fill="#e8262b" stroke="#1a0000" stroke-width="1.00" stroke-linejoin="miter"/>
<polygon points="189.48,310.88 190.80,314.06 194.24,314.33 191.62,316.58 192.42,319.93 189.48,318.13 186.54,319.93 187.34,316.58 184.72,314.33 188.16,314.06" fill="#e8262b" stroke="#1a0000" stroke-width="1.00" stroke-linejoin="miter"/>
<polygon points="78.60,301.62 79.92,304.80 83.36,305.08 80.74,307.32 81.54,310.67 78.60,308.87 75.66,310.67 76.46,307.32 73.84,305.08 77.28,304.80" fill="#e8262b" stroke="#1a0000" stroke-width="1.00" stroke-linejoin="miter"/>
<polygon points="88.68,301.62 90.00,304.80 93.44,305.08 90.82,307.32 91.62,310.67 88.68,308.87 85.74,310.67 86.54,307.32 83.92,305.08 87.36,304.80" fill="#e8262b" stroke="#1a0000" stroke-width="1.00" stroke-linejoin="miter"/>
<polygon points="98.76,302.34 100.08,305.52 103.52,305.79 100.90,308.03 101.70,311.38 98.76,309.59 95.82,311.38 96.62,308.03 94.00,305.79 97.44,305.52" fill="#e8262b" stroke="#1a0000" stroke-width="1.00" stroke-linejoin="miter"/>
<polygon points="108.84,303.05 110.16,306.23 113.60,306.50 110.98,308.74 111.78,312.09 108.84,310.30 105.90,312.09 106.70,308.74 104.08,306.50 107.52,306.23" fill="#e8262b" stroke="#1a0000" stroke-width="1.00" stroke-linejoin="miter"/>
<polygon points="118.92,303.76 120.24,306.94 123.68,307.21 121.06,309.46 121.86,312.81 118.92,311.01 115.98,312.81 116.78,309.46 114.16,307.21 117.60,306.94" fill="#e8262b" stroke="#1a0000" stroke-width="1.00" stroke-linejoin="miter"/>
<polygon points="129.00,304.47 130.32,307.65 133.76,307.93 131.14,310.17 131.94,313.52 129.00,311.72 126.06,313.52 126.86,310.17 124.24,307.93 127.68,307.65" fill="#e8262b" stroke="#1a0000" stroke-width="1.00" stroke-linejoin="miter"/>
<polygon points="139.08,305.18 140.40,308.36 143.84,308.64 141.22,310.88 142.02,314.23 139.08,312.43 136.14,314.23 136.94,310.88 134.32,308.64 137.76,308.36" fill="#e8262b" stroke="#1a0000" stroke-width="1.00" stroke-linejoin="miter"/>
<polygon points="149.16,305.90 150.48,309.08 153.92,309.35 151.30,311.59 152.10,314.94 149.16,313.15 146.22,314.94 147.02,311.59 144.40,309.35 147.84,309.08" fill="#e8262b" stroke="#1a0000" stroke-width="1.00" stroke-linejoin="miter"/>
<polygon points="159.24,307.32 160.56,310.50 164.00,310.77 161.38,313.02 162.18,316.37 159.24,314.57 156.30,316.37 157.10,313.02 154.48,310.77 157.92,310.50" fill="#e8262b" stroke="#1a0000" stroke-width="1.00" stroke-linejoin="miter"/>
<polygon points="169.32,310.88 170.64,314.06 174.08,314.33 171.46,316.58 172.26,319.93 169.32,318.13 166.38,319.93 167.18,316.58 164.56,314.33 168.00,314.06" fill="#e8262b" stroke="#1a0000" stroke-width="1.00" stroke-linejoin="miter"/>
<polygon points="179.40,312.30 180.72,315.48 184.16,315.76 181.54,318.00 182.34,321.35 179.40,319.55 176.46,321.35 177.26,318.00 174.64,315.76 178.08,315.48" fill="#e8262b" stroke="#1a0000" stroke-width="1.00" stroke-linejoin="miter"/>
<polygon points="189.48,312.30 190.80,315.48 194.24,315.76 191.62,318.00 192.42,321.35 189.48,319.55 186.54,321.35 187.34,318.00 184.72,315.76 188.16,315.48" fill="#e8262b" stroke="#1a0000" stroke-width="1.00" stroke-linejoin="miter"/>
<polygon points="209.64,306.54 210.96,309.72 214.40,309.99 211.78,312.23 212.58,315.58 209.64,313.79 206.70,315.58 207.50,312.23 204.88,309.99 208.32,309.72" fill="#e8262b" stroke="#1a0000" stroke-width="1.00" stroke-linejoin="miter"/>
<polygon points="219.72,298.92 221.04,302.10 224.48,302.37 221.86,304.61 222.66,307.96 219.72,306.17 216.78,307.96 217.58,304.61 214.96,302.37 218.40,302.10" fill="#e8262b" stroke="#1a0000" stroke-width="1.00" stroke-linejoin="miter"/>
<polygon points="229.80,306.54 231.12,309.72 234.56,309.99 231.94,312.23 232.74,315.58 229.80,313.79 226.86,315.58 227.66,312.23 225.04,309.99 228.48,309.72" fill="#e8262b" stroke="#1a0000" stroke-width="1.00" stroke-linejoin="miter"/>
<polygon points="239.88,306.54 241.20,309.72 244.64,309.99 242.02,312.23 242.82,315.58 239.88,313.79 236.94,315.58 237.74,312.23 235.12,309.99 238.56,309.72" fill="#e8262b" stroke="#1a0000" stroke-width="1.00" stroke-linejoin="miter"/>
<polygon points="249.96,306.54 251.28,309.72 254.72,309.99 252.10,312.23 252.90,315.58 249.96,313.79 247.02,315.58 247.82,312.23 245.20,309.99 248.64,309.72" fill="#e8262b" stroke="#1a0000" stroke-width="1.00" stroke-linejoin="miter"/>
<polygon points="260.04,306.18 261.36,309.36 264.80,309.64 262.18,311.88 262.98,315.23 260.04,313.43 257.10,315.23 257.90,311.88 255.28,309.64 258.72,309.36" fill="#e8262b" stroke="#1a0000" stroke-width="1.00" stroke-linejoin="miter"/>
<polygon points="270.12,308.10 271.44,311.28 274.88,311.56 272.26,313.80 273.06,317.15 270.12,315.35 267.18,317.15 267.98,313.80 265.36,311.56 268.80,311.28" fill="#e8262b" stroke="#1a0000" stroke-width="1.00" stroke-linejoin="miter"/>
<polygon points="280.20,310.60 281.52,313.77 284.96,314.05 282.34,316.29 283.14,319.64 280.20,317.85 277.26,319.64 278.06,316.29 275.44,314.05 278.88,313.77" fill="#e8262b" stroke="#1a0000" stroke-width="1.00" stroke-linejoin="miter"/>
<polygon points="290.28,311.24 291.60,314.42 295.04,314.69 292.42,316.93 293.22,320.28 290.28,318.49 287.34,320.28 288.14,316.93 285.52,314.69 288.96,314.42" fill="#e8262b" stroke="#1a0000" stroke-width="1.00" stroke-linejoin="miter"/>
<polygon points="300.36,310.03 301.68,313.21 305.12,313.48 302.50,315.72 303.30,319.07 300.36,317.28 297.42,319.07 298.22,315.72 295.60,313.48 299.04,313.21" fill="#e8262b" stroke="#1a0000" stroke-width="1.00" stroke-linejoin="miter"/>
<polygon points="310.44,318.14 311.76,321.32 315.20,321.60 312.58,323.84 313.38,327.19 310.44,325.39 307.50,327.19 308.30,323.84 305.68,321.60 309.12,321.32" fill="#e8262b" stroke="#1a0000" stroke-width="1.00" stroke-linejoin="miter"/>
<polygon points="320.52,310.60 321.84,313.77 325.28,314.05 322.66,316.29 323.46,319.64 320.52,317.85 317.58,319.64 318.38,316.29 315.76,314.05 319.20,313.77" fill="#e8262b" stroke="#1a0000" stroke-width="1.00" stroke-linejoin="miter"/>
<polygon points="209.64,313.59 210.96,316.77 214.40,317.04 211.78,319.28 212.58,322.63 209.64,320.84 206.70,322.63 207.50,319.28 204.88,317.04 208.32,316.77" fill="#e8262b" stroke="#1a0000" stroke-width="1.00" stroke-linejoin="miter"/>
<polygon points="219.72,307.04 221.04,310.21 224.48,310.49 221.86,312.73 222.66,316.08 219.72,314.29 216.78,316.08 217.58,312.73 214.96,310.49 218.40,310.21" fill="#e8262b" stroke="#1a0000" stroke-width="1.00" stroke-linejoin="miter"/>
<polygon points="229.80,313.59 231.12,316.77 234.56,317.04 231.94,319.28 232.74,322.63 229.80,320.84 226.86,322.63 227.66,319.28 225.04,317.04 228.48,316.77" fill="#e8262b" stroke="#1a0000" stroke-width="1.00" stroke-linejoin="miter"/>
<polygon points="239.88,313.59 241.20,316.77 244.64,317.04 242.02,319.28 242.82,322.63 239.88,320.84 236.94,322.63 237.74,319.28 235.12,317.04 238.56,316.77" fill="#e8262b" stroke="#1a0000" stroke-width="1.00" stroke-linejoin="miter"/>
<polygon points="249.96,313.59 251.28,316.77 254.72,317.04 252.10,319.28 252.90,322.63 249.96,320.84 247.02,322.63 247.82,319.28 245.20,317.04 248.64,316.77" fill="#e8262b" stroke="#1a0000" stroke-width="1.00" stroke-linejoin="miter"/>
<polygon points="260.04,314.44 261.36,317.62 264.80,317.89 262.18,320.14 262.98,323.49 260.04,321.69 257.10,323.49 257.90,320.14 255.28,317.89 258.72,317.62" fill="#e8262b" stroke="#1a0000" stroke-width="1.00" stroke-linejoin="miter"/>
<polygon points="270.12,314.44 271.44,317.62 274.88,317.89 272.26,320.14 273.06,323.49 270.12,321.69 267.18,323.49 267.98,320.14 265.36,317.89 268.80,317.62" fill="#e8262b" stroke="#1a0000" stroke-width="1.00" stroke-linejoin="miter"/>
<polygon points="280.20,314.44 281.52,317.62 284.96,317.89 282.34,320.14 283.14,323.49 280.20,321.69 277.26,323.49 278.06,320.14 275.44,317.89 278.88,317.62" fill="#e8262b" stroke="#1a0000" stroke-width="1.00" stroke-linejoin="miter"/>
<polygon points="290.28,315.86 291.60,319.04 295.04,319.32 292.42,321.56 293.22,324.91 290.28,323.11 287.34,324.91 288.14,321.56 285.52,319.32 288.96,319.04" fill="#e8262b" stroke="#1a0000" stroke-width="1.00" stroke-linejoin="miter"/>
<polygon points="300.36,315.86 301.68,319.04 305.12,319.32 302.50,321.56 303.30,324.91 300.36,323.11 297.42,324.91 298.22,321.56 295.60,319.32 299.04,319.04" fill="#e8262b" stroke="#1a0000" stroke-width="1.00" stroke-linejoin="miter"/>
<polygon points="310.44,318.00 311.76,321.18 315.20,321.45 312.58,323.70 313.38,327.05 310.44,325.25 307.50,327.05 308.30,323.70 305.68,321.45 309.12,321.18" fill="#e8262b" stroke="#1a0000" stroke-width="1.00" stroke-linejoin="miter"/>
<polygon points="320.52,315.65 321.84,318.83 325.28,319.11 322.66,321.35 323.46,324.70 320.52,322.90 317.58,324.70 318.38,321.35 315.76,319.11 319.20,318.83" fill="#e8262b" stroke="#1a0000" stroke-width="1.00" stroke-linejoin="miter"/>
<polygon points="209.64,313.59 210.96,316.77 214.40,317.04 211.78,319.28 212.58,322.63 209.64,320.84 206.70,322.63 207.50,319.28 204.88,317.04 208.32,316.77" fill="#e8262b" stroke="#1a0000" stroke-width="1.00" stroke-linejoin="miter"/>
<polygon points="219.72,313.59 221.04,316.77 224.48,317.04 221.86,319.28 222.66,322.63 219.72,320.84 216.78,322.63 217.58,319.28 214.96,317.04 218.40,316.77" fill="#e8262b" stroke="#1a0000" stroke-width="1.00" stroke-linejoin="miter"/>
<polygon points="229.80,320.06 231.12,323.24 234.56,323.52 231.94,325.76 232.74,329.11 229.80,327.31 226.86,329.11 227.66,325.76 225.04,323.52 228.48,323.24" fill="#e8262b" stroke="#1a0000" stroke-width="1.00" stroke-linejoin="miter"/>
<polygon points="239.88,320.06 241.20,323.24 244.64,323.52 242.02,325.76 242.82,329.11 239.88,327.31 236.94,329.11 237.74,325.76 235.12,323.52 238.56,323.24" fill="#e8262b" stroke="#1a0000" stroke-width="1.00" stroke-linejoin="miter"/>
<polygon points="249.96,320.06 251.28,323.24 254.72,323.52 252.10,325.76 252.90,329.11 249.96,327.31 247.02,329.11 247.82,325.76 245.20,323.52 248.64,323.24" fill="#e8262b" stroke="#1a0000" stroke-width="1.00" stroke-linejoin="miter"/>
<polygon points="260.04,325.12 261.36,328.30 264.80,328.57 262.18,330.82 262.98,334.17 260.04,332.37 257.10,334.17 257.90,330.82 255.28,328.57 258.72,328.30" fill="#e8262b" stroke="#1a0000" stroke-width="1.00" stroke-linejoin="miter"/>
<polygon points="270.12,325.12 271.44,328.30 274.88,328.57 272.26,330.82 273.06,334.17 270.12,332.37 267.18,334.17 267.98,330.82 265.36,328.57 268.80,328.30" fill="#e8262b" stroke="#1a0000" stroke-width="1.00" stroke-linejoin="miter"/>
<polygon points="280.20,325.69 281.52,328.87 284.96,329.14 282.34,331.38 283.14,334.73 280.20,332.94 277.26,334.73 278.06,331.38 275.44,329.14 278.88,328.87" fill="#e8262b" stroke="#1a0000" stroke-width="1.00" stroke-linejoin="miter"/>
<polygon points="290.28,325.69 291.60,328.87 295.04,329.14 292.42,331.38 293.22,334.73 290.28,332.94 287.34,334.73 288.14,331.38 285.52,329.14 288.96,328.87" fill="#e8262b" stroke="#1a0000" stroke-width="1.00" stroke-linejoin="miter"/>
<polygon points="300.36,330.67 301.68,333.85 305.12,334.13 302.50,336.37 303.30,339.72 300.36,337.92 297.42,339.72 298.22,336.37 295.60,334.13 299.04,333.85" fill="#e8262b" stroke="#1a0000" stroke-width="1.00" stroke-linejoin="miter"/>
<polygon points="310.44,331.39 311.76,334.57 315.20,334.84 312.58,337.08 313.38,340.43 310.44,338.64 307.50,340.43 308.30,337.08 305.68,334.84 309.12,334.57" fill="#e8262b" stroke="#1a0000" stroke-width="1.00" stroke-linejoin="miter"/>
<polygon points="320.52,331.39 321.84,334.57 325.28,334.84 322.66,337.08 323.46,340.43 320.52,338.64 317.58,340.43 318.38,337.08 315.76,334.84 319.20,334.57" fill="#e8262b" stroke="#1a0000" stroke-width="1.00" stroke-linejoin="miter"/>
<polygon points="68.52,268.87 69.84,272.05 73.28,272.33 70.66,274.57 71.46,277.92 68.52,276.12 65.58,277.92 66.38,274.57 63.76,272.33 67.20,272.05" fill="#e8262b" stroke="#1a0000" stroke-width="1.00" stroke-linejoin="miter"/>
<polygon points="68.52,273.14 69.84,276.32 73.28,276.60 70.66,278.84 71.46,282.19 68.52,280.39 65.58,282.19 66.38,278.84 63.76,276.60 67.20,276.32" fill="#e8262b" stroke="#1a0000" stroke-width="1.00" stroke-linejoin="miter"/>
<polygon points="330.60,268.16 331.92,271.34 335.36,271.61 332.74,273.86 333.54,277.21 330.60,275.41 327.66,277.21 328.46,273.86 325.84,271.61 329.28,271.34" fill="#e8262b" stroke="#1a0000" stroke-width="1.00" stroke-linejoin="miter"/>
<polygon points="330.60,280.26 331.92,283.44 335.36,283.72 332.74,285.96 333.54,289.31 330.60,287.51 327.66,289.31 328.46,285.96 325.84,283.72 329.28,283.44" fill="#e8262b" stroke="#1a0000" stroke-width="1.00" stroke-linejoin="miter"/>
<polygon points="382.91,310.71 380.15,313.47 376.25,313.47 373.49,310.71 373.49,306.81 376.25,304.05 380.15,304.05 382.91,306.81" fill="rgba(0,0,0,0.26)" stroke="#000" stroke-width="1.30" stroke-linejoin="round"/>
<polygon points="392.99,314.27 390.23,317.03 386.33,317.03 383.57,314.27 383.57,310.37 386.33,307.61 390.23,307.61 392.99,310.37" fill="rgba(0,0,0,0.26)" stroke="#000" stroke-width="1.30" stroke-linejoin="round"/>
<polygon points="403.07,321.39 400.31,324.15 396.41,324.15 393.65,321.39 393.65,317.49 396.41,314.73 400.31,314.73 403.07,317.49" fill="rgba(0,0,0,0.26)" stroke="#000" stroke-width="1.30" stroke-linejoin="round"/>
<polygon points="413.15,325.66 410.39,328.42 406.49,328.42 403.73,325.66 403.73,321.76 406.49,319.00 410.39,319.00 413.15,321.76" fill="rgba(0,0,0,0.26)" stroke="#000" stroke-width="1.30" stroke-linejoin="round"/>
<polygon points="423.23,328.51 420.47,331.27 416.57,331.27 413.81,328.51 413.81,324.61 416.57,321.85 420.47,321.85 423.23,324.61" fill="rgba(0,0,0,0.26)" stroke="#000" stroke-width="1.30" stroke-linejoin="round"/>
<polygon points="433.31,328.51 430.55,331.27 426.65,331.27 423.89,328.51 423.89,324.61 426.65,321.85 430.55,321.85 433.31,324.61" fill="rgba(0,0,0,0.26)" stroke="#000" stroke-width="1.30" stroke-linejoin="round"/>
<polygon points="443.39,341.83 440.63,344.59 436.73,344.59 433.97,341.83 433.97,337.92 436.73,335.16 440.63,335.16 443.39,337.92" fill="rgba(0,0,0,0.26)" stroke="#000" stroke-width="1.30" stroke-linejoin="round"/>
<polygon points="453.47,339.19 450.71,341.95 446.81,341.95 444.05,339.19 444.05,335.29 446.81,332.53 450.71,332.53 453.47,335.29" fill="rgba(0,0,0,0.26)" stroke="#000" stroke-width="1.30" stroke-linejoin="round"/>
<polygon points="463.55,339.97 460.79,342.73 456.89,342.73 454.13,339.97 454.13,336.07 456.89,333.31 460.79,333.31 463.55,336.07" fill="rgba(0,0,0,0.26)" stroke="#000" stroke-width="1.30" stroke-linejoin="round"/>
<polygon points="473.63,351.44 470.87,354.20 466.97,354.20 464.21,351.44 464.21,347.53 466.97,344.77 470.87,344.77 473.63,347.53" fill="rgba(0,0,0,0.26)" stroke="#000" stroke-width="1.30" stroke-linejoin="round"/>
<polygon points="483.71,353.86 480.95,356.62 477.05,356.62 474.29,353.86 474.29,349.96 477.05,347.20 480.95,347.20 483.71,349.96" fill="rgba(0,0,0,0.26)" stroke="#000" stroke-width="1.30" stroke-linejoin="round"/>
<polygon points="493.79,356.85 491.03,359.61 487.13,359.61 484.37,356.85 484.37,352.95 487.13,350.19 491.03,350.19 493.79,352.95" fill="rgba(0,0,0,0.26)" stroke="#000" stroke-width="1.30" stroke-linejoin="round"/>
<polygon points="382.91,314.27 380.15,317.03 376.25,317.03 373.49,314.27 373.49,310.37 376.25,307.61 380.15,307.61 382.91,310.37" fill="rgba(0,0,0,0.26)" stroke="#000" stroke-width="1.30" stroke-linejoin="round"/>
<polygon points="392.99,317.83 390.23,320.59 386.33,320.59 383.57,317.83 383.57,313.93 386.33,311.17 390.23,311.17 392.99,313.93" fill="rgba(0,0,0,0.26)" stroke="#000" stroke-width="1.30" stroke-linejoin="round"/>
<polygon points="403.07,324.95 400.31,327.71 396.41,327.71 393.65,324.95 393.65,321.05 396.41,318.29 400.31,318.29 403.07,321.05" fill="rgba(0,0,0,0.26)" stroke="#000" stroke-width="1.30" stroke-linejoin="round"/>
<polygon points="413.15,332.07 410.39,334.83 406.49,334.83 403.73,332.07 403.73,328.17 406.49,325.41 410.39,325.41 413.15,328.17" fill="rgba(0,0,0,0.26)" stroke="#000" stroke-width="1.30" stroke-linejoin="round"/>
<polygon points="423.23,337.06 420.47,339.82 416.57,339.82 413.81,337.06 413.81,333.15 416.57,330.39 420.47,330.39 423.23,333.15" fill="rgba(0,0,0,0.26)" stroke="#000" stroke-width="1.30" stroke-linejoin="round"/>
<polygon points="433.31,339.19 430.55,341.95 426.65,341.95 423.89,339.19 423.89,335.29 426.65,332.53 430.55,332.53 433.31,335.29" fill="rgba(0,0,0,0.26)" stroke="#000" stroke-width="1.30" stroke-linejoin="round"/>
<polygon points="443.39,341.33 440.63,344.09 436.73,344.09 433.97,341.33 433.97,337.42 436.73,334.66 440.63,334.66 443.39,337.42" fill="rgba(0,0,0,0.26)" stroke="#000" stroke-width="1.30" stroke-linejoin="round"/>
<polygon points="453.47,342.75 450.71,345.51 446.81,345.51 444.05,342.75 444.05,338.85 446.81,336.09 450.71,336.09 453.47,338.85" fill="rgba(0,0,0,0.26)" stroke="#000" stroke-width="1.30" stroke-linejoin="round"/>
<polygon points="463.55,346.31 460.79,349.07 456.89,349.07 454.13,346.31 454.13,342.41 456.89,339.65 460.79,339.65 463.55,342.41" fill="rgba(0,0,0,0.26)" stroke="#000" stroke-width="1.30" stroke-linejoin="round"/>
<polygon points="473.63,353.43 470.87,356.19 466.97,356.19 464.21,353.43 464.21,349.53 466.97,346.77 470.87,346.77 473.63,349.53" fill="rgba(0,0,0,0.26)" stroke="#000" stroke-width="1.30" stroke-linejoin="round"/>
<polygon points="483.71,358.77 480.95,361.53 477.05,361.53 474.29,358.77 474.29,354.87 477.05,352.11 480.95,352.11 483.71,354.87" fill="rgba(0,0,0,0.26)" stroke="#000" stroke-width="1.30" stroke-linejoin="round"/>
<polygon points="493.79,358.42 491.03,361.18 487.13,361.18 484.37,358.42 484.37,354.51 487.13,351.75 491.03,351.75 493.79,354.51" fill="rgba(0,0,0,0.26)" stroke="#000" stroke-width="1.30" stroke-linejoin="round"/>
<polygon points="513.95,369.24 511.19,372.00 507.29,372.00 504.53,369.24 504.53,365.33 507.29,362.57 511.19,362.57 513.95,365.33" fill="rgba(0,0,0,0.26)" stroke="#000" stroke-width="1.30" stroke-linejoin="round"/>
<polygon points="524.03,369.24 521.27,372.00 517.37,372.00 514.61,369.24 514.61,365.33 517.37,362.57 521.27,362.57 524.03,365.33" fill="rgba(0,0,0,0.26)" stroke="#000" stroke-width="1.30" stroke-linejoin="round"/>
<polygon points="534.11,375.72 531.35,378.48 527.45,378.48 524.69,375.72 524.69,371.81 527.45,369.05 531.35,369.05 534.11,371.81" fill="rgba(0,0,0,0.26)" stroke="#000" stroke-width="1.30" stroke-linejoin="round"/>
<polygon points="544.19,367.67 541.43,370.43 537.53,370.43 534.77,367.67 534.77,363.77 537.53,361.01 541.43,361.01 544.19,363.77" fill="rgba(0,0,0,0.26)" stroke="#000" stroke-width="1.30" stroke-linejoin="round"/>
<polygon points="554.27,375.72 551.51,378.48 547.61,378.48 544.85,375.72 544.85,371.81 547.61,369.05 551.51,369.05 554.27,371.81" fill="rgba(0,0,0,0.26)" stroke="#000" stroke-width="1.30" stroke-linejoin="round"/>
<polygon points="564.35,381.91 561.59,384.67 557.69,384.67 554.93,381.91 554.93,378.01 557.69,375.25 561.59,375.25 564.35,378.01" fill="rgba(0,0,0,0.26)" stroke="#000" stroke-width="1.30" stroke-linejoin="round"/>
<polygon points="574.43,385.61 571.67,388.37 567.77,388.37 565.01,385.61 565.01,381.71 567.77,378.95 571.67,378.95 574.43,381.71" fill="rgba(0,0,0,0.26)" stroke="#000" stroke-width="1.30" stroke-linejoin="round"/>
<polygon points="584.51,383.69 581.75,386.45 577.85,386.45 575.09,383.69 575.09,379.79 577.85,377.03 581.75,377.03 584.51,379.79" fill="rgba(0,0,0,0.26)" stroke="#000" stroke-width="1.30" stroke-linejoin="round"/>
<polygon points="594.59,390.17 591.83,392.93 587.93,392.93 585.17,390.17 585.17,386.27 587.93,383.51 591.83,383.51 594.59,386.27" fill="rgba(0,0,0,0.26)" stroke="#000" stroke-width="1.30" stroke-linejoin="round"/>
<polygon points="604.67,392.59 601.91,395.35 598.01,395.35 595.25,392.59 595.25,388.69 598.01,385.93 601.91,385.93 604.67,388.69" fill="rgba(0,0,0,0.26)" stroke="#000" stroke-width="1.30" stroke-linejoin="round"/>
<polygon points="614.75,392.59 611.99,395.35 608.09,395.35 605.33,392.59 605.33,388.69 608.09,385.93 611.99,385.93 614.75,388.69" fill="rgba(0,0,0,0.26)" stroke="#000" stroke-width="1.30" stroke-linejoin="round"/>
<polygon points="624.83,399.00 622.07,401.76 618.17,401.76 615.41,399.00 615.41,395.10 618.17,392.34 622.07,392.34 624.83,395.10" fill="rgba(0,0,0,0.26)" stroke="#000" stroke-width="1.30" stroke-linejoin="round"/>
<polygon points="513.95,369.81 511.19,372.57 507.29,372.57 504.53,369.81 504.53,365.90 507.29,363.14 511.19,363.14 513.95,365.90" fill="rgba(0,0,0,0.26)" stroke="#000" stroke-width="1.30" stroke-linejoin="round"/>
<polygon points="524.03,369.81 521.27,372.57 517.37,372.57 514.61,369.81 514.61,365.90 517.37,363.14 521.27,363.14 524.03,365.90" fill="rgba(0,0,0,0.26)" stroke="#000" stroke-width="1.30" stroke-linejoin="round"/>
<polygon points="534.11,376.22 531.35,378.98 527.45,378.98 524.69,376.22 524.69,372.31 527.45,369.55 531.35,369.55 534.11,372.31" fill="rgba(0,0,0,0.26)" stroke="#000" stroke-width="1.30" stroke-linejoin="round"/>
<polygon points="544.19,376.50 541.43,379.26 537.53,379.26 534.77,376.50 534.77,372.60 537.53,369.84 541.43,369.84 544.19,372.60" fill="rgba(0,0,0,0.26)" stroke="#000" stroke-width="1.30" stroke-linejoin="round"/>
<polygon points="554.27,376.50 551.51,379.26 547.61,379.26 544.85,376.50 544.85,372.60 547.61,369.84 551.51,369.84 554.27,372.60" fill="rgba(0,0,0,0.26)" stroke="#000" stroke-width="1.30" stroke-linejoin="round"/>
<polygon points="564.35,386.90 561.59,389.66 557.69,389.66 554.93,386.90 554.93,382.99 557.69,380.23 561.59,380.23 564.35,382.99" fill="rgba(0,0,0,0.26)" stroke="#000" stroke-width="1.30" stroke-linejoin="round"/>
<polygon points="574.43,386.90 571.67,389.66 567.77,389.66 565.01,386.90 565.01,382.99 567.77,380.23 571.67,380.23 574.43,382.99" fill="rgba(0,0,0,0.26)" stroke="#000" stroke-width="1.30" stroke-linejoin="round"/>
<polygon points="584.51,392.16 581.75,394.92 577.85,394.92 575.09,392.16 575.09,388.26 577.85,385.50 581.75,385.50 584.51,388.26" fill="rgba(0,0,0,0.26)" stroke="#000" stroke-width="1.30" stroke-linejoin="round"/>
<polygon points="594.59,390.17 591.83,392.93 587.93,392.93 585.17,390.17 585.17,386.27 587.93,383.51 591.83,383.51 594.59,386.27" fill="rgba(0,0,0,0.26)" stroke="#000" stroke-width="1.30" stroke-linejoin="round"/>
<polygon points="604.67,394.02 601.91,396.78 598.01,396.78 595.25,394.02 595.25,390.11 598.01,387.35 601.91,387.35 604.67,390.11" fill="rgba(0,0,0,0.26)" stroke="#000" stroke-width="1.30" stroke-linejoin="round"/>
<polygon points="614.75,396.15 611.99,398.91 608.09,398.91 605.33,396.15 605.33,392.25 608.09,389.49 611.99,389.49 614.75,392.25" fill="rgba(0,0,0,0.26)" stroke="#000" stroke-width="1.30" stroke-linejoin="round"/>
<polygon points="624.83,403.63 622.07,406.39 618.17,406.39 615.41,403.63 615.41,399.72 618.17,396.96 622.07,396.96 624.83,399.72" fill="rgba(0,0,0,0.26)" stroke="#000" stroke-width="1.30" stroke-linejoin="round"/>
<polygon points="513.95,371.23 511.19,373.99 507.29,373.99 504.53,371.23 504.53,367.33 507.29,364.57 511.19,364.57 513.95,367.33" fill="rgba(0,0,0,0.26)" stroke="#000" stroke-width="1.30" stroke-linejoin="round"/>
<polygon points="524.03,371.23 521.27,373.99 517.37,373.99 514.61,371.23 514.61,367.33 517.37,364.57 521.27,364.57 524.03,367.33" fill="rgba(0,0,0,0.26)" stroke="#000" stroke-width="1.30" stroke-linejoin="round"/>
<polygon points="534.11,378.35 531.35,381.11 527.45,381.11 524.69,378.35 524.69,374.45 527.45,371.69 531.35,371.69 534.11,374.45" fill="rgba(0,0,0,0.26)" stroke="#000" stroke-width="1.30" stroke-linejoin="round"/>
<polygon points="544.19,386.90 541.43,389.66 537.53,389.66 534.77,386.90 534.77,382.99 537.53,380.23 541.43,380.23 544.19,382.99" fill="rgba(0,0,0,0.26)" stroke="#000" stroke-width="1.30" stroke-linejoin="round"/>
<polygon points="554.27,387.96 551.51,390.72 547.61,390.72 544.85,387.96 544.85,384.06 547.61,381.30 551.51,381.30 554.27,384.06" fill="rgba(0,0,0,0.26)" stroke="#000" stroke-width="1.30" stroke-linejoin="round"/>
<polygon points="564.35,389.03 561.59,391.79 557.69,391.79 554.93,389.03 554.93,385.13 557.69,382.37 561.59,382.37 564.35,385.13" fill="rgba(0,0,0,0.26)" stroke="#000" stroke-width="1.30" stroke-linejoin="round"/>
<polygon points="574.43,389.03 571.67,391.79 567.77,391.79 565.01,389.03 565.01,385.13 567.77,382.37 571.67,382.37 574.43,385.13" fill="rgba(0,0,0,0.26)" stroke="#000" stroke-width="1.30" stroke-linejoin="round"/>
<polygon points="584.51,392.95 581.75,395.71 577.85,395.71 575.09,392.95 575.09,389.04 577.85,386.28 581.75,386.28 584.51,389.04" fill="rgba(0,0,0,0.26)" stroke="#000" stroke-width="1.30" stroke-linejoin="round"/>
<polygon points="594.59,399.93 591.83,402.69 587.93,402.69 585.17,399.93 585.17,396.02 587.93,393.26 591.83,393.26 594.59,396.02" fill="rgba(0,0,0,0.26)" stroke="#000" stroke-width="1.30" stroke-linejoin="round"/>
<polygon points="604.67,399.93 601.91,402.69 598.01,402.69 595.25,399.93 595.25,396.02 598.01,393.26 601.91,393.26 604.67,396.02" fill="rgba(0,0,0,0.26)" stroke="#000" stroke-width="1.30" stroke-linejoin="round"/>
<polygon points="614.75,399.71 611.99,402.47 608.09,402.47 605.33,399.71 605.33,395.81 608.09,393.05 611.99,393.05 614.75,395.81" fill="rgba(0,0,0,0.26)" stroke="#000" stroke-width="1.30" stroke-linejoin="round"/>
<polygon points="624.83,403.63 622.07,406.39 618.17,406.39 615.41,403.63 615.41,399.72 618.17,396.96 622.07,396.96 624.83,399.72" fill="rgba(0,0,0,0.26)" stroke="#000" stroke-width="1.30" stroke-linejoin="round"/>
<polygon points="584.51,404.84 581.75,407.60 577.85,407.60 575.09,404.84 575.09,400.93 577.85,398.17 581.75,398.17 584.51,400.93" fill="rgba(0,0,0,0.26)" stroke="#000" stroke-width="1.30" stroke-linejoin="round"/>
<polygon points="634.91,285.08 632.15,287.84 628.25,287.84 625.49,285.08 625.49,281.18 628.25,278.42 632.15,278.42 634.91,281.18" fill="rgba(0,0,0,0.26)" stroke="#000" stroke-width="1.30" stroke-linejoin="round"/>
<polygon points="382.91,312.56 380.15,315.32 376.25,315.32 373.49,312.56 373.49,308.66 376.25,305.90 380.15,305.90 382.91,308.66" fill="rgba(0,0,0,0.70)" stroke="#000" stroke-width="1.30" stroke-linejoin="round"/>
<polygon points="392.99,314.27 390.23,317.03 386.33,317.03 383.57,314.27 383.57,310.37 386.33,307.61 390.23,307.61 392.99,310.37" fill="rgba(0,0,0,0.70)" stroke="#000" stroke-width="1.30" stroke-linejoin="round"/>
<polygon points="403.07,317.83 400.31,320.59 396.41,320.59 393.65,317.83 393.65,313.93 396.41,311.17 400.31,311.17 403.07,313.93" fill="rgba(0,0,0,0.70)" stroke="#000" stroke-width="1.30" stroke-linejoin="round"/>
<polygon points="413.15,325.66 410.39,328.42 406.49,328.42 403.73,325.66 403.73,321.76 406.49,319.00 410.39,319.00 413.15,321.76" fill="rgba(0,0,0,0.70)" stroke="#000" stroke-width="1.30" stroke-linejoin="round"/>
<polygon points="423.23,325.66 420.47,328.42 416.57,328.42 413.81,325.66 413.81,321.76 416.57,319.00 420.47,319.00 423.23,321.76" fill="rgba(0,0,0,0.70)" stroke="#000" stroke-width="1.30" stroke-linejoin="round"/>
<polygon points="433.31,329.94 430.55,332.70 426.65,332.70 423.89,329.94 423.89,326.03 426.65,323.27 430.55,323.27 433.31,326.03" fill="rgba(0,0,0,0.70)" stroke="#000" stroke-width="1.30" stroke-linejoin="round"/>
<polygon points="443.39,334.56 440.63,337.32 436.73,337.32 433.97,334.56 433.97,330.66 436.73,327.90 440.63,327.90 443.39,330.66" fill="rgba(0,0,0,0.70)" stroke="#000" stroke-width="1.30" stroke-linejoin="round"/>
<polygon points="453.47,341.83 450.71,344.59 446.81,344.59 444.05,341.83 444.05,337.92 446.81,335.16 450.71,335.16 453.47,337.92" fill="rgba(0,0,0,0.70)" stroke="#000" stroke-width="1.30" stroke-linejoin="round"/>
<polygon points="463.55,347.31 460.79,350.07 456.89,350.07 454.13,347.31 454.13,343.41 456.89,340.65 460.79,340.65 463.55,343.41" fill="rgba(0,0,0,0.70)" stroke="#000" stroke-width="1.30" stroke-linejoin="round"/>
<polygon points="473.63,346.67 470.87,349.43 466.97,349.43 464.21,346.67 464.21,342.76 466.97,340.00 470.87,340.00 473.63,342.76" fill="rgba(0,0,0,0.70)" stroke="#000" stroke-width="1.30" stroke-linejoin="round"/>
<polygon points="483.71,345.39 480.95,348.15 477.05,348.15 474.29,345.39 474.29,341.48 477.05,338.72 480.95,338.72 483.71,341.48" fill="rgba(0,0,0,0.70)" stroke="#000" stroke-width="1.30" stroke-linejoin="round"/>
<polygon points="493.79,347.74 491.03,350.50 487.13,350.50 484.37,347.74 484.37,343.83 487.13,341.07 491.03,341.07 493.79,343.83" fill="rgba(0,0,0,0.70)" stroke="#000" stroke-width="1.30" stroke-linejoin="round"/>
<polygon points="382.91,314.27 380.15,317.03 376.25,317.03 373.49,314.27 373.49,310.37 376.25,307.61 380.15,307.61 382.91,310.37" fill="rgba(0,0,0,0.70)" stroke="#000" stroke-width="1.30" stroke-linejoin="round"/>
<polygon points="392.99,328.51 390.23,331.27 386.33,331.27 383.57,328.51 383.57,324.61 386.33,321.85 390.23,321.85 392.99,324.61" fill="rgba(0,0,0,0.70)" stroke="#000" stroke-width="1.30" stroke-linejoin="round"/>
<polygon points="403.07,343.18 400.31,345.94 396.41,345.94 393.65,343.18 393.65,339.28 396.41,336.52 400.31,336.52 403.07,339.28" fill="rgba(0,0,0,0.70)" stroke="#000" stroke-width="1.30" stroke-linejoin="round"/>
<polygon points="413.15,336.34 410.39,339.10 406.49,339.10 403.73,336.34 403.73,332.44 406.49,329.68 410.39,329.68 413.15,332.44" fill="rgba(0,0,0,0.70)" stroke="#000" stroke-width="1.30" stroke-linejoin="round"/>
<polygon points="423.23,341.33 420.47,344.09 416.57,344.09 413.81,341.33 413.81,337.42 416.57,334.66 420.47,334.66 423.23,337.42" fill="rgba(0,0,0,0.70)" stroke="#000" stroke-width="1.30" stroke-linejoin="round"/>
<polygon points="433.31,349.66 430.55,352.42 426.65,352.42 423.89,349.66 423.89,345.75 426.65,342.99 430.55,342.99 433.31,345.75" fill="rgba(0,0,0,0.70)" stroke="#000" stroke-width="1.30" stroke-linejoin="round"/>
<polygon points="443.39,349.66 440.63,352.42 436.73,352.42 433.97,349.66 433.97,345.75 436.73,342.99 440.63,342.99 443.39,345.75" fill="rgba(0,0,0,0.70)" stroke="#000" stroke-width="1.30" stroke-linejoin="round"/>
<polygon points="453.47,364.82 450.71,367.58 446.81,367.58 444.05,364.82 444.05,360.92 446.81,358.16 450.71,358.16 453.47,360.92" fill="rgba(0,0,0,0.70)" stroke="#000" stroke-width="1.30" stroke-linejoin="round"/>
<polygon points="463.55,371.52 460.79,374.28 456.89,374.28 454.13,371.52 454.13,367.61 456.89,364.85 460.79,364.85 463.55,367.61" fill="rgba(0,0,0,0.70)" stroke="#000" stroke-width="1.30" stroke-linejoin="round"/>
<polygon points="473.63,379.06 470.87,381.82 466.97,381.82 464.21,379.06 464.21,375.16 466.97,372.40 470.87,372.40 473.63,375.16" fill="rgba(0,0,0,0.70)" stroke="#000" stroke-width="1.30" stroke-linejoin="round"/>
<polygon points="483.71,379.06 480.95,381.82 477.05,381.82 474.29,379.06 474.29,375.16 477.05,372.40 480.95,372.40 483.71,375.16" fill="rgba(0,0,0,0.70)" stroke="#000" stroke-width="1.30" stroke-linejoin="round"/>
<polygon points="493.79,393.73 491.03,396.49 487.13,396.49 484.37,393.73 484.37,389.83 487.13,387.07 491.03,387.07 493.79,389.83" fill="rgba(0,0,0,0.70)" stroke="#000" stroke-width="1.30" stroke-linejoin="round"/>
<polygon points="382.91,317.83 380.15,320.59 376.25,320.59 373.49,317.83 373.49,313.93 376.25,311.17 380.15,311.17 382.91,313.93" fill="rgba(0,0,0,0.70)" stroke="#000" stroke-width="1.30" stroke-linejoin="round"/>
<polygon points="392.99,314.27 390.23,317.03 386.33,317.03 383.57,314.27 383.57,310.37 386.33,307.61 390.23,307.61 392.99,310.37" fill="rgba(0,0,0,0.70)" stroke="#000" stroke-width="1.30" stroke-linejoin="round"/>
<polygon points="403.07,317.83 400.31,320.59 396.41,320.59 393.65,317.83 393.65,313.93 396.41,311.17 400.31,311.17 403.07,313.93" fill="rgba(0,0,0,0.70)" stroke="#000" stroke-width="1.30" stroke-linejoin="round"/>
<polygon points="413.15,350.58 410.39,353.34 406.49,353.34 403.73,350.58 403.73,346.68 406.49,343.92 410.39,343.92 413.15,346.68" fill="rgba(0,0,0,0.70)" stroke="#000" stroke-width="1.30" stroke-linejoin="round"/>
<polygon points="423.23,355.57 420.47,358.33 416.57,358.33 413.81,355.57 413.81,351.66 416.57,348.90 420.47,348.90 423.23,351.66" fill="rgba(0,0,0,0.70)" stroke="#000" stroke-width="1.30" stroke-linejoin="round"/>
<polygon points="433.31,362.33 430.55,365.09 426.65,365.09 423.89,362.33 423.89,358.43 426.65,355.67 430.55,355.67 433.31,358.43" fill="rgba(0,0,0,0.70)" stroke="#000" stroke-width="1.30" stroke-linejoin="round"/>
<polygon points="443.39,371.23 440.63,373.99 436.73,373.99 433.97,371.23 433.97,367.33 436.73,364.57 440.63,364.57 443.39,367.33" fill="rgba(0,0,0,0.70)" stroke="#000" stroke-width="1.30" stroke-linejoin="round"/>
<polygon points="453.47,379.06 450.71,381.82 446.81,381.82 444.05,379.06 444.05,375.16 446.81,372.40 450.71,372.40 453.47,375.16" fill="rgba(0,0,0,0.70)" stroke="#000" stroke-width="1.30" stroke-linejoin="round"/>
<polygon points="463.55,385.19 460.79,387.95 456.89,387.95 454.13,385.19 454.13,381.28 456.89,378.52 460.79,378.52 463.55,381.28" fill="rgba(0,0,0,0.70)" stroke="#000" stroke-width="1.30" stroke-linejoin="round"/>
<polygon points="473.63,395.08 470.87,397.84 466.97,397.84 464.21,395.08 464.21,391.18 466.97,388.42 470.87,388.42 473.63,391.18" fill="rgba(0,0,0,0.70)" stroke="#000" stroke-width="1.30" stroke-linejoin="round"/>
<polygon points="483.71,392.59 480.95,395.35 477.05,395.35 474.29,392.59 474.29,388.69 477.05,385.93 480.95,385.93 483.71,388.69" fill="rgba(0,0,0,0.70)" stroke="#000" stroke-width="1.30" stroke-linejoin="round"/>
<polygon points="493.79,400.42 491.03,403.18 487.13,403.18 484.37,400.42 484.37,396.52 487.13,393.76 491.03,393.76 493.79,396.52" fill="rgba(0,0,0,0.70)" stroke="#000" stroke-width="1.30" stroke-linejoin="round"/>
<polygon points="513.95,400.78 511.19,403.54 507.29,403.54 504.53,400.78 504.53,396.88 507.29,394.12 511.19,394.12 513.95,396.88" fill="rgba(0,0,0,0.70)" stroke="#000" stroke-width="1.30" stroke-linejoin="round"/>
<polygon points="524.03,400.78 521.27,403.54 517.37,403.54 514.61,400.78 514.61,396.88 517.37,394.12 521.27,394.12 524.03,396.88" fill="rgba(0,0,0,0.70)" stroke="#000" stroke-width="1.30" stroke-linejoin="round"/>
<polygon points="534.11,407.54 531.35,410.30 527.45,410.30 524.69,407.54 524.69,403.64 527.45,400.88 531.35,400.88 534.11,403.64" fill="rgba(0,0,0,0.70)" stroke="#000" stroke-width="1.30" stroke-linejoin="round"/>
<polygon points="544.19,419.65 541.43,422.41 537.53,422.41 534.77,419.65 534.77,415.74 537.53,412.98 541.43,412.98 544.19,415.74" fill="rgba(0,0,0,0.70)" stroke="#000" stroke-width="1.30" stroke-linejoin="round"/>
<polygon points="554.27,414.66 551.51,417.42 547.61,417.42 544.85,414.66 544.85,410.76 547.61,408.00 551.51,408.00 554.27,410.76" fill="rgba(0,0,0,0.70)" stroke="#000" stroke-width="1.30" stroke-linejoin="round"/>
<polygon points="564.35,423.21 561.59,425.97 557.69,425.97 554.93,423.21 554.93,419.30 557.69,416.54 561.59,416.54 564.35,419.30" fill="rgba(0,0,0,0.70)" stroke="#000" stroke-width="1.30" stroke-linejoin="round"/>
<polygon points="574.43,423.21 571.67,425.97 567.77,425.97 565.01,423.21 565.01,419.30 567.77,416.54 571.67,416.54 574.43,419.30" fill="rgba(0,0,0,0.70)" stroke="#000" stroke-width="1.30" stroke-linejoin="round"/>
<polygon points="584.51,431.04 581.75,433.80 577.85,433.80 575.09,431.04 575.09,427.14 577.85,424.38 581.75,424.38 584.51,427.14" fill="rgba(0,0,0,0.70)" stroke="#000" stroke-width="1.30" stroke-linejoin="round"/>
<polygon points="594.59,431.04 591.83,433.80 587.93,433.80 585.17,431.04 585.17,427.14 587.93,424.38 591.83,424.38 594.59,427.14" fill="rgba(0,0,0,0.70)" stroke="#000" stroke-width="1.30" stroke-linejoin="round"/>
<polygon points="604.67,443.57 601.91,446.33 598.01,446.33 595.25,443.57 595.25,439.67 598.01,436.91 601.91,436.91 604.67,439.67" fill="rgba(0,0,0,0.70)" stroke="#000" stroke-width="1.30" stroke-linejoin="round"/>
<polygon points="614.75,443.14 611.99,445.90 608.09,445.90 605.33,443.14 605.33,439.24 608.09,436.48 611.99,436.48 614.75,439.24" fill="rgba(0,0,0,0.70)" stroke="#000" stroke-width="1.30" stroke-linejoin="round"/>
<polygon points="513.95,406.12 511.19,408.88 507.29,408.88 504.53,406.12 504.53,402.22 507.29,399.46 511.19,399.46 513.95,402.22" fill="rgba(0,0,0,0.70)" stroke="#000" stroke-width="1.30" stroke-linejoin="round"/>
<polygon points="524.03,415.38 521.27,418.14 517.37,418.14 514.61,415.38 514.61,411.47 517.37,408.71 521.27,408.71 524.03,411.47" fill="rgba(0,0,0,0.70)" stroke="#000" stroke-width="1.30" stroke-linejoin="round"/>
<polygon points="534.11,413.95 531.35,416.71 527.45,416.71 524.69,413.95 524.69,410.05 527.45,407.29 531.35,407.29 534.11,410.05" fill="rgba(0,0,0,0.70)" stroke="#000" stroke-width="1.30" stroke-linejoin="round"/>
<polygon points="544.19,419.65 541.43,422.41 537.53,422.41 534.77,419.65 534.77,415.74 537.53,412.98 541.43,412.98 544.19,415.74" fill="rgba(0,0,0,0.70)" stroke="#000" stroke-width="1.30" stroke-linejoin="round"/>
<polygon points="554.27,426.63 551.51,429.39 547.61,429.39 544.85,426.63 544.85,422.72 547.61,419.96 551.51,419.96 554.27,422.72" fill="rgba(0,0,0,0.70)" stroke="#000" stroke-width="1.30" stroke-linejoin="round"/>
<polygon points="564.35,429.47 561.59,432.23 557.69,432.23 554.93,429.47 554.93,425.57 557.69,422.81 561.59,422.81 564.35,425.57" fill="rgba(0,0,0,0.70)" stroke="#000" stroke-width="1.30" stroke-linejoin="round"/>
<polygon points="574.43,437.16 571.67,439.92 567.77,439.92 565.01,437.16 565.01,433.26 567.77,430.50 571.67,430.50 574.43,433.26" fill="rgba(0,0,0,0.70)" stroke="#000" stroke-width="1.30" stroke-linejoin="round"/>
<polygon points="584.51,437.16 581.75,439.92 577.85,439.92 575.09,437.16 575.09,433.26 577.85,430.50 581.75,430.50 584.51,433.26" fill="rgba(0,0,0,0.70)" stroke="#000" stroke-width="1.30" stroke-linejoin="round"/>
<polygon points="594.59,437.16 591.83,439.92 587.93,439.92 585.17,437.16 585.17,433.26 587.93,430.50 591.83,430.50 594.59,433.26" fill="rgba(0,0,0,0.70)" stroke="#000" stroke-width="1.30" stroke-linejoin="round"/>
<polygon points="604.67,444.57 601.91,447.33 598.01,447.33 595.25,444.57 595.25,440.66 598.01,437.90 601.91,437.90 604.67,440.66" fill="rgba(0,0,0,0.70)" stroke="#000" stroke-width="1.30" stroke-linejoin="round"/>
<polygon points="614.75,443.14 611.99,445.90 608.09,445.90 605.33,443.14 605.33,439.24 608.09,436.48 611.99,436.48 614.75,439.24" fill="rgba(0,0,0,0.70)" stroke="#000" stroke-width="1.30" stroke-linejoin="round"/>
<polygon points="503.87,307.37 501.11,310.13 497.21,310.13 494.45,307.37 494.45,303.46 497.21,300.70 501.11,300.70 503.87,303.46" fill="rgba(0,0,0,0.70)" stroke="#000" stroke-width="1.30" stroke-linejoin="round"/>
<polygon points="503.87,314.27 501.11,317.03 497.21,317.03 494.45,314.27 494.45,310.37 497.21,307.61 501.11,307.61 503.87,310.37" fill="rgba(0,0,0,0.70)" stroke="#000" stroke-width="1.30" stroke-linejoin="round"/>
<polygon points="634.91,287.22 632.15,289.98 628.25,289.98 625.49,287.22 625.49,283.31 628.25,280.55 632.15,280.55 634.91,283.31" fill="rgba(0,0,0,0.70)" stroke="#000" stroke-width="1.30" stroke-linejoin="round"/>
<polygon points="634.91,345.60 632.15,348.36 628.25,348.36 625.49,345.60 625.49,341.70 628.25,338.94 632.15,338.94 634.91,341.70" fill="rgba(0,0,0,0.70)" stroke="#000" stroke-width="1.30" stroke-linejoin="round"/>
<polygon points="634.91,350.58 632.15,353.34 628.25,353.34 625.49,350.58 625.49,346.68 628.25,343.92 632.15,343.92 634.91,346.68" fill="rgba(0,0,0,0.70)" stroke="#000" stroke-width="1.30" stroke-linejoin="round"/>
<polygon points="378.20,309.67 380.99,312.47 382.62,310.84 379.83,308.05 382.62,305.25 380.99,303.63 378.20,306.42 375.41,303.63 373.78,305.25 376.57,308.05 373.78,310.84 375.41,312.47" fill="#d98a64" stroke="#3f2212" stroke-width="1.00" stroke-linejoin="round"/>
<polygon points="388.28,305.54 391.07,308.34 392.70,306.71 389.91,303.92 392.70,301.13 391.07,299.50 388.28,302.29 385.49,299.50 383.86,301.13 386.65,303.92 383.86,306.71 385.49,308.34" fill="#d98a64" stroke="#3f2212" stroke-width="1.00" stroke-linejoin="round"/>
<polygon points="398.36,319.64 401.15,322.44 402.78,320.81 399.99,318.02 402.78,315.22 401.15,313.60 398.36,316.39 395.57,313.60 393.94,315.22 396.73,318.02 393.94,320.81 395.57,322.44" fill="#d98a64" stroke="#3f2212" stroke-width="1.00" stroke-linejoin="round"/>
<polygon points="408.44,319.64 411.23,322.44 412.86,320.81 410.07,318.02 412.86,315.22 411.23,313.60 408.44,316.39 405.65,313.60 404.02,315.22 406.81,318.02 404.02,320.81 405.65,322.44" fill="#d98a64" stroke="#3f2212" stroke-width="1.00" stroke-linejoin="round"/>
<polygon points="418.52,321.07 421.31,323.86 422.94,322.23 420.15,319.44 422.94,316.65 421.31,315.02 418.52,317.81 415.73,315.02 414.10,316.65 416.89,319.44 414.10,322.23 415.73,323.86" fill="#d98a64" stroke="#3f2212" stroke-width="1.00" stroke-linejoin="round"/>
<polygon points="428.60,324.63 431.39,327.42 433.02,325.79 430.23,323.00 433.02,320.21 431.39,318.58 428.60,321.37 425.81,318.58 424.18,320.21 426.97,323.00 424.18,325.79 425.81,327.42" fill="#d98a64" stroke="#3f2212" stroke-width="1.00" stroke-linejoin="round"/>
<polygon points="438.68,326.41 441.47,329.20 443.10,327.57 440.31,324.78 443.10,321.99 441.47,320.36 438.68,323.15 435.89,320.36 434.26,321.99 437.05,324.78 434.26,327.57 435.89,329.20" fill="#d98a64" stroke="#3f2212" stroke-width="1.00" stroke-linejoin="round"/>
<polygon points="448.76,321.07 451.55,323.86 453.18,322.23 450.39,319.44 453.18,316.65 451.55,315.02 448.76,317.81 445.97,315.02 444.34,316.65 447.13,319.44 444.34,322.23 445.97,323.86" fill="#d98a64" stroke="#3f2212" stroke-width="1.00" stroke-linejoin="round"/>
<polygon points="458.84,316.79 461.63,319.59 463.26,317.96 460.47,315.17 463.26,312.37 461.63,310.75 458.84,313.54 456.05,310.75 454.42,312.37 457.21,315.17 454.42,317.96 456.05,319.59" fill="#d98a64" stroke="#3f2212" stroke-width="1.00" stroke-linejoin="round"/>
<polygon points="468.92,322.49 471.71,325.28 473.34,323.66 470.55,320.86 473.34,318.07 471.71,316.44 468.92,319.24 466.13,316.44 464.50,318.07 467.29,320.86 464.50,323.66 466.13,325.28" fill="#d98a64" stroke="#3f2212" stroke-width="1.00" stroke-linejoin="round"/>
<polygon points="479.00,322.49 481.79,325.28 483.42,323.66 480.63,320.86 483.42,318.07 481.79,316.44 479.00,319.24 476.21,316.44 474.58,318.07 477.37,320.86 474.58,323.66 476.21,325.28" fill="#d98a64" stroke="#3f2212" stroke-width="1.00" stroke-linejoin="round"/>
<polygon points="489.08,326.76 491.87,329.56 493.50,327.93 490.71,325.14 493.50,322.34 491.87,320.72 489.08,323.51 486.29,320.72 484.66,322.34 487.45,325.14 484.66,327.93 486.29,329.56" fill="#d98a64" stroke="#3f2212" stroke-width="1.00" stroke-linejoin="round"/>
<polygon points="378.20,313.95 380.99,316.74 382.62,315.11 379.83,312.32 382.62,309.53 380.99,307.90 378.20,310.69 375.41,307.90 373.78,309.53 376.57,312.32 373.78,315.11 375.41,316.74" fill="#d98a64" stroke="#3f2212" stroke-width="1.00" stroke-linejoin="round"/>
<polygon points="388.28,318.93 391.07,321.72 392.70,320.10 389.91,317.30 392.70,314.51 391.07,312.88 388.28,315.68 385.49,312.88 383.86,314.51 386.65,317.30 383.86,320.10 385.49,321.72" fill="#d98a64" stroke="#3f2212" stroke-width="1.00" stroke-linejoin="round"/>
<polygon points="398.36,324.63 401.15,327.42 402.78,325.79 399.99,323.00 402.78,320.21 401.15,318.58 398.36,321.37 395.57,318.58 393.94,320.21 396.73,323.00 393.94,325.79 395.57,327.42" fill="#d98a64" stroke="#3f2212" stroke-width="1.00" stroke-linejoin="round"/>
<polygon points="408.44,327.47 411.23,330.27 412.86,328.64 410.07,325.85 412.86,323.05 411.23,321.43 408.44,324.22 405.65,321.43 404.02,323.05 406.81,325.85 404.02,328.64 405.65,330.27" fill="#d98a64" stroke="#3f2212" stroke-width="1.00" stroke-linejoin="round"/>
<polygon points="418.52,332.46 421.31,335.25 422.94,333.63 420.15,330.83 422.94,328.04 421.31,326.41 418.52,329.21 415.73,326.41 414.10,328.04 416.89,330.83 414.10,333.63 415.73,335.25" fill="#d98a64" stroke="#3f2212" stroke-width="1.00" stroke-linejoin="round"/>
<polygon points="428.60,334.88 431.39,337.67 433.02,336.05 430.23,333.25 433.02,330.46 431.39,328.83 428.60,331.63 425.81,328.83 424.18,330.46 426.97,333.25 424.18,336.05 425.81,337.67" fill="#d98a64" stroke="#3f2212" stroke-width="1.00" stroke-linejoin="round"/>
<polygon points="438.68,335.31 441.47,338.10 443.10,336.47 440.31,333.68 443.10,330.89 441.47,329.26 438.68,332.05 435.89,329.26 434.26,330.89 437.05,333.68 434.26,336.47 435.89,338.10" fill="#d98a64" stroke="#3f2212" stroke-width="1.00" stroke-linejoin="round"/>
<polygon points="448.76,341.50 451.55,344.29 453.18,342.67 450.39,339.87 453.18,337.08 451.55,335.45 448.76,338.25 445.97,335.45 444.34,337.08 447.13,339.87 444.34,342.67 445.97,344.29" fill="#d98a64" stroke="#3f2212" stroke-width="1.00" stroke-linejoin="round"/>
<polygon points="458.84,329.97 461.63,332.76 463.26,331.13 460.47,328.34 463.26,325.55 461.63,323.92 458.84,326.71 456.05,323.92 454.42,325.55 457.21,328.34 454.42,331.13 456.05,332.76" fill="#d98a64" stroke="#3f2212" stroke-width="1.00" stroke-linejoin="round"/>
<polygon points="468.92,330.68 471.71,333.47 473.34,331.85 470.55,329.05 473.34,326.26 471.71,324.63 468.92,327.43 466.13,324.63 464.50,326.26 467.29,329.05 464.50,331.85 466.13,333.47" fill="#d98a64" stroke="#3f2212" stroke-width="1.00" stroke-linejoin="round"/>
<polygon points="479.00,336.09 481.79,338.88 483.42,337.26 480.63,334.46 483.42,331.67 481.79,330.04 479.00,332.84 476.21,330.04 474.58,331.67 477.37,334.46 474.58,337.26 476.21,338.88" fill="#d98a64" stroke="#3f2212" stroke-width="1.00" stroke-linejoin="round"/>
<polygon points="489.08,338.87 491.87,341.66 493.50,340.03 490.71,337.24 493.50,334.45 491.87,332.82 489.08,335.61 486.29,332.82 484.66,334.45 487.45,337.24 484.66,340.03 486.29,341.66" fill="#d98a64" stroke="#3f2212" stroke-width="1.00" stroke-linejoin="round"/>
<polygon points="378.20,317.51 380.99,320.30 382.62,318.67 379.83,315.88 382.62,313.09 380.99,311.46 378.20,314.25 375.41,311.46 373.78,313.09 376.57,315.88 373.78,318.67 375.41,320.30" fill="#d98a64" stroke="#3f2212" stroke-width="1.00" stroke-linejoin="round"/>
<polygon points="388.28,324.63 391.07,327.42 392.70,325.79 389.91,323.00 392.70,320.21 391.07,318.58 388.28,321.37 385.49,318.58 383.86,320.21 386.65,323.00 383.86,325.79 385.49,327.42" fill="#d98a64" stroke="#3f2212" stroke-width="1.00" stroke-linejoin="round"/>
<polygon points="398.36,331.75 401.15,334.54 402.78,332.91 399.99,330.12 402.78,327.33 401.15,325.70 398.36,328.49 395.57,325.70 393.94,327.33 396.73,330.12 393.94,332.91 395.57,334.54" fill="#d98a64" stroke="#3f2212" stroke-width="1.00" stroke-linejoin="round"/>
<polygon points="408.44,336.73 411.23,339.52 412.86,337.90 410.07,335.10 412.86,332.31 411.23,330.68 408.44,333.48 405.65,330.68 404.02,332.31 406.81,335.10 404.02,337.90 405.65,339.52" fill="#d98a64" stroke="#3f2212" stroke-width="1.00" stroke-linejoin="round"/>
<polygon points="418.52,342.43 421.31,345.22 422.94,343.59 420.15,340.80 422.94,338.01 421.31,336.38 418.52,339.17 415.73,336.38 414.10,338.01 416.89,340.80 414.10,343.59 415.73,345.22" fill="#d98a64" stroke="#3f2212" stroke-width="1.00" stroke-linejoin="round"/>
<polygon points="428.60,345.99 431.39,348.78 433.02,347.15 430.23,344.36 433.02,341.57 431.39,339.94 428.60,342.73 425.81,339.94 424.18,341.57 426.97,344.36 424.18,347.15 425.81,348.78" fill="#d98a64" stroke="#3f2212" stroke-width="1.00" stroke-linejoin="round"/>
<polygon points="438.68,349.55 441.47,352.34 443.10,350.71 440.31,347.92 443.10,345.13 441.47,343.50 438.68,346.29 435.89,343.50 434.26,345.13 437.05,347.92 434.26,350.71 435.89,352.34" fill="#d98a64" stroke="#3f2212" stroke-width="1.00" stroke-linejoin="round"/>
<polygon points="448.76,349.55 451.55,352.34 453.18,350.71 450.39,347.92 453.18,345.13 451.55,343.50 448.76,346.29 445.97,343.50 444.34,345.13 447.13,347.92 444.34,350.71 445.97,352.34" fill="#d98a64" stroke="#3f2212" stroke-width="1.00" stroke-linejoin="round"/>
<polygon points="458.84,348.76 461.63,351.56 463.26,349.93 460.47,347.14 463.26,344.34 461.63,342.72 458.84,345.51 456.05,342.72 454.42,344.34 457.21,347.14 454.42,349.93 456.05,351.56" fill="#d98a64" stroke="#3f2212" stroke-width="1.00" stroke-linejoin="round"/>
<polygon points="468.92,346.34 471.71,349.14 473.34,347.51 470.55,344.72 473.34,341.92 471.71,340.30 468.92,343.09 466.13,340.30 464.50,341.92 467.29,344.72 464.50,347.51 466.13,349.14" fill="#d98a64" stroke="#3f2212" stroke-width="1.00" stroke-linejoin="round"/>
<polygon points="479.00,345.06 481.79,347.85 483.42,346.23 480.63,343.43 483.42,340.64 481.79,339.01 479.00,341.81 476.21,339.01 474.58,340.64 477.37,343.43 474.58,346.23 476.21,347.85" fill="#d98a64" stroke="#3f2212" stroke-width="1.00" stroke-linejoin="round"/>
<polygon points="489.08,347.41 491.87,350.20 493.50,348.58 490.71,345.78 493.50,342.99 491.87,341.36 489.08,344.16 486.29,341.36 484.66,342.99 487.45,345.78 484.66,348.58 486.29,350.20" fill="#d98a64" stroke="#3f2212" stroke-width="1.00" stroke-linejoin="round"/>
<polygon points="509.24,338.15 512.03,340.95 513.66,339.32 510.87,336.53 513.66,333.73 512.03,332.11 509.24,334.90 506.45,332.11 504.82,333.73 507.61,336.53 504.82,339.32 506.45,340.95" fill="#d98a64" stroke="#3f2212" stroke-width="1.00" stroke-linejoin="round"/>
<polygon points="519.32,338.15 522.11,340.95 523.74,339.32 520.95,336.53 523.74,333.73 522.11,332.11 519.32,334.90 516.53,332.11 514.90,333.73 517.69,336.53 514.90,339.32 516.53,340.95" fill="#d98a64" stroke="#3f2212" stroke-width="1.00" stroke-linejoin="round"/>
<polygon points="529.40,345.27 532.19,348.07 533.82,346.44 531.03,343.65 533.82,340.85 532.19,339.23 529.40,342.02 526.61,339.23 524.98,340.85 527.77,343.65 524.98,346.44 526.61,348.07" fill="#d98a64" stroke="#3f2212" stroke-width="1.00" stroke-linejoin="round"/>
<polygon points="539.48,345.27 542.27,348.07 543.90,346.44 541.11,343.65 543.90,340.85 542.27,339.23 539.48,342.02 536.69,339.23 535.06,340.85 537.85,343.65 535.06,346.44 536.69,348.07" fill="#d98a64" stroke="#3f2212" stroke-width="1.00" stroke-linejoin="round"/>
<polygon points="549.56,345.27 552.35,348.07 553.98,346.44 551.19,343.65 553.98,340.85 552.35,339.23 549.56,342.02 546.77,339.23 545.14,340.85 547.93,343.65 545.14,346.44 546.77,348.07" fill="#d98a64" stroke="#3f2212" stroke-width="1.00" stroke-linejoin="round"/>
<polygon points="559.64,349.55 562.43,352.34 564.06,350.71 561.27,347.92 564.06,345.13 562.43,343.50 559.64,346.29 556.85,343.50 555.22,345.13 558.01,347.92 555.22,350.71 556.85,352.34" fill="#d98a64" stroke="#3f2212" stroke-width="1.00" stroke-linejoin="round"/>
<polygon points="569.72,356.24 572.51,359.03 574.14,357.41 571.35,354.61 574.14,351.82 572.51,350.19 569.72,352.99 566.93,350.19 565.30,351.82 568.09,354.61 565.30,357.41 566.93,359.03" fill="#d98a64" stroke="#3f2212" stroke-width="1.00" stroke-linejoin="round"/>
<polygon points="579.80,356.24 582.59,359.03 584.22,357.41 581.43,354.61 584.22,351.82 582.59,350.19 579.80,352.99 577.01,350.19 575.38,351.82 578.17,354.61 575.38,357.41 577.01,359.03" fill="#d98a64" stroke="#3f2212" stroke-width="1.00" stroke-linejoin="round"/>
<polygon points="589.88,356.24 592.67,359.03 594.30,357.41 591.51,354.61 594.30,351.82 592.67,350.19 589.88,352.99 587.09,350.19 585.46,351.82 588.25,354.61 585.46,357.41 587.09,359.03" fill="#d98a64" stroke="#3f2212" stroke-width="1.00" stroke-linejoin="round"/>
<polygon points="599.96,356.24 602.75,359.03 604.38,357.41 601.59,354.61 604.38,351.82 602.75,350.19 599.96,352.99 597.17,350.19 595.54,351.82 598.33,354.61 595.54,357.41 597.17,359.03" fill="#d98a64" stroke="#3f2212" stroke-width="1.00" stroke-linejoin="round"/>
<polygon points="610.04,356.24 612.83,359.03 614.46,357.41 611.67,354.61 614.46,351.82 612.83,350.19 610.04,352.99 607.25,350.19 605.62,351.82 608.41,354.61 605.62,357.41 607.25,359.03" fill="#d98a64" stroke="#3f2212" stroke-width="1.00" stroke-linejoin="round"/>
<polygon points="620.12,356.24 622.91,359.03 624.54,357.41 621.75,354.61 624.54,351.82 622.91,350.19 620.12,352.99 617.33,350.19 615.70,351.82 618.49,354.61 615.70,357.41 617.33,359.03" fill="#d98a64" stroke="#3f2212" stroke-width="1.00" stroke-linejoin="round"/>
<polygon points="509.24,342.43 512.03,345.22 513.66,343.59 510.87,340.80 513.66,338.01 512.03,336.38 509.24,339.17 506.45,336.38 504.82,338.01 507.61,340.80 504.82,343.59 506.45,345.22" fill="#d98a64" stroke="#3f2212" stroke-width="1.00" stroke-linejoin="round"/>
<polygon points="519.32,342.43 522.11,345.22 523.74,343.59 520.95,340.80 523.74,338.01 522.11,336.38 519.32,339.17 516.53,336.38 514.90,338.01 517.69,340.80 514.90,343.59 516.53,345.22" fill="#d98a64" stroke="#3f2212" stroke-width="1.00" stroke-linejoin="round"/>
<polygon points="529.40,349.55 532.19,352.34 533.82,350.71 531.03,347.92 533.82,345.13 532.19,343.50 529.40,346.29 526.61,343.50 524.98,345.13 527.77,347.92 524.98,350.71 526.61,352.34" fill="#d98a64" stroke="#3f2212" stroke-width="1.00" stroke-linejoin="round"/>
<polygon points="539.48,349.55 542.27,352.34 543.90,350.71 541.11,347.92 543.90,345.13 542.27,343.50 539.48,346.29 536.69,343.50 535.06,345.13 537.85,347.92 535.06,350.71 536.69,352.34" fill="#d98a64" stroke="#3f2212" stroke-width="1.00" stroke-linejoin="round"/>
<polygon points="549.56,349.55 552.35,352.34 553.98,350.71 551.19,347.92 553.98,345.13 552.35,343.50 549.56,346.29 546.77,343.50 545.14,345.13 547.93,347.92 545.14,350.71 546.77,352.34" fill="#d98a64" stroke="#3f2212" stroke-width="1.00" stroke-linejoin="round"/>
<polygon points="559.64,355.24 562.43,358.04 564.06,356.41 561.27,353.62 564.06,350.82 562.43,349.20 559.64,351.99 556.85,349.20 555.22,350.82 558.01,353.62 555.22,356.41 556.85,358.04" fill="#d98a64" stroke="#3f2212" stroke-width="1.00" stroke-linejoin="round"/>
<polygon points="569.72,341.00 572.51,343.80 574.14,342.17 571.35,339.38 574.14,336.58 572.51,334.96 569.72,337.75 566.93,334.96 565.30,336.58 568.09,339.38 565.30,342.17 566.93,343.80" fill="#d98a64" stroke="#3f2212" stroke-width="1.00" stroke-linejoin="round"/>
<polygon points="579.80,345.99 582.59,348.78 584.22,347.15 581.43,344.36 584.22,341.57 582.59,339.94 579.80,342.73 577.01,339.94 575.38,341.57 578.17,344.36 575.38,347.15 577.01,348.78" fill="#d98a64" stroke="#3f2212" stroke-width="1.00" stroke-linejoin="round"/>
<polygon points="589.88,363.43 592.67,366.22 594.30,364.60 591.51,361.80 594.30,359.01 592.67,357.38 589.88,360.18 587.09,357.38 585.46,359.01 588.25,361.80 585.46,364.60 587.09,366.22" fill="#d98a64" stroke="#3f2212" stroke-width="1.00" stroke-linejoin="round"/>
<polygon points="599.96,353.11 602.75,355.90 604.38,354.27 601.59,351.48 604.38,348.69 602.75,347.06 599.96,349.85 597.17,347.06 595.54,348.69 598.33,351.48 595.54,354.27 597.17,355.90" fill="#d98a64" stroke="#3f2212" stroke-width="1.00" stroke-linejoin="round"/>
<polygon points="610.04,353.11 612.83,355.90 614.46,354.27 611.67,351.48 614.46,348.69 612.83,347.06 610.04,349.85 607.25,347.06 605.62,348.69 608.41,351.48 605.62,354.27 607.25,355.90" fill="#d98a64" stroke="#3f2212" stroke-width="1.00" stroke-linejoin="round"/>
<polygon points="620.12,363.43 622.91,366.22 624.54,364.60 621.75,361.80 624.54,359.01 622.91,357.38 620.12,360.18 617.33,357.38 615.70,359.01 618.49,361.80 615.70,364.60 617.33,366.22" fill="#d98a64" stroke="#3f2212" stroke-width="1.00" stroke-linejoin="round"/>
<polygon points="509.24,362.93 512.03,365.73 513.66,364.10 510.87,361.31 513.66,358.51 512.03,356.89 509.24,359.68 506.45,356.89 504.82,358.51 507.61,361.31 504.82,364.10 506.45,365.73" fill="#d98a64" stroke="#3f2212" stroke-width="1.00" stroke-linejoin="round"/>
<polygon points="519.32,362.93 522.11,365.73 523.74,364.10 520.95,361.31 523.74,358.51 522.11,356.89 519.32,359.68 516.53,356.89 514.90,358.51 517.69,361.31 514.90,364.10 516.53,365.73" fill="#d98a64" stroke="#3f2212" stroke-width="1.00" stroke-linejoin="round"/>
<polygon points="529.40,370.19 532.19,372.99 533.82,371.36 531.03,368.57 533.82,365.77 532.19,364.15 529.40,366.94 526.61,364.15 524.98,365.77 527.77,368.57 524.98,371.36 526.61,372.99" fill="#d98a64" stroke="#3f2212" stroke-width="1.00" stroke-linejoin="round"/>
<polygon points="539.48,362.93 542.27,365.73 543.90,364.10 541.11,361.31 543.90,358.51 542.27,356.89 539.48,359.68 536.69,356.89 535.06,358.51 537.85,361.31 535.06,364.10 536.69,365.73" fill="#d98a64" stroke="#3f2212" stroke-width="1.00" stroke-linejoin="round"/>
<polygon points="549.56,370.19 552.35,372.99 553.98,371.36 551.19,368.57 553.98,365.77 552.35,364.15 549.56,366.94 546.77,364.15 545.14,365.77 547.93,368.57 545.14,371.36 546.77,372.99" fill="#d98a64" stroke="#3f2212" stroke-width="1.00" stroke-linejoin="round"/>
<polygon points="559.64,370.91 562.43,373.70 564.06,372.07 561.27,369.28 564.06,366.49 562.43,364.86 559.64,367.65 556.85,364.86 555.22,366.49 558.01,369.28 555.22,372.07 556.85,373.70" fill="#d98a64" stroke="#3f2212" stroke-width="1.00" stroke-linejoin="round"/>
<polygon points="569.72,376.82 572.51,379.61 574.14,377.98 571.35,375.19 574.14,372.40 572.51,370.77 569.72,373.56 566.93,370.77 565.30,372.40 568.09,375.19 565.30,377.98 566.93,379.61" fill="#d98a64" stroke="#3f2212" stroke-width="1.00" stroke-linejoin="round"/>
<polygon points="579.80,376.82 582.59,379.61 584.22,377.98 581.43,375.19 584.22,372.40 582.59,370.77 579.80,373.56 577.01,370.77 575.38,372.40 578.17,375.19 575.38,377.98 577.01,379.61" fill="#d98a64" stroke="#3f2212" stroke-width="1.00" stroke-linejoin="round"/>
<polygon points="589.88,370.69 592.67,373.49 594.30,371.86 591.51,369.07 594.30,366.27 592.67,364.65 589.88,367.44 587.09,364.65 585.46,366.27 588.25,369.07 585.46,371.86 587.09,373.49" fill="#d98a64" stroke="#3f2212" stroke-width="1.00" stroke-linejoin="round"/>
<polygon points="599.96,376.82 602.75,379.61 604.38,377.98 601.59,375.19 604.38,372.40 602.75,370.77 599.96,373.56 597.17,370.77 595.54,372.40 598.33,375.19 595.54,377.98 597.17,379.61" fill="#d98a64" stroke="#3f2212" stroke-width="1.00" stroke-linejoin="round"/>
<polygon points="610.04,376.82 612.83,379.61 614.46,377.98 611.67,375.19 614.46,372.40 612.83,370.77 610.04,373.56 607.25,370.77 605.62,372.40 608.41,375.19 605.62,377.98 607.25,379.61" fill="#d98a64" stroke="#3f2212" stroke-width="1.00" stroke-linejoin="round"/>
<polygon points="620.12,376.82 622.91,379.61 624.54,377.98 621.75,375.19 624.54,372.40 622.91,370.77 620.12,373.56 617.33,370.77 615.70,372.40 618.49,375.19 615.70,377.98 617.33,379.61" fill="#d98a64" stroke="#3f2212" stroke-width="1.00" stroke-linejoin="round"/>
<polygon points="368.12,272.65 370.91,275.44 372.54,273.82 369.75,271.02 372.54,268.23 370.91,266.60 368.12,269.40 365.33,266.60 363.70,268.23 366.49,271.02 363.70,273.82 365.33,275.44" fill="#d98a64" stroke="#3f2212" stroke-width="1.00" stroke-linejoin="round"/>
<polygon points="499.16,279.41 501.95,282.21 503.58,280.58 500.79,277.79 503.58,274.99 501.95,273.37 499.16,276.16 496.37,273.37 494.74,274.99 497.53,277.79 494.74,280.58 496.37,282.21" fill="#d98a64" stroke="#3f2212" stroke-width="1.00" stroke-linejoin="round"/>
<polygon points="499.16,284.04 501.95,286.84 503.58,285.21 500.79,282.42 503.58,279.62 501.95,278.00 499.16,280.79 496.37,278.00 494.74,279.62 497.53,282.42 494.74,285.21 496.37,286.84" fill="#d98a64" stroke="#3f2212" stroke-width="1.00" stroke-linejoin="round"/>
<polygon points="499.16,288.67 501.95,291.46 503.58,289.84 500.79,287.04 503.58,284.25 501.95,282.62 499.16,285.42 496.37,282.62 494.74,284.25 497.53,287.04 494.74,289.84 496.37,291.46" fill="#d98a64" stroke="#3f2212" stroke-width="1.00" stroke-linejoin="round"/>
<polygon points="499.16,301.13 501.95,303.92 503.58,302.30 500.79,299.50 503.58,296.71 501.95,295.08 499.16,297.88 496.37,295.08 494.74,296.71 497.53,299.50 494.74,302.30 496.37,303.92" fill="#d98a64" stroke="#3f2212" stroke-width="1.00" stroke-linejoin="round"/>
<polygon points="630.20,296.86 632.99,299.65 634.62,298.03 631.83,295.23 634.62,292.44 632.99,290.81 630.20,293.61 627.41,290.81 625.78,292.44 628.57,295.23 625.78,298.03 627.41,299.65" fill="#d98a64" stroke="#3f2212" stroke-width="1.00" stroke-linejoin="round"/>
<polygon points="630.20,305.40 632.99,308.20 634.62,306.57 631.83,303.78 634.62,300.98 632.99,299.36 630.20,302.15 627.41,299.36 625.78,300.98 628.57,303.78 625.78,306.57 627.41,308.20" fill="#d98a64" stroke="#3f2212" stroke-width="1.00" stroke-linejoin="round"/>
<polygon points="630.20,323.91 632.99,326.71 634.62,325.08 631.83,322.29 634.62,319.49 632.99,317.87 630.20,320.66 627.41,317.87 625.78,319.49 628.57,322.29 625.78,325.08 627.41,326.71" fill="#d98a64" stroke="#3f2212" stroke-width="1.00" stroke-linejoin="round"/>
<polygon points="378.20,300.27 379.52,303.45 382.96,303.73 380.34,305.97 381.14,309.32 378.20,307.52 375.26,309.32 376.06,305.97 373.44,303.73 376.88,303.45" fill="#e8262b" stroke="#1a0000" stroke-width="1.00" stroke-linejoin="miter"/>
<polygon points="388.28,305.61 389.60,308.79 393.04,309.07 390.42,311.31 391.22,314.66 388.28,312.86 385.34,314.66 386.14,311.31 383.52,309.07 386.96,308.79" fill="#e8262b" stroke="#1a0000" stroke-width="1.00" stroke-linejoin="miter"/>
<polygon points="398.36,305.61 399.68,308.79 403.12,309.07 400.50,311.31 401.30,314.66 398.36,312.86 395.42,314.66 396.22,311.31 393.60,309.07 397.04,308.79" fill="#e8262b" stroke="#1a0000" stroke-width="1.00" stroke-linejoin="miter"/>
<polygon points="408.44,305.61 409.76,308.79 413.20,309.07 410.58,311.31 411.38,314.66 408.44,312.86 405.50,314.66 406.30,311.31 403.68,309.07 407.12,308.79" fill="#e8262b" stroke="#1a0000" stroke-width="1.00" stroke-linejoin="miter"/>
<polygon points="418.52,305.61 419.84,308.79 423.28,309.07 420.66,311.31 421.46,314.66 418.52,312.86 415.58,314.66 416.38,311.31 413.76,309.07 417.20,308.79" fill="#e8262b" stroke="#1a0000" stroke-width="1.00" stroke-linejoin="miter"/>
<polygon points="428.60,312.59 429.92,315.77 433.36,316.04 430.74,318.28 431.54,321.63 428.60,319.84 425.66,321.63 426.46,318.28 423.84,316.04 427.28,315.77" fill="#e8262b" stroke="#1a0000" stroke-width="1.00" stroke-linejoin="miter"/>
<polygon points="438.68,312.59 440.00,315.77 443.44,316.04 440.82,318.28 441.62,321.63 438.68,319.84 435.74,321.63 436.54,318.28 433.92,316.04 437.36,315.77" fill="#e8262b" stroke="#1a0000" stroke-width="1.00" stroke-linejoin="miter"/>
<polygon points="448.76,318.57 450.08,321.75 453.52,322.02 450.90,324.26 451.70,327.61 448.76,325.82 445.82,327.61 446.62,324.26 444.00,322.02 447.44,321.75" fill="#e8262b" stroke="#1a0000" stroke-width="1.00" stroke-linejoin="miter"/>
<polygon points="458.84,318.00 460.16,321.18 463.60,321.45 460.98,323.70 461.78,327.05 458.84,325.25 455.90,327.05 456.70,323.70 454.08,321.45 457.52,321.18" fill="#e8262b" stroke="#1a0000" stroke-width="1.00" stroke-linejoin="miter"/>
<polygon points="468.92,318.00 470.24,321.18 473.68,321.45 471.06,323.70 471.86,327.05 468.92,325.25 465.98,327.05 466.78,323.70 464.16,321.45 467.60,321.18" fill="#e8262b" stroke="#1a0000" stroke-width="1.00" stroke-linejoin="miter"/>
<polygon points="479.00,319.21 480.32,322.39 483.76,322.67 481.14,324.91 481.94,328.26 479.00,326.46 476.06,328.26 476.86,324.91 474.24,322.67 477.68,322.39" fill="#e8262b" stroke="#1a0000" stroke-width="1.00" stroke-linejoin="miter"/>
<polygon points="489.08,324.69 490.40,327.87 493.84,328.15 491.22,330.39 492.02,333.74 489.08,331.94 486.14,333.74 486.94,330.39 484.32,328.15 487.76,327.87" fill="#e8262b" stroke="#1a0000" stroke-width="1.00" stroke-linejoin="miter"/>
<polygon points="509.24,325.83 510.56,329.01 514.00,329.29 511.38,331.53 512.18,334.88 509.24,333.08 506.30,334.88 507.10,331.53 504.48,329.29 507.92,329.01" fill="#e8262b" stroke="#1a0000" stroke-width="1.00" stroke-linejoin="miter"/>
<polygon points="519.32,325.83 520.64,329.01 524.08,329.29 521.46,331.53 522.26,334.88 519.32,333.08 516.38,334.88 517.18,331.53 514.56,329.29 518.00,329.01" fill="#e8262b" stroke="#1a0000" stroke-width="1.00" stroke-linejoin="miter"/>
<polygon points="529.40,332.67 530.72,335.85 534.16,336.12 531.54,338.36 532.34,341.71 529.40,339.92 526.46,341.71 527.26,338.36 524.64,336.12 528.08,335.85" fill="#e8262b" stroke="#1a0000" stroke-width="1.00" stroke-linejoin="miter"/>
<polygon points="539.48,332.67 540.80,335.85 544.24,336.12 541.62,338.36 542.42,341.71 539.48,339.92 536.54,341.71 537.34,338.36 534.72,336.12 538.16,335.85" fill="#e8262b" stroke="#1a0000" stroke-width="1.00" stroke-linejoin="miter"/>
<polygon points="549.56,332.67 550.88,335.85 554.32,336.12 551.70,338.36 552.50,341.71 549.56,339.92 546.62,341.71 547.42,338.36 544.80,336.12 548.24,335.85" fill="#e8262b" stroke="#1a0000" stroke-width="1.00" stroke-linejoin="miter"/>
<polygon points="559.64,338.65 560.96,341.83 564.40,342.10 561.78,344.34 562.58,347.69 559.64,345.90 556.70,347.69 557.50,344.34 554.88,342.10 558.32,341.83" fill="#e8262b" stroke="#1a0000" stroke-width="1.00" stroke-linejoin="miter"/>
<polygon points="569.72,336.16 571.04,339.34 574.48,339.61 571.86,341.85 572.66,345.20 569.72,343.41 566.78,345.20 567.58,341.85 564.96,339.61 568.40,339.34" fill="#e8262b" stroke="#1a0000" stroke-width="1.00" stroke-linejoin="miter"/>
<polygon points="579.80,337.22 581.12,340.40 584.56,340.68 581.94,342.92 582.74,346.27 579.80,344.47 576.86,346.27 577.66,342.92 575.04,340.68 578.48,340.40" fill="#e8262b" stroke="#1a0000" stroke-width="1.00" stroke-linejoin="miter"/>
<polygon points="589.88,342.92 591.20,346.10 594.64,346.37 592.02,348.62 592.82,351.97 589.88,350.17 586.94,351.97 587.74,348.62 585.12,346.37 588.56,346.10" fill="#e8262b" stroke="#1a0000" stroke-width="1.00" stroke-linejoin="miter"/>
<polygon points="599.96,337.22 601.28,340.40 604.72,340.68 602.10,342.92 602.90,346.27 599.96,344.47 597.02,346.27 597.82,342.92 595.20,340.68 598.64,340.40" fill="#e8262b" stroke="#1a0000" stroke-width="1.00" stroke-linejoin="miter"/>
<polygon points="610.04,342.92 611.36,346.10 614.80,346.37 612.18,348.62 612.98,351.97 610.04,350.17 607.10,351.97 607.90,348.62 605.28,346.37 608.72,346.10" fill="#e8262b" stroke="#1a0000" stroke-width="1.00" stroke-linejoin="miter"/>
<polygon points="620.12,342.92 621.44,346.10 624.88,346.37 622.26,348.62 623.06,351.97 620.12,350.17 617.18,351.97 617.98,348.62 615.36,346.37 618.80,346.10" fill="#e8262b" stroke="#1a0000" stroke-width="1.00" stroke-linejoin="miter"/>
<polygon points="368.12,267.45 369.44,270.63 372.88,270.90 370.26,273.14 371.06,276.49 368.12,274.70 365.18,276.49 365.98,273.14 363.36,270.90 366.80,270.63" fill="#e8262b" stroke="#1a0000" stroke-width="1.00" stroke-linejoin="miter"/>
<polygon points="499.16,268.16 500.48,271.34 503.92,271.61 501.30,273.86 502.10,277.21 499.16,275.41 496.22,277.21 497.02,273.86 494.40,271.61 497.84,271.34" fill="#e8262b" stroke="#1a0000" stroke-width="1.00" stroke-linejoin="miter"/>
<polygon points="630.20,272.43 631.52,275.61 634.96,275.89 632.34,278.13 633.14,281.48 630.20,279.68 627.26,281.48 628.06,278.13 625.44,275.89 628.88,275.61" fill="#e8262b" stroke="#1a0000" stroke-width="1.00" stroke-linejoin="miter"/>
<text x="57.00" y="252.00" font-size="17.5" text-anchor="end" font-weight="normal" stroke="#000" stroke-width="0.25" >120</text>
<text x="57.00" y="192.90" font-size="17.5" text-anchor="end" font-weight="normal" stroke="#000" stroke-width="0.25" >140</text>
<text x="57.00" y="133.80" font-size="17.5" text-anchor="end" font-weight="normal" stroke="#000" stroke-width="0.25" >160</text>
<text x="57.00" y="74.70" font-size="17.5" text-anchor="end" font-weight="normal" stroke="#000" stroke-width="0.25" >180</text>
<text x="57.00" y="453.60" font-size="17.5" text-anchor="end" font-weight="normal" stroke="#000" stroke-width="0.25" >0.80</text>
<text x="57.00" y="418.00" font-size="17.5" text-anchor="end" font-weight="normal" stroke="#000" stroke-width="0.25" >0.85</text>
<text x="57.00" y="382.40" font-size="17.5" text-anchor="end" font-weight="normal" stroke="#000" stroke-width="0.25" >0.90</text>
<text x="57.00" y="346.80" font-size="17.5" text-anchor="end" font-weight="normal" stroke="#000" stroke-width="0.25" >0.95</text>
<text x="57.00" y="311.20" font-size="17.5" text-anchor="end" font-weight="normal" stroke="#000" stroke-width="0.25" >1.00</text>
<text x="57.00" y="275.60" font-size="17.5" text-anchor="end" font-weight="normal" stroke="#000" stroke-width="0.25" >1.05</text>
<text x="66.00" y="472.00" font-size="17.5" text-anchor="middle" font-weight="normal" stroke="#000" stroke-width="0.25" >0</text>
<text x="116.40" y="472.00" font-size="17.5" text-anchor="middle" font-weight="normal" stroke="#000" stroke-width="0.25" >20</text>
<text x="166.80" y="472.00" font-size="17.5" text-anchor="middle" font-weight="normal" stroke="#000" stroke-width="0.25" >40</text>
<text x="217.20" y="472.00" font-size="17.5" text-anchor="middle" font-weight="normal" stroke="#000" stroke-width="0.25" >60</text>
<text x="267.60" y="472.00" font-size="17.5" text-anchor="middle" font-weight="normal" stroke="#000" stroke-width="0.25" >80</text>
<text x="318.00" y="472.00" font-size="17.5" text-anchor="middle" font-weight="normal" stroke="#000" stroke-width="0.25" >100</text>
<text x="199.60" y="492.00" font-size="17.5" text-anchor="middle" font-weight="normal" stroke="#000" stroke-width="0.25" >Cycle</text>
<text x="365.60" y="472.00" font-size="17.5" text-anchor="middle" font-weight="normal" stroke="#000" stroke-width="0.25" >0</text>
<text x="416.00" y="472.00" font-size="17.5" text-anchor="middle" font-weight="normal" stroke="#000" stroke-width="0.25" >20</text>
<text x="466.40" y="472.00" font-size="17.5" text-anchor="middle" font-weight="normal" stroke="#000" stroke-width="0.25" >40</text>
<text x="516.80" y="472.00" font-size="17.5" text-anchor="middle" font-weight="normal" stroke="#000" stroke-width="0.25" >60</text>
<text x="567.20" y="472.00" font-size="17.5" text-anchor="middle" font-weight="normal" stroke="#000" stroke-width="0.25" >80</text>
<text x="617.60" y="472.00" font-size="17.5" text-anchor="middle" font-weight="normal" stroke="#000" stroke-width="0.25" >100</text>
<text x="499.30" y="492.00" font-size="17.5" text-anchor="middle" font-weight="normal" stroke="#000" stroke-width="0.25" >Cycle</text>
<text x="199.25" y="63.50" font-size="17.5" text-anchor="middle" font-weight="normal" stroke="#000" stroke-width="0.25" >3.0-<tspan font-weight="bold">4.2</tspan>V; ±C/5; 30°C</text>
<text x="499.00" y="63.50" font-size="17.5" text-anchor="middle" font-weight="normal" stroke="#000" stroke-width="0.25" >3.0-<tspan font-weight="bold">4.4</tspan>V; ±C/5; 30°C</text>
<text x="318.80" y="92.00" font-size="17.5" text-anchor="middle" font-weight="bold" stroke="#000" stroke-width="0.25" >a</text>
<text x="619.00" y="92.00" font-size="17.5" text-anchor="middle" font-weight="bold" stroke="#000" stroke-width="0.25" >c</text>
<text x="318.00" y="293.00" font-size="17.5" text-anchor="middle" font-weight="bold" stroke="#000" stroke-width="0.25" >b</text>
<text x="618.00" y="293.00" font-size="17.5" text-anchor="middle" font-weight="bold" stroke="#000" stroke-width="0.25" >d</text>
<text stroke="#000" stroke-width="0.25" transform="translate(18.2,157.6) rotate(-90)" font-size="17.5" text-anchor="middle">Specific Capacity (mAh/g)</text>
<text stroke="#000" stroke-width="0.25" transform="translate(14.6,360.8) rotate(-90)" font-size="17.5" text-anchor="middle">Normalized Capacity</text>
<polygon points="229.39,12.76 225.06,17.09 218.94,17.09 214.61,12.76 214.61,6.64 218.94,2.31 225.06,2.31 229.39,6.64" fill="#474747" stroke="#000" stroke-width="1.30" stroke-linejoin="round"/>
<polygon points="229.39,36.76 225.06,41.09 218.94,41.09 214.61,36.76 214.61,30.64 218.94,26.31 225.06,26.31 229.39,30.64" fill="#bdbdbd" stroke="#000" stroke-width="1.30" stroke-linejoin="round"/>
<text x="243.00" y="15.50" font-size="17.5" text-anchor="start" font-weight="normal" stroke="#000" stroke-width="0.25" >Vendor</text>
<text x="243.00" y="39.00" font-size="17.5" text-anchor="start" font-weight="normal" stroke="#000" stroke-width="0.25" >Vendor RH</text>
<polygon points="356.40,11.42 361.63,16.65 363.75,14.53 358.52,9.30 363.75,4.07 361.63,1.95 356.40,7.18 351.17,1.95 349.05,4.07 354.28,9.30 349.05,14.53 351.17,16.65" fill="#f4b08c" stroke="#8a5a40" stroke-width="0.90" stroke-linejoin="round"/>
<polygon points="356.40,26.50 358.46,31.46 363.82,31.89 359.74,35.38 360.98,40.61 356.40,37.81 351.82,40.61 353.06,35.38 348.98,31.89 354.34,31.46" fill="#e8262b" stroke="#2a0000" stroke-width="1.00" stroke-linejoin="miter"/>
<text x="378.00" y="15.50" font-size="17.5" text-anchor="start" font-weight="normal" stroke="#000" stroke-width="0.25" >M1-L124W00</text>
<text x="378.00" y="39.00" font-size="17.5" text-anchor="start" font-weight="normal" stroke="#000" stroke-width="0.25" >M1-L124W03</text>
</svg></body></html>
